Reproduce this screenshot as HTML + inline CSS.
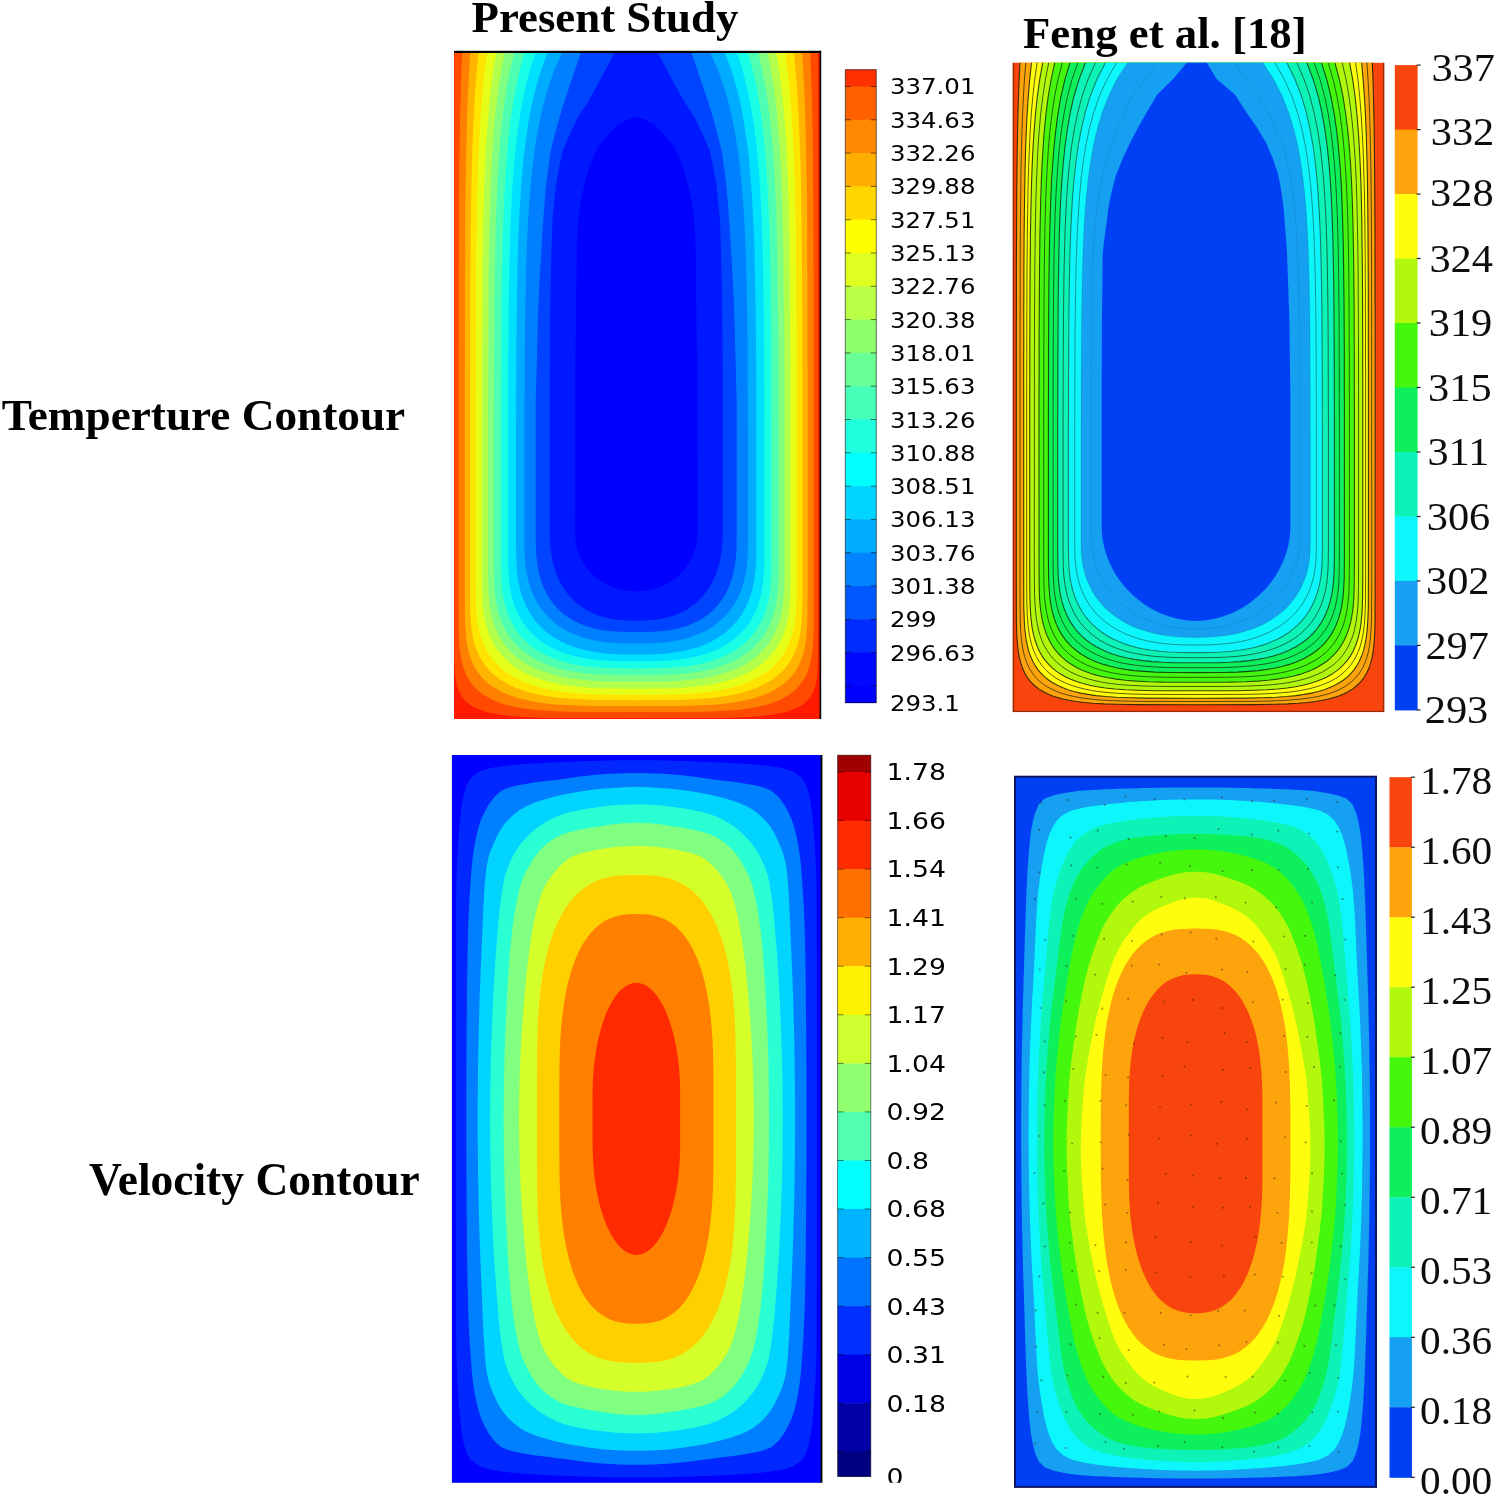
<!DOCTYPE html>
<html lang="en">
<head>
<meta charset="utf-8">
<title>Contour comparison</title>
<style>
html,body{margin:0;padding:0;background:#fff;}
body{width:1499px;height:1510px;overflow:hidden;font-family:"Liberation Serif","DejaVu Serif",serif;}
svg{display:block;}
</style>
</head>
<body>
<svg width="1499" height="1510" viewBox="0 0 1499 1510">
<defs><filter id="soft" x="-2%" y="-2%" width="104%" height="104%"><feGaussianBlur stdDeviation="0.65"/></filter></defs>
<g>
<rect x="454" y="52" width="366.5" height="667" fill="#ff1a00"/>
<path d="M454.4,52 454.4,71.7 454.4,91.4 454.4,111.2 454.4,130.9 454.4,150.6 454.4,170.3 454.4,190.1 454.4,209.8 454.4,229.5 454.4,249.2 454.4,269 454.4,288.7 454.4,308.4 454.4,328.1 454.4,347.9 454.4,367.6 454.4,387.3 454.4,407 454.4,426.8 454.4,446.5 454.4,466.2 454.4,485.9 454.4,505.7 454.4,525.4 454.4,545.1 454.4,564.8 454.4,584.6 454.4,604.3 454.4,624 454.5,660.2 454.9,669.8 455.4,676.5 456.2,681.8 457.2,686.2 458.5,690 460,693.4 461.8,696.4 463.8,699.1 466,701.5 468.6,703.7 471.4,705.7 474.6,707.5 478.1,709.1 481.9,710.6 486.2,711.9 490.9,713.1 496.1,714.1 501.8,715 508.4,715.8 515.8,716.4 524.3,717 534.6,717.4 547.6,717.7 566.1,717.8 636.2,717.9 706.3,717.8 724.8,717.7 737.8,717.4 748.1,717 756.6,716.4 764,715.8 770.6,715 776.3,714.1 781.5,713.1 786.2,711.9 790.5,710.6 794.3,709.1 797.8,707.5 801,705.7 803.8,703.7 806.4,701.5 808.6,699.1 810.6,696.4 812.4,693.4 813.9,690 815.2,686.2 816.2,681.8 817,676.5 817.5,669.8 817.9,660.2 818,624 818,604.3 818,584.6 818,564.8 818,545.1 818,525.4 818,505.7 818,485.9 818,466.2 818,446.5 818,426.8 818,407 818,387.3 818,367.6 818,347.9 818,328.1 818,308.4 818,288.7 818,269 818,249.2 818,229.5 818,209.8 818,190.1 818,170.3 818,150.6 818,130.9 818,111.2 818,91.4 818,71.7 818,52Z" fill="#ff4a00"/>
<path d="M462.1,52 461.4,70.9 460.8,89.7 460.3,108.6 459.9,127.4 459.7,146.3 459.4,165.2 459.3,184 459.1,202.9 459,221.8 458.9,240.6 458.9,259.5 458.8,278.3 458.8,297.2 458.8,316.1 458.8,334.9 458.7,353.8 458.7,372.7 458.7,391.5 458.7,410.4 458.7,429.2 458.7,448.1 458.7,467 458.7,485.8 458.7,504.7 458.7,523.6 458.7,542.4 458.7,561.3 458.7,580.1 458.7,599 458.8,630.5 459.3,642.1 460,650.8 461.1,657.9 462.4,664.1 464.1,669.5 466,674.4 468.3,678.8 470.9,682.8 473.8,686.4 477,689.7 480.6,692.8 484.6,695.6 489,698.1 493.8,700.4 499,702.5 504.7,704.4 511,706 517.9,707.4 525.5,708.7 534,709.7 543.7,710.6 554.9,711.3 568.5,711.7 586.8,712 636.2,712.1 685.6,712 703.9,711.7 717.5,711.3 728.7,710.6 738.4,709.7 746.9,708.7 754.5,707.4 761.4,706 767.7,704.4 773.4,702.5 778.6,700.4 783.4,698.1 787.8,695.6 791.8,692.8 795.4,689.7 798.6,686.4 801.5,682.8 804.1,678.8 806.4,674.4 808.3,669.5 810,664.1 811.3,657.9 812.4,650.8 813.1,642.1 813.6,630.5 813.7,599 813.7,580.1 813.7,561.3 813.7,542.4 813.7,523.6 813.7,504.7 813.7,485.8 813.7,467 813.7,448.1 813.7,429.2 813.7,410.4 813.7,391.5 813.7,372.7 813.7,353.8 813.6,334.9 813.6,316.1 813.6,297.2 813.6,278.3 813.5,259.5 813.5,240.6 813.4,221.8 813.3,202.9 813.1,184 813,165.2 812.7,146.3 812.5,127.4 812.1,108.6 811.6,89.7 811,70.9 810.3,52Z" fill="#ff8000"/>
<path d="M470.3,52 469.1,70.7 468.2,89.4 467.4,108.1 466.8,126.8 466.4,145.4 466,164.1 465.7,182.8 465.5,201.5 465.3,220.2 465.2,238.9 465.1,257.6 465,276.3 465,295 464.9,313.7 464.9,332.3 464.9,351 464.8,369.7 464.8,388.4 464.8,407.1 464.8,425.8 464.8,444.5 464.8,463.2 464.8,481.9 464.8,500.6 464.8,519.2 464.8,537.9 464.8,556.6 464.8,575.3 464.8,594 465,619.3 465.5,630.5 466.3,639.2 467.5,646.5 469,652.9 470.8,658.7 473,663.9 475.5,668.7 478.4,673 481.6,677.1 485.2,680.8 489.2,684.2 493.6,687.3 498.3,690.1 503.5,692.7 509.2,695.1 515.3,697.2 522,699.1 529.3,700.8 537.3,702.2 546.1,703.4 555.9,704.4 567.1,705.1 580.4,705.7 597.5,706 636.2,706.1 674.9,706 692,705.7 705.3,705.1 716.5,704.4 726.3,703.4 735.1,702.2 743.1,700.8 750.4,699.1 757.1,697.2 763.2,695.1 768.9,692.7 774.1,690.1 778.8,687.3 783.2,684.2 787.2,680.8 790.8,677.1 794,673 796.9,668.7 799.4,663.9 801.6,658.7 803.4,652.9 804.9,646.5 806.1,639.2 806.9,630.5 807.4,619.3 807.6,594 807.6,575.3 807.6,556.6 807.6,537.9 807.6,519.2 807.6,500.6 807.6,481.9 807.6,463.2 807.6,444.5 807.6,425.8 807.6,407.1 807.6,388.4 807.6,369.7 807.5,351 807.5,332.3 807.5,313.7 807.4,295 807.4,276.3 807.3,257.6 807.2,238.9 807.1,220.2 806.9,201.5 806.7,182.8 806.4,164.1 806,145.4 805.6,126.8 805,108.1 804.2,89.4 803.3,70.7 802.1,52Z" fill="#ffb400"/>
<path d="M478.6,52 476.8,70.5 475.3,89 474.1,107.4 473.2,125.9 472.5,144.4 471.9,162.9 471.5,181.4 471.1,199.9 470.9,218.3 470.7,236.8 470.5,255.3 470.4,273.8 470.3,292.3 470.2,310.8 470.1,329.2 470.1,347.7 470.1,366.2 470,384.7 470,403.2 470,421.7 470,440.1 470,458.6 470,477.1 470,495.6 470,514.1 470,532.6 470,551 470,569.5 470,588 470.2,609.9 470.7,620.7 471.6,629.3 472.8,636.8 474.4,643.4 476.4,649.3 478.7,654.8 481.4,659.8 484.4,664.4 487.8,668.7 491.6,672.7 495.8,676.3 500.4,679.7 505.4,682.8 510.8,685.6 516.7,688.2 523,690.5 529.9,692.5 537.3,694.3 545.4,695.9 554.2,697.2 564,698.3 575,699.1 587.8,699.7 603.8,700.1 636.2,700.2 668.6,700.1 684.6,699.7 697.4,699.1 708.4,698.3 718.2,697.2 727,695.9 735.1,694.3 742.5,692.5 749.4,690.5 755.7,688.2 761.6,685.6 767,682.8 772,679.7 776.6,676.3 780.8,672.7 784.6,668.7 788,664.4 791,659.8 793.7,654.8 796,649.3 798,643.4 799.6,636.8 800.8,629.3 801.7,620.7 802.2,609.9 802.4,588 802.4,569.5 802.4,551 802.4,532.6 802.4,514.1 802.4,495.6 802.4,477.1 802.4,458.6 802.4,440.1 802.4,421.7 802.4,403.2 802.4,384.7 802.3,366.2 802.3,347.7 802.3,329.2 802.2,310.8 802.1,292.3 802,273.8 801.9,255.3 801.7,236.8 801.5,218.3 801.3,199.9 800.9,181.4 800.5,162.9 799.9,144.4 799.2,125.9 798.3,107.4 797.1,89 795.6,70.5 793.8,52Z" fill="#ffe400"/>
<path d="M487.4,52 484.9,70.3 482.9,88.6 481.4,106.8 480.1,125.1 479.1,143.4 478.4,161.7 477.8,179.9 477.3,198.2 476.9,216.5 476.6,234.8 476.4,253 476.2,271.3 476.1,289.6 476,307.9 475.9,326.1 475.8,344.4 475.8,362.7 475.8,381 475.7,399.2 475.7,417.5 475.7,435.8 475.7,454.1 475.7,472.3 475.7,490.6 475.7,508.9 475.7,527.2 475.7,545.4 475.7,563.7 475.7,582 475.9,601.5 476.4,612.1 477.3,620.7 478.6,628.2 480.3,634.9 482.3,641 484.7,646.6 487.4,651.8 490.6,656.7 494.1,661.2 498,665.3 502.3,669.2 506.9,672.8 512,676.1 517.5,679.1 523.4,681.8 529.8,684.3 536.7,686.5 544.2,688.4 552.2,690.1 560.9,691.5 570.5,692.6 581.1,693.5 593.4,694.2 608.4,694.6 636.2,694.7 664,694.6 679,694.2 691.3,693.5 701.9,692.6 711.5,691.5 720.2,690.1 728.2,688.4 735.7,686.5 742.6,684.3 749,681.8 754.9,679.1 760.4,676.1 765.5,672.8 770.1,669.2 774.4,665.3 778.3,661.2 781.8,656.7 785,651.8 787.7,646.6 790.1,641 792.1,634.9 793.8,628.2 795.1,620.7 796,612.1 796.5,601.5 796.7,582 796.7,563.7 796.7,545.4 796.7,527.2 796.7,508.9 796.7,490.6 796.7,472.3 796.7,454.1 796.7,435.8 796.7,417.5 796.7,399.2 796.6,381 796.6,362.7 796.6,344.4 796.5,326.1 796.4,307.9 796.3,289.6 796.2,271.3 796,253 795.8,234.8 795.5,216.5 795.1,198.2 794.6,179.9 794,161.7 793.3,143.4 792.3,125.1 791,106.8 789.5,88.6 787.5,70.3 785,52Z" fill="#e6ff18"/>
<path d="M496.4,52 493.3,70.1 490.9,88.1 489,106.2 487.5,124.3 486.2,142.3 485.3,160.4 484.5,178.5 483.9,196.6 483.5,214.6 483.1,232.7 482.8,250.8 482.6,268.8 482.4,286.9 482.3,305 482.2,323 482.1,341.1 482,359.2 482,377.2 482,395.3 481.9,413.4 481.9,431.4 481.9,449.5 481.9,467.6 481.9,485.7 481.9,503.7 481.9,521.8 481.9,539.9 481.9,557.9 481.9,576 482.1,594 482.6,604.2 483.6,612.7 484.8,620.2 486.5,627 488.5,633.2 490.9,638.9 493.7,644.3 496.8,649.2 500.4,653.8 504.3,658.1 508.5,662.1 513.2,665.8 518.3,669.2 523.7,672.4 529.6,675.2 535.9,677.8 542.7,680.1 550,682.1 557.9,683.9 566.4,685.3 575.7,686.5 585.9,687.5 597.5,688.2 611.6,688.6 636.2,688.7 660.8,688.6 674.9,688.2 686.5,687.5 696.7,686.5 706,685.3 714.5,683.9 722.4,682.1 729.7,680.1 736.5,677.8 742.8,675.2 748.7,672.4 754.1,669.2 759.2,665.8 763.9,662.1 768.1,658.1 772,653.8 775.6,649.2 778.7,644.3 781.5,638.9 783.9,633.2 785.9,627 787.6,620.2 788.8,612.7 789.8,604.2 790.3,594 790.5,576 790.5,557.9 790.5,539.9 790.5,521.8 790.5,503.7 790.5,485.7 790.5,467.6 790.5,449.5 790.5,431.4 790.5,413.4 790.4,395.3 790.4,377.2 790.4,359.2 790.3,341.1 790.2,323 790.1,305 790,286.9 789.8,268.8 789.6,250.8 789.3,232.7 788.9,214.6 788.5,196.6 787.9,178.5 787.1,160.4 786.2,142.3 784.9,124.3 783.4,106.2 781.5,88.1 779.1,70.1 776,52Z" fill="#b2ff4c"/>
<path d="M505,52 501.5,69.9 498.6,87.7 496.4,105.6 494.6,123.4 493.2,141.3 492,159.2 491.1,177 490.4,194.9 489.9,212.8 489.4,230.6 489.1,248.5 488.8,266.3 488.6,284.2 488.5,302.1 488.3,319.9 488.2,337.8 488.2,355.7 488.1,373.5 488.1,391.4 488,409.2 488,427.1 488,445 488,462.8 488,480.7 488,498.6 488,516.4 488,534.3 488,552.1 488,570 488.2,587.2 488.7,597.2 489.6,605.6 490.9,613 492.5,619.8 494.5,625.9 496.9,631.7 499.6,637 502.6,642 506.1,646.6 509.9,651 514.1,655 518.6,658.7 523.6,662.1 528.9,665.3 534.6,668.2 540.8,670.8 547.4,673.1 554.4,675.1 562,676.9 570.2,678.4 579.2,679.6 589,680.6 600.1,681.3 613.5,681.7 636.2,681.8 658.9,681.7 672.3,681.3 683.4,680.6 693.2,679.6 702.2,678.4 710.4,676.9 718,675.1 725,673.1 731.6,670.8 737.8,668.2 743.5,665.3 748.8,662.1 753.8,658.7 758.3,655 762.5,651 766.3,646.6 769.8,642 772.8,637 775.5,631.7 777.9,625.9 779.9,619.8 781.5,613 782.8,605.6 783.7,597.2 784.2,587.2 784.4,570 784.4,552.1 784.4,534.3 784.4,516.4 784.4,498.6 784.4,480.7 784.4,462.8 784.4,445 784.4,427.1 784.4,409.2 784.3,391.4 784.3,373.5 784.2,355.7 784.2,337.8 784.1,319.9 783.9,302.1 783.8,284.2 783.6,266.3 783.3,248.5 783,230.6 782.5,212.8 782,194.9 781.3,177 780.4,159.2 779.2,141.3 777.8,123.4 776,105.6 773.8,87.7 770.9,69.9 767.4,52Z" fill="#80ff80"/>
<path d="M514.4,52 510.2,69.7 506.8,87.3 504.1,105 502,122.6 500.3,140.3 498.9,157.9 497.8,175.6 497,193.2 496.3,210.9 495.8,228.6 495.4,246.2 495,263.9 494.8,281.5 494.6,299.2 494.4,316.8 494.3,334.5 494.2,352.1 494.1,369.8 494.1,387.4 494.1,405.1 494,422.8 494,440.4 494,458.1 494,475.7 494,493.4 494,511 494,528.7 494,546.3 494,564 494.2,580.4 494.7,590.3 495.6,598.6 496.8,605.9 498.4,612.7 500.4,618.8 502.7,624.6 505.3,630 508.3,635 511.7,639.7 515.4,644 519.5,648.1 524,651.9 528.8,655.3 534,658.5 539.5,661.4 545.5,664.1 551.9,666.4 558.8,668.5 566.1,670.3 574,671.8 582.6,673.1 592,674.1 602.7,674.7 615.3,675.2 636.2,675.3 657.1,675.2 669.7,674.7 680.4,674.1 689.8,673.1 698.4,671.8 706.3,670.3 713.6,668.5 720.5,666.4 726.9,664.1 732.9,661.4 738.4,658.5 743.6,655.3 748.4,651.9 752.9,648.1 757,644 760.7,639.7 764.1,635 767.1,630 769.7,624.6 772,618.8 774,612.7 775.6,605.9 776.8,598.6 777.7,590.3 778.2,580.4 778.4,564 778.4,546.3 778.4,528.7 778.4,511 778.4,493.4 778.4,475.7 778.4,458.1 778.4,440.4 778.4,422.8 778.3,405.1 778.3,387.4 778.3,369.8 778.2,352.1 778.1,334.5 778,316.8 777.8,299.2 777.6,281.5 777.4,263.9 777,246.2 776.6,228.6 776.1,210.9 775.4,193.2 774.6,175.6 773.5,157.9 772.1,140.3 770.4,122.6 768.3,105 765.6,87.3 762.2,69.7 758,52Z" fill="#4effb2"/>
<path d="M524.8,52 519.9,69.4 516,86.9 512.9,104.3 510.4,121.8 508.4,139.2 506.8,156.7 505.6,174.1 504.6,191.6 503.8,209 503.1,226.5 502.6,243.9 502.3,261.4 501.9,278.8 501.7,296.3 501.5,313.7 501.4,331.2 501.3,348.6 501.2,366.1 501.1,383.5 501.1,401 501,418.4 501,435.9 501,453.3 501,470.8 501,488.2 501,505.7 501,523.1 501,540.6 501,558 501.2,573.9 501.7,583.6 502.5,591.8 503.7,599.1 505.3,605.8 507.1,612 509.3,617.7 511.9,623 514.8,628 518,632.7 521.6,637.1 525.5,641.1 529.8,644.9 534.4,648.4 539.4,651.6 544.7,654.5 550.4,657.1 556.5,659.5 563.1,661.6 570.1,663.4 577.6,664.9 585.8,666.2 594.8,667.1 604.8,667.8 616.7,668.3 636.2,668.4 655.7,668.3 667.6,667.8 677.6,667.1 686.6,666.2 694.8,664.9 702.3,663.4 709.3,661.6 715.9,659.5 722,657.1 727.7,654.5 733,651.6 738,648.4 742.6,644.9 746.9,641.1 750.8,637.1 754.4,632.7 757.6,628 760.5,623 763.1,617.7 765.3,612 767.1,605.8 768.7,599.1 769.9,591.8 770.7,583.6 771.2,573.9 771.4,558 771.4,540.6 771.4,523.1 771.4,505.7 771.4,488.2 771.4,470.8 771.4,453.3 771.4,435.9 771.4,418.4 771.3,401 771.3,383.5 771.2,366.1 771.1,348.6 771,331.2 770.9,313.7 770.7,296.3 770.5,278.8 770.1,261.4 769.8,243.9 769.3,226.5 768.6,209 767.8,191.6 766.8,174.1 765.6,156.7 764,139.2 762,121.8 759.5,104.3 756.4,86.9 752.5,69.4 747.6,52Z" fill="#18ffe6"/>
<path d="M535.7,52 530.1,69.2 525.6,86.5 522,103.7 519.1,121 516.8,138.2 514.9,155.4 513.4,172.7 512.2,189.9 511.3,207.2 510.6,224.4 510,241.7 509.5,258.9 509.2,276.1 508.9,293.4 508.6,310.6 508.5,327.9 508.3,345.1 508.2,362.3 508.2,379.6 508.1,396.8 508.1,414.1 508,431.3 508,448.6 508,465.8 508,483 508,500.3 508,517.5 508,534.8 508,552 508.2,566.8 508.7,576.2 509.5,584.2 510.7,591.4 512.2,598.1 514,604.2 516.2,610 518.7,615.3 521.5,620.4 524.6,625.1 528.1,629.5 531.9,633.6 536.1,637.4 540.6,641 545.4,644.2 550.6,647.2 556.1,649.9 562,652.3 568.3,654.4 575,656.3 582.2,657.8 590,659.1 598.4,660.1 607.9,660.8 618.9,661.3 636.2,661.4 653.5,661.3 664.5,660.8 674,660.1 682.4,659.1 690.2,657.8 697.4,656.3 704.1,654.4 710.4,652.3 716.3,649.9 721.8,647.2 727,644.2 731.8,641 736.3,637.4 740.5,633.6 744.3,629.5 747.8,625.1 750.9,620.4 753.7,615.3 756.2,610 758.4,604.2 760.2,598.1 761.7,591.4 762.9,584.2 763.7,576.2 764.2,566.8 764.4,552 764.4,534.8 764.4,517.5 764.4,500.3 764.4,483 764.4,465.8 764.4,448.6 764.4,431.3 764.3,414.1 764.3,396.8 764.2,379.6 764.2,362.3 764.1,345.1 763.9,327.9 763.8,310.6 763.5,293.4 763.2,276.1 762.9,258.9 762.4,241.7 761.8,224.4 761.1,207.2 760.2,189.9 759,172.7 757.5,155.4 755.6,138.2 753.3,121 750.4,103.7 746.8,86.5 742.3,69.2 736.7,52Z" fill="#00e0ff"/>
<path d="M547.7,52 541.4,69 536.3,86.1 532.1,103.1 528.8,120.1 526.2,137.2 524,154.2 522.3,171.2 521,188.3 519.9,205.3 519,222.3 518.3,239.4 517.8,256.4 517.4,273.4 517,290.5 516.8,307.5 516.6,324.6 516.4,341.6 516.3,358.6 516.2,375.7 516.1,392.7 516.1,409.7 516,426.8 516,443.8 516,460.8 516,477.9 516,494.9 516,511.9 516,529 516,546 516.2,559.1 516.7,568.1 517.5,575.9 518.6,583 520.1,589.6 521.9,595.7 524.1,601.5 526.5,606.9 529.3,612.1 532.4,616.9 535.8,621.4 539.5,625.6 543.6,629.6 548,633.2 552.7,636.6 557.7,639.7 563,642.5 568.7,645 574.7,647.2 581.1,649.1 587.9,650.8 595.2,652.1 603.1,653.2 611.7,653.9 621.7,654.4 636.2,654.5 650.7,654.4 660.7,653.9 669.3,653.2 677.2,652.1 684.5,650.8 691.3,649.1 697.7,647.2 703.7,645 709.4,642.5 714.7,639.7 719.7,636.6 724.4,633.2 728.8,629.6 732.9,625.6 736.6,621.4 740,616.9 743.1,612.1 745.9,606.9 748.3,601.5 750.5,595.7 752.3,589.6 753.8,583 754.9,575.9 755.7,568.1 756.2,559.1 756.4,546 756.4,529 756.4,511.9 756.4,494.9 756.4,477.9 756.4,460.8 756.4,443.8 756.4,426.8 756.3,409.7 756.3,392.7 756.2,375.7 756.1,358.6 756,341.6 755.8,324.6 755.6,307.5 755.4,290.5 755,273.4 754.6,256.4 754.1,239.4 753.4,222.3 752.5,205.3 751.4,188.3 750.1,171.2 748.4,154.2 746.2,137.2 743.6,120.1 740.3,103.1 736.1,86.1 731,69 724.7,52Z" fill="#00acff"/>
<path d="M562.4,52 554.9,68.8 548.8,85.7 543.9,102.5 540,119.3 536.8,136.1 534.2,153 532.2,169.8 530.5,186.6 529.2,203.4 528.1,220.3 527.3,237.1 526.6,253.9 526.1,270.8 525.7,287.6 525.4,304.4 525.1,321.2 524.9,338.1 524.8,354.9 524.7,371.7 524.6,388.6 524.5,405.4 524.5,422.2 524.4,439 524.4,455.9 524.4,472.7 524.4,489.5 524.4,506.3 524.4,523.2 524.4,540 524.6,551.9 525,560.3 525.8,567.7 526.9,574.5 528.3,580.7 530,586.6 532.1,592.2 534.4,597.4 537,602.4 540,607 543.2,611.4 546.7,615.5 550.6,619.3 554.7,622.9 559.1,626.2 563.9,629.2 568.9,631.9 574.2,634.3 579.9,636.5 585.9,638.4 592.2,640 599,641.3 606.3,642.3 614.3,643 623.3,643.5 636.2,643.6 649.1,643.5 658.1,643 666.1,642.3 673.4,641.3 680.2,640 686.5,638.4 692.5,636.5 698.2,634.3 703.5,631.9 708.5,629.2 713.3,626.2 717.7,622.9 721.8,619.3 725.7,615.5 729.2,611.4 732.4,607 735.4,602.4 738,597.4 740.3,592.2 742.4,586.6 744.1,580.7 745.5,574.5 746.6,567.7 747.4,560.3 747.8,551.9 748,540 748,523.2 748,506.3 748,489.5 748,472.7 748,455.9 748,439 747.9,422.2 747.9,405.4 747.8,388.6 747.7,371.7 747.6,354.9 747.5,338.1 747.3,321.2 747,304.4 746.7,287.6 746.3,270.8 745.8,253.9 745.1,237.1 744.3,220.3 743.2,203.4 741.9,186.6 740.2,169.8 738.2,153 735.6,136.1 732.4,119.3 728.5,102.5 723.6,85.7 717.5,68.8 710,52Z" fill="#0080ff"/>
<path d="M581.1,52 575.5,68.6 569.8,85.2 564.2,101.9 559.1,118.5 554.7,135.1 550.5,151.7 548.3,168.3 546.1,185 544.6,201.6 543.4,218.2 542.2,234.8 541.3,251.4 540.3,268.1 539.4,284.7 538.5,301.3 538,317.9 537.5,334.6 537.1,351.2 536.6,367.8 536.2,384.4 535.7,401 535.7,417.7 535.7,434.3 535.7,450.9 535.7,467.5 535.7,484.1 535.7,500.8 535.7,517.4 535.7,534 535.8,546 536.2,554.1 536.9,561.2 537.9,567.6 539.1,573.5 540.6,579.1 542.4,584.3 544.5,589.2 546.8,593.9 549.4,598.2 552.2,602.3 555.3,606.1 558.7,609.7 562.3,613 566.2,616 570.4,618.8 574.9,621.3 579.6,623.6 584.6,625.5 590,627.3 595.7,628.8 601.8,630 608.4,630.9 615.6,631.6 623.9,632 636.2,632.1 648.5,632 656.8,631.6 664,630.9 670.6,630 676.7,628.8 682.4,627.3 687.8,625.5 692.8,623.6 697.5,621.3 702,618.8 706.2,616 710.1,613 713.7,609.7 717.1,606.1 720.2,602.3 723,598.2 725.6,593.9 727.9,589.2 730,584.3 731.8,579.1 733.3,573.5 734.5,567.6 735.5,561.2 736.2,554.1 736.6,546 736.7,534 736.7,517.4 736.7,500.8 736.7,484.1 736.7,467.5 736.7,450.9 736.7,434.3 736.7,417.7 736.7,401 736.2,384.4 735.8,367.8 735.3,351.2 734.9,334.6 734.4,317.9 733.9,301.3 733,284.7 732.1,268.1 731.1,251.4 730.2,234.8 729,218.2 727.8,201.6 726.3,185 724.1,168.3 721.9,151.7 717.7,135.1 713.3,118.5 708.2,101.9 702.6,85.2 696.9,68.6 691.3,52Z" fill="#0044ff"/>
<path d="M615.1,52 606.2,68.4 597.4,84.9 588.4,101.3 577.6,117.8 569.8,134.2 562.6,150.7 559.2,167.1 556.2,183.6 554.4,200 552.7,216.5 552,232.9 551.5,249.4 551.1,265.8 550.7,282.3 550.3,298.7 550.1,315.2 550,331.6 549.9,348.1 549.8,364.5 549.7,381 549.7,397.4 549.7,413.9 549.7,430.3 549.7,446.8 549.7,463.2 549.7,479.7 549.7,496.1 549.7,512.6 549.7,529 549.8,538.1 550.2,545.1 550.9,551.4 551.8,557.3 552.9,562.8 554.4,568.1 556,573.1 557.9,577.8 560.1,582.3 562.5,586.6 565.2,590.6 568.1,594.4 571.2,597.9 574.5,601.2 578.1,604.3 581.9,607.1 585.9,609.7 590.2,612 594.6,614 599.4,615.8 604.3,617.3 609.5,618.5 615.1,619.5 621,620.1 627.6,620.6 636.2,620.7 644.8,620.6 651.4,620.1 657.3,619.5 662.9,618.5 668.1,617.3 673,615.8 677.8,614 682.2,612 686.5,609.7 690.5,607.1 694.3,604.3 697.9,601.2 701.2,597.9 704.3,594.4 707.2,590.6 709.9,586.6 712.3,582.3 714.5,577.8 716.4,573.1 718,568.1 719.5,562.8 720.6,557.3 721.5,551.4 722.2,545.1 722.6,538.1 722.7,529 722.7,512.6 722.7,496.1 722.7,479.7 722.7,463.2 722.7,446.8 722.7,430.3 722.7,413.9 722.7,397.4 722.7,381 722.6,364.5 722.5,348.1 722.4,331.6 722.3,315.2 722.1,298.7 721.7,282.3 721.3,265.8 720.9,249.4 720.4,232.9 719.7,216.5 718,200 716.2,183.6 713.2,167.1 709.8,150.7 702.6,134.2 694.8,117.8 684,101.3 675,84.9 666.2,68.4 657.3,52Z" fill="#0018ff"/>
<path d="M636.2,117.1 629,119 618.2,124 608,135 598.8,146 594.5,154.5 588.5,170 584.2,185.4 581,200 578.7,216 577.2,235 576.7,253 576.2,300 575.3,360 575.1,534 575.1,534 575.2,537.5 575.5,541 576.1,544.4 576.9,547.8 577.9,551.2 579.1,554.5 580.5,557.7 582.1,560.8 583.9,563.8 585.9,566.7 588,569.5 590.4,572.1 592.9,574.7 595.6,577 598.4,579.2 601.4,581.3 604.5,583.2 607.7,584.9 611,586.4 614.4,587.7 617.9,588.8 621.5,589.7 625.1,590.5 628.8,591 632.5,591.3 636.2,591.4 639.9,591.3 643.6,591 647.3,590.5 650.9,589.7 654.5,588.8 658,587.7 661.4,586.4 664.7,584.9 667.9,583.2 671,581.3 674,579.2 676.8,577 679.5,574.7 682,572.1 684.4,569.5 686.5,566.7 688.5,563.8 690.3,560.8 691.9,557.7 693.3,554.5 694.5,551.2 695.5,547.8 696.3,544.4 696.9,541 697.2,537.5 697.3,534 697.3,534 697.1,360 696.2,300 695.7,253 695.2,235 693.7,216 691.4,200 688.2,185.4 683.9,170 677.9,154.5 673.6,146 664.4,135 654.2,124 643.4,119Z" fill="#0000ff"/>
<rect x="454" y="50.8" width="367.1" height="2.2" fill="#000"/>
<rect x="819.6" y="50.8" width="1.6" height="668.2" fill="#000"/>
</g>
<g>
<rect x="845.3" y="69.6" width="31" height="17.4" fill="#ff3000"/>
<rect x="845.3" y="86.5" width="31" height="33.8" fill="#ff6000"/>
<rect x="845.3" y="119.8" width="31" height="33.8" fill="#ff8800"/>
<rect x="845.3" y="153.1" width="31" height="33.8" fill="#ffae00"/>
<rect x="845.3" y="186.4" width="31" height="33.8" fill="#ffd600"/>
<rect x="845.3" y="219.7" width="31" height="33.8" fill="#ffff00"/>
<rect x="845.3" y="253" width="31" height="33.8" fill="#deff20"/>
<rect x="845.3" y="286.3" width="31" height="33.8" fill="#b8ff46"/>
<rect x="845.3" y="319.6" width="31" height="33.8" fill="#90ff6e"/>
<rect x="845.3" y="352.9" width="31" height="33.8" fill="#68ff96"/>
<rect x="845.3" y="386.2" width="31" height="33.8" fill="#46ffb8"/>
<rect x="845.3" y="419.5" width="31" height="33.8" fill="#20ffde"/>
<rect x="845.3" y="452.8" width="31" height="33.8" fill="#00ffff"/>
<rect x="845.3" y="486.1" width="31" height="33.8" fill="#00d4ff"/>
<rect x="845.3" y="519.4" width="31" height="33.8" fill="#00acff"/>
<rect x="845.3" y="552.7" width="31" height="33.8" fill="#0084ff"/>
<rect x="845.3" y="586" width="31" height="33.8" fill="#0058ff"/>
<rect x="845.3" y="619.3" width="31" height="33.8" fill="#002cff"/>
<rect x="845.3" y="652.6" width="31" height="33.8" fill="#0008ff"/>
<rect x="845.3" y="685.9" width="31" height="17.2" fill="#0000ff"/>
<path d="M845.3,86.5 h5.5 M876.3,86.5 h-5.5" stroke="#000" stroke-opacity="0.55" stroke-width="1"/>
<path d="M845.3,119.8 h5.5 M876.3,119.8 h-5.5" stroke="#000" stroke-opacity="0.55" stroke-width="1"/>
<path d="M845.3,153.1 h5.5 M876.3,153.1 h-5.5" stroke="#000" stroke-opacity="0.55" stroke-width="1"/>
<path d="M845.3,186.4 h5.5 M876.3,186.4 h-5.5" stroke="#000" stroke-opacity="0.55" stroke-width="1"/>
<path d="M845.3,219.7 h5.5 M876.3,219.7 h-5.5" stroke="#000" stroke-opacity="0.55" stroke-width="1"/>
<path d="M845.3,253 h5.5 M876.3,253 h-5.5" stroke="#000" stroke-opacity="0.55" stroke-width="1"/>
<path d="M845.3,286.3 h5.5 M876.3,286.3 h-5.5" stroke="#000" stroke-opacity="0.55" stroke-width="1"/>
<path d="M845.3,319.6 h5.5 M876.3,319.6 h-5.5" stroke="#000" stroke-opacity="0.55" stroke-width="1"/>
<path d="M845.3,352.9 h5.5 M876.3,352.9 h-5.5" stroke="#000" stroke-opacity="0.55" stroke-width="1"/>
<path d="M845.3,386.2 h5.5 M876.3,386.2 h-5.5" stroke="#000" stroke-opacity="0.55" stroke-width="1"/>
<path d="M845.3,419.5 h5.5 M876.3,419.5 h-5.5" stroke="#000" stroke-opacity="0.55" stroke-width="1"/>
<path d="M845.3,452.8 h5.5 M876.3,452.8 h-5.5" stroke="#000" stroke-opacity="0.55" stroke-width="1"/>
<path d="M845.3,486.1 h5.5 M876.3,486.1 h-5.5" stroke="#000" stroke-opacity="0.55" stroke-width="1"/>
<path d="M845.3,519.4 h5.5 M876.3,519.4 h-5.5" stroke="#000" stroke-opacity="0.55" stroke-width="1"/>
<path d="M845.3,552.7 h5.5 M876.3,552.7 h-5.5" stroke="#000" stroke-opacity="0.55" stroke-width="1"/>
<path d="M845.3,586 h5.5 M876.3,586 h-5.5" stroke="#000" stroke-opacity="0.55" stroke-width="1"/>
<path d="M845.3,619.3 h5.5 M876.3,619.3 h-5.5" stroke="#000" stroke-opacity="0.55" stroke-width="1"/>
<path d="M845.3,652.6 h5.5 M876.3,652.6 h-5.5" stroke="#000" stroke-opacity="0.55" stroke-width="1"/>
<path d="M845.3,685.9 h5.5 M876.3,685.9 h-5.5" stroke="#000" stroke-opacity="0.55" stroke-width="1"/>
<rect x="845.3" y="69.6" width="31" height="633" fill="none" stroke="#000" stroke-opacity="0.55" stroke-width="1"/>
<g font-family="'DejaVu Sans', 'Liberation Sans', sans-serif" font-size="22" fill="#000">
<text x="890" y="94.5" transform="translate(890 0) scale(1.11 1) translate(-890 0)">337.01</text>
<text x="890" y="127.8" transform="translate(890 0) scale(1.11 1) translate(-890 0)">334.63</text>
<text x="890" y="161.1" transform="translate(890 0) scale(1.11 1) translate(-890 0)">332.26</text>
<text x="890" y="194.4" transform="translate(890 0) scale(1.11 1) translate(-890 0)">329.88</text>
<text x="890" y="227.7" transform="translate(890 0) scale(1.11 1) translate(-890 0)">327.51</text>
<text x="890" y="261" transform="translate(890 0) scale(1.11 1) translate(-890 0)">325.13</text>
<text x="890" y="294.3" transform="translate(890 0) scale(1.11 1) translate(-890 0)">322.76</text>
<text x="890" y="327.6" transform="translate(890 0) scale(1.11 1) translate(-890 0)">320.38</text>
<text x="890" y="360.9" transform="translate(890 0) scale(1.11 1) translate(-890 0)">318.01</text>
<text x="890" y="394.2" transform="translate(890 0) scale(1.11 1) translate(-890 0)">315.63</text>
<text x="890" y="427.5" transform="translate(890 0) scale(1.11 1) translate(-890 0)">313.26</text>
<text x="890" y="460.8" transform="translate(890 0) scale(1.11 1) translate(-890 0)">310.88</text>
<text x="890" y="494.1" transform="translate(890 0) scale(1.11 1) translate(-890 0)">308.51</text>
<text x="890" y="527.4" transform="translate(890 0) scale(1.11 1) translate(-890 0)">306.13</text>
<text x="890" y="560.7" transform="translate(890 0) scale(1.11 1) translate(-890 0)">303.76</text>
<text x="890" y="594" transform="translate(890 0) scale(1.11 1) translate(-890 0)">301.38</text>
<text x="890" y="627.3" transform="translate(890 0) scale(1.11 1) translate(-890 0)">299</text>
<text x="890" y="660.6" transform="translate(890 0) scale(1.11 1) translate(-890 0)">296.63</text>
<text x="890" y="710.6" transform="translate(890 0) scale(1.11 1) translate(-890 0)">293.1</text>
</g></g>
<g filter="url(#soft)">
<rect x="1012.7" y="62.8" width="371.6" height="649.3" fill="#f84408"/>
<path d="M1020,62.8 1019.1,80.7 1018.4,98.6 1017.9,116.5 1017.5,134.4 1017.2,152.3 1017,170.2 1016.8,188.1 1016.7,206.1 1016.6,224 1016.5,241.9 1016.4,259.8 1016.4,277.7 1016.4,295.6 1016.4,313.5 1016.3,331.4 1016.3,349.3 1016.3,367.2 1016.3,385.1 1016.3,403 1016.3,420.9 1016.3,438.8 1016.3,456.8 1016.3,474.7 1016.3,492.6 1016.3,510.5 1016.3,528.4 1016.3,546.3 1016.3,564.2 1016.3,582.1 1016.4,622.9 1016.8,635.6 1017.5,644.7 1018.4,652.1 1019.5,658.3 1021,663.7 1022.7,668.6 1024.7,672.9 1026.9,676.8 1029.5,680.3 1032.4,683.5 1035.6,686.5 1039.1,689.1 1043,691.5 1047.3,693.7 1052,695.7 1057.2,697.4 1062.9,699 1069.2,700.3 1076.2,701.5 1084.2,702.5 1093.3,703.3 1104.1,703.9 1117.5,704.3 1136,704.6 1195.7,704.7 1255.4,704.6 1273.9,704.3 1287.3,703.9 1298.1,703.3 1307.2,702.5 1315.2,701.5 1322.2,700.3 1328.5,699 1334.2,697.4 1339.4,695.7 1344.1,693.7 1348.4,691.5 1352.3,689.1 1355.8,686.5 1359,683.5 1361.9,680.3 1364.5,676.8 1366.7,672.9 1368.7,668.6 1370.4,663.7 1371.9,658.3 1373,652.1 1373.9,644.7 1374.6,635.6 1375,622.9 1375.1,582.1 1375.1,564.2 1375.1,546.3 1375.1,528.4 1375.1,510.5 1375.1,492.6 1375.1,474.7 1375.1,456.8 1375.1,438.8 1375.1,420.9 1375.1,403 1375.1,385.1 1375.1,367.2 1375.1,349.3 1375.1,331.4 1375.1,313.5 1375,295.6 1375,277.7 1375,259.8 1375,241.9 1374.9,224 1374.8,206.1 1374.7,188.1 1374.6,170.2 1374.4,152.3 1374.2,134.4 1373.9,116.5 1373.5,98.6 1373,80.7 1372.3,62.8Z" fill="#fda40e"/>
<path d="M1031.5,62.8 1029.6,80.4 1028.2,97.9 1027.1,115.5 1026.2,133 1025.6,150.6 1025.1,168.2 1024.8,185.7 1024.5,203.3 1024.3,220.9 1024.1,238.4 1024,256 1023.9,273.5 1023.9,291.1 1023.8,308.7 1023.8,326.2 1023.8,343.8 1023.7,361.4 1023.7,378.9 1023.7,396.5 1023.7,414 1023.7,431.6 1023.7,449.2 1023.7,466.7 1023.7,484.3 1023.7,501.9 1023.7,519.4 1023.7,537 1023.7,554.5 1023.7,572.1 1023.8,607.8 1024.3,620.8 1025,630.5 1026,638.4 1027.3,645.2 1028.8,651.2 1030.7,656.6 1032.9,661.5 1035.4,665.9 1038.1,669.9 1041.3,673.6 1044.7,676.9 1048.6,680 1052.8,682.8 1057.4,685.3 1062.4,687.6 1067.9,689.7 1073.9,691.5 1080.6,693.1 1087.9,694.4 1096.1,695.6 1105.4,696.5 1116.3,697.3 1129.5,697.8 1147.2,698.1 1196.1,698.2 1244.9,698.1 1262.6,697.8 1275.8,697.3 1286.7,696.5 1296,695.6 1304.2,694.4 1311.5,693.1 1318.2,691.5 1324.2,689.7 1329.7,687.6 1334.7,685.3 1339.3,682.8 1343.5,680 1347.4,676.9 1350.8,673.6 1354,669.9 1356.7,665.9 1359.2,661.5 1361.4,656.6 1363.3,651.2 1364.8,645.2 1366.1,638.4 1367.1,630.5 1367.8,620.8 1368.3,607.8 1368.4,572.1 1368.4,554.5 1368.4,537 1368.4,519.4 1368.4,501.9 1368.4,484.3 1368.4,466.7 1368.4,449.2 1368.4,431.6 1368.4,414 1368.4,396.5 1368.4,378.9 1368.4,361.4 1368.3,343.8 1368.3,326.2 1368.3,308.7 1368.3,291.1 1368.2,273.5 1368.1,256 1368,238.4 1367.9,220.9 1367.7,203.3 1367.5,185.7 1367.2,168.2 1366.7,150.6 1366.2,133 1365.5,115.5 1364.5,97.9 1363.2,80.4 1361.6,62.8Z" fill="#fffc10"/>
<path d="M1042.7,62.8 1039.6,80.2 1037.2,97.6 1035.4,115 1034,132.4 1032.9,149.7 1032.1,167.1 1031.5,184.5 1031.1,201.9 1030.7,219.3 1030.4,236.7 1030.3,254.1 1030.1,271.5 1030,288.9 1029.9,306.3 1029.9,323.6 1029.8,341 1029.8,358.4 1029.8,375.8 1029.7,393.2 1029.7,410.6 1029.7,428 1029.7,445.4 1029.7,462.8 1029.7,480.2 1029.7,497.5 1029.7,514.9 1029.7,532.3 1029.7,549.7 1029.7,567.1 1029.9,597.5 1030.3,610 1031.1,619.6 1032.1,627.6 1033.5,634.6 1035.2,640.8 1037.2,646.3 1039.5,651.4 1042.2,656.1 1045.2,660.3 1048.5,664.2 1052.2,667.8 1056.2,671.1 1060.6,674.1 1065.5,676.9 1070.7,679.3 1076.5,681.5 1082.7,683.5 1089.6,685.2 1097.1,686.7 1105.4,688 1114.8,689 1125.5,689.8 1138.4,690.3 1155.3,690.7 1196.2,690.8 1237.2,690.7 1254.1,690.3 1267,689.8 1277.7,689 1287.1,688 1295.4,686.7 1302.9,685.2 1309.8,683.5 1316,681.5 1321.8,679.3 1327,676.9 1331.9,674.1 1336.3,671.1 1340.3,667.8 1344,664.2 1347.3,660.3 1350.3,656.1 1353,651.4 1355.3,646.3 1357.3,640.8 1359,634.6 1360.4,627.6 1361.4,619.6 1362.2,610 1362.6,597.5 1362.8,567.1 1362.8,549.7 1362.8,532.3 1362.8,514.9 1362.8,497.5 1362.8,480.2 1362.8,462.8 1362.8,445.4 1362.8,428 1362.8,410.6 1362.8,393.2 1362.7,375.8 1362.7,358.4 1362.7,341 1362.6,323.6 1362.6,306.3 1362.5,288.9 1362.4,271.5 1362.2,254.1 1362,236.7 1361.8,219.3 1361.4,201.9 1361,184.5 1360.3,167.1 1359.5,149.7 1358.4,132.4 1357,115 1355.2,97.6 1352.8,80.2 1349.6,62.8Z" fill="#b2f80e"/>
<path d="M1054.7,62.8 1051,80 1048.1,97.2 1045.9,114.5 1044.2,131.7 1043,148.9 1042,166.1 1041.2,183.3 1040.7,200.5 1040.3,217.8 1039.9,235 1039.7,252.2 1039.5,269.4 1039.4,286.6 1039.3,303.8 1039.2,321.1 1039.1,338.3 1039.1,355.5 1039.1,372.7 1039,389.9 1039,407.1 1039,424.4 1039,441.6 1039,458.8 1039,476 1039,493.2 1039,510.4 1039,527.7 1039,544.9 1039,562.1 1039.2,587.3 1039.6,599.2 1040.4,608.5 1041.6,616.4 1043,623.3 1044.8,629.6 1046.9,635.3 1049.3,640.6 1052.1,645.4 1055.2,649.8 1058.6,653.9 1062.4,657.7 1066.6,661.2 1071.2,664.3 1076.1,667.2 1081.5,669.9 1087.4,672.2 1093.7,674.4 1100.5,676.2 1108,677.8 1116.3,679.1 1125.4,680.2 1135.8,681.1 1148,681.7 1163.5,682.1 1196.7,682.2 1229.9,682.1 1245.4,681.7 1257.6,681.1 1268,680.2 1277.1,679.1 1285.4,677.8 1292.9,676.2 1299.7,674.4 1306,672.2 1311.9,669.9 1317.3,667.2 1322.2,664.3 1326.8,661.2 1331,657.7 1334.8,653.9 1338.2,649.8 1341.3,645.4 1344.1,640.6 1346.5,635.3 1348.6,629.6 1350.4,623.3 1351.8,616.4 1353,608.5 1353.8,599.2 1354.2,587.3 1354.4,562.1 1354.4,544.9 1354.4,527.7 1354.4,510.4 1354.4,493.2 1354.4,476 1354.4,458.8 1354.4,441.6 1354.4,424.4 1354.4,407.1 1354.3,389.9 1354.3,372.7 1354.3,355.5 1354.2,338.3 1354.2,321.1 1354.1,303.8 1353.9,286.6 1353.8,269.4 1353.5,252.2 1353.2,235 1352.8,217.8 1352.3,200.5 1351.6,183.3 1350.7,166.1 1349.5,148.9 1347.9,131.7 1345.8,114.5 1343.1,97.2 1339.5,80 1334.9,62.8Z" fill="#44f60e"/>
<path d="M1069.9,62.8 1064.8,79.8 1060.9,96.9 1057.9,113.9 1055.7,131 1053.9,148 1052.6,165.1 1051.5,182.1 1050.8,199.2 1050.2,216.2 1049.7,233.2 1049.4,250.3 1049.1,267.3 1048.9,284.4 1048.8,301.4 1048.7,318.5 1048.6,335.5 1048.5,352.6 1048.5,369.6 1048.5,386.7 1048.4,403.7 1048.4,420.7 1048.4,437.8 1048.4,454.8 1048.4,471.9 1048.4,488.9 1048.4,506 1048.4,523 1048.4,540.1 1048.4,557.1 1048.6,578.2 1049.1,589.1 1049.9,598 1051,605.7 1052.5,612.5 1054.3,618.7 1056.4,624.4 1058.9,629.7 1061.7,634.6 1064.9,639.1 1068.4,643.3 1072.2,647.1 1076.4,650.7 1081,654 1086,657 1091.3,659.7 1097.1,662.2 1103.4,664.4 1110.1,666.3 1117.4,668 1125.4,669.4 1134.2,670.6 1144,671.4 1155.3,672.1 1169.4,672.5 1196.4,672.6 1223.4,672.5 1237.5,672.1 1248.8,671.4 1258.6,670.6 1267.4,669.4 1275.4,668 1282.7,666.3 1289.4,664.4 1295.7,662.2 1301.5,659.7 1306.8,657 1311.8,654 1316.4,650.7 1320.6,647.1 1324.4,643.3 1327.9,639.1 1331.1,634.6 1333.9,629.7 1336.4,624.4 1338.5,618.7 1340.3,612.5 1341.8,605.7 1342.9,598 1343.7,589.1 1344.2,578.2 1344.4,557.1 1344.4,540.1 1344.4,523 1344.4,506 1344.4,488.9 1344.4,471.9 1344.4,454.8 1344.4,437.8 1344.4,420.7 1344.4,403.7 1344.3,386.7 1344.3,369.6 1344.3,352.6 1344.2,335.5 1344.1,318.5 1344,301.4 1343.8,284.4 1343.6,267.3 1343.4,250.3 1343,233.2 1342.5,216.2 1341.9,199.2 1341.1,182.1 1340,165.1 1338.5,148 1336.7,131 1334.2,113.9 1331,96.9 1326.9,79.8 1321.5,62.8Z" fill="#0cf05c"/>
<path d="M1085.4,62.8 1078.9,79.7 1073.9,96.5 1070.1,113.4 1067.2,130.3 1064.9,147.2 1063.2,164 1061.8,180.9 1060.8,197.8 1060,214.7 1059.4,231.5 1059,248.4 1058.7,265.3 1058.4,282.1 1058.2,299 1058.1,315.9 1058,332.8 1057.9,349.6 1057.8,366.5 1057.8,383.4 1057.8,400.2 1057.7,417.1 1057.7,434 1057.7,450.9 1057.7,467.7 1057.7,484.6 1057.7,501.5 1057.7,518.4 1057.7,535.2 1057.7,552.1 1057.9,569.1 1058.4,579.1 1059.2,587.4 1060.4,594.8 1061.9,601.4 1063.8,607.6 1066,613.2 1068.5,618.5 1071.3,623.4 1074.6,628 1078.1,632.3 1082,636.3 1086.2,640 1090.8,643.4 1095.8,646.5 1101.2,649.3 1106.9,651.9 1113,654.2 1119.6,656.2 1126.7,658 1134.4,659.4 1142.7,660.6 1151.9,661.6 1162.3,662.3 1174.8,662.7 1196.1,662.8 1217.3,662.7 1229.8,662.3 1240.2,661.6 1249.4,660.6 1257.7,659.4 1265.4,658 1272.5,656.2 1279.1,654.2 1285.2,651.9 1290.9,649.3 1296.3,646.5 1301.3,643.4 1305.9,640 1310.1,636.3 1314,632.3 1317.5,628 1320.8,623.4 1323.6,618.5 1326.1,613.2 1328.3,607.6 1330.2,601.4 1331.7,594.8 1332.9,587.4 1333.7,579.1 1334.2,569.1 1334.4,552.1 1334.4,535.2 1334.4,518.4 1334.4,501.5 1334.4,484.6 1334.4,467.7 1334.4,450.9 1334.4,434 1334.4,417.1 1334.3,400.2 1334.3,383.4 1334.3,366.5 1334.2,349.6 1334.1,332.8 1334,315.9 1333.9,299 1333.7,282.1 1333.4,265.3 1333.1,248.4 1332.7,231.5 1332.1,214.7 1331.3,197.8 1330.3,180.9 1329,164 1327.3,147.2 1325,130.3 1322.1,113.4 1318.3,96.5 1313.3,79.7 1306.9,62.8Z" fill="#0cf2b6"/>
<path d="M1105.4,62.8 1096.8,79.5 1090.2,96.2 1085.1,112.9 1081.2,129.6 1078.1,146.3 1075.8,163 1074,179.7 1072.6,196.4 1071.6,213.1 1070.8,229.8 1070.2,246.5 1069.7,263.2 1069.4,279.9 1069.1,296.6 1068.9,313.3 1068.8,330 1068.7,346.7 1068.6,363.4 1068.5,380.1 1068.5,396.8 1068.5,413.5 1068.4,430.2 1068.4,446.9 1068.4,463.6 1068.4,480.3 1068.4,497 1068.4,513.7 1068.4,530.4 1068.4,547.1 1068.6,560.3 1069.1,569.1 1069.9,576.8 1071.1,583.7 1072.7,590.1 1074.6,596 1076.8,601.6 1079.3,606.9 1082.2,611.8 1085.5,616.5 1089,620.8 1092.9,624.9 1097.2,628.7 1101.7,632.2 1106.6,635.5 1111.9,638.4 1117.5,641.1 1123.4,643.5 1129.7,645.6 1136.5,647.5 1143.7,649 1151.4,650.3 1159.7,651.3 1168.9,652 1179.5,652.5 1195.4,652.6 1211.3,652.5 1221.9,652 1231.1,651.3 1239.4,650.3 1247.1,649 1254.3,647.5 1261.1,645.6 1267.4,643.5 1273.3,641.1 1278.9,638.4 1284.2,635.5 1289.1,632.2 1293.6,628.7 1297.9,624.9 1301.8,620.8 1305.3,616.5 1308.6,611.8 1311.5,606.9 1314,601.6 1316.2,596 1318.1,590.1 1319.7,583.7 1320.9,576.8 1321.7,569.1 1322.2,560.3 1322.4,547.1 1322.4,530.4 1322.4,513.7 1322.4,497 1322.4,480.3 1322.4,463.6 1322.4,446.9 1322.4,430.2 1322.3,413.5 1322.3,396.8 1322.3,380.1 1322.2,363.4 1322.1,346.7 1322,330 1321.9,313.3 1321.7,296.6 1321.5,279.9 1321.1,263.2 1320.7,246.5 1320.1,229.8 1319.3,213.1 1318.3,196.4 1317,179.7 1315.3,163 1313.1,146.3 1310.1,129.6 1306.4,112.9 1301.5,96.2 1295.1,79.5 1286.9,62.8Z" fill="#0cf6fc"/>
<path d="M1127.6,62.8 1116.9,79.3 1108.6,95.9 1102.2,112.4 1097.3,128.9 1093.4,145.4 1090.5,162 1088.2,178.5 1086.5,195 1085.1,211.5 1084.1,228.1 1083.3,244.6 1082.7,261.1 1082.3,277.7 1082,294.2 1081.7,310.7 1081.5,327.2 1081.4,343.8 1081.3,360.3 1081.2,376.8 1081.1,393.4 1081.1,409.9 1081,426.4 1081,442.9 1081,459.5 1081,476 1081,492.5 1081,509 1081,525.6 1081,542.1 1081.2,550.6 1081.7,557.5 1082.6,563.9 1083.9,569.9 1085.5,575.6 1087.5,581.1 1089.8,586.3 1092.4,591.3 1095.4,596.1 1098.7,600.6 1102.4,604.9 1106.3,609 1110.6,612.8 1115.2,616.3 1120.1,619.6 1125.3,622.7 1130.7,625.4 1136.5,627.9 1142.5,630.1 1148.8,632 1155.4,633.7 1162.3,635 1169.5,636.1 1177.2,636.8 1185.5,637.3 1195.7,637.4 1205.9,637.3 1214.2,636.8 1221.9,636.1 1229.1,635 1236,633.7 1242.6,632 1248.9,630.1 1254.9,627.9 1260.7,625.4 1266.1,622.7 1271.3,619.6 1276.2,616.3 1280.8,612.8 1285.1,609 1289,604.9 1292.7,600.6 1296,596.1 1299,591.3 1301.6,586.3 1303.9,581.1 1305.9,575.6 1307.5,569.9 1308.8,563.9 1309.7,557.5 1310.2,550.6 1310.4,542.1 1310.4,525.6 1310.4,509 1310.4,492.5 1310.4,476 1310.4,459.5 1310.4,442.9 1310.3,426.4 1310.3,409.9 1310.3,393.4 1310.2,376.8 1310.1,360.3 1310,343.8 1309.9,327.2 1309.7,310.7 1309.4,294.2 1309.1,277.7 1308.6,261.1 1308,244.6 1307.2,228.1 1306.2,211.5 1304.8,195 1303,178.5 1300.7,162 1297.7,145.4 1293.8,128.9 1288.7,112.4 1282.2,95.9 1273.7,79.3 1262.8,62.8Z" fill="#14a0f2"/>
<path d="M1186.8,62.8 1173.3,78.8 1157.1,94.8 1147.6,110.8 1138.5,126.8 1129.9,142.9 1122.5,158.9 1116,174.9 1111.8,190.9 1108.5,206.9 1106.5,222.9 1104.3,238.9 1102.6,254.9 1102.5,270.9 1102.3,286.9 1102.1,303 1101.9,319 1101.9,335 1101.8,351 1101.8,367 1101.7,383 1101.7,399 1101.7,415 1101.7,431 1101.7,447 1101.7,463.1 1101.7,479.1 1101.7,495.1 1101.7,511.1 1101.7,527.1 1101.9,532.2 1102.4,537.6 1103.3,543 1104.5,548.4 1106.1,553.8 1108,559.1 1110.3,564.4 1112.9,569.5 1115.8,574.5 1118.9,579.3 1122.4,583.9 1126.2,588.4 1130.2,592.6 1134.4,596.6 1138.9,600.3 1143.5,603.8 1148.4,606.9 1153.4,609.8 1158.6,612.4 1163.8,614.6 1169.2,616.5 1174.6,618.1 1180.1,619.3 1185.5,620.2 1190.9,620.7 1196.1,620.9 1201.2,620.7 1206.6,620.2 1212,619.3 1217.5,618.1 1222.9,616.5 1228.3,614.6 1233.5,612.4 1238.7,609.8 1243.7,606.9 1248.6,603.8 1253.2,600.3 1257.7,596.6 1261.9,592.6 1265.9,588.4 1269.7,583.9 1273.2,579.3 1276.3,574.5 1279.2,569.5 1281.8,564.4 1284.1,559.1 1286,553.8 1287.6,548.4 1288.8,543 1289.7,537.6 1290.2,532.2 1290.4,527.1 1290.4,511.1 1290.4,495.1 1290.4,479.1 1290.4,463.1 1290.4,447 1290.4,431 1290.4,415 1290.4,399 1290.2,383 1290,367 1289.8,351 1289.6,335 1289.4,319 1288.8,303 1288.2,286.9 1287.7,270.9 1287.1,254.9 1286.1,238.9 1284.8,222.9 1283.5,206.9 1281.3,190.9 1278.4,174.9 1273,158.9 1266.2,142.9 1256.5,126.8 1245.4,110.8 1235.1,94.8 1216.4,78.8 1206.8,62.8Z" fill="#0640f4"/>
<path d="M1020,62.8 1019.1,80.7 1018.4,98.6 1017.9,116.5 1017.5,134.4 1017.2,152.3 1017,170.2 1016.8,188.1 1016.7,206.1 1016.6,224 1016.5,241.9 1016.4,259.8 1016.4,277.7 1016.4,295.6 1016.4,313.5 1016.3,331.4 1016.3,349.3 1016.3,367.2 1016.3,385.1 1016.3,403 1016.3,420.9 1016.3,438.8 1016.3,456.8 1016.3,474.7 1016.3,492.6 1016.3,510.5 1016.3,528.4 1016.3,546.3 1016.3,564.2 1016.3,582.1 1016.4,622.9 1016.8,635.6 1017.5,644.7 1018.4,652.1 1019.5,658.3 1021,663.7 1022.7,668.6 1024.7,672.9 1026.9,676.8 1029.5,680.3 1032.4,683.5 1035.6,686.5 1039.1,689.1 1043,691.5 1047.3,693.7 1052,695.7 1057.2,697.4 1062.9,699 1069.2,700.3 1076.2,701.5 1084.2,702.5 1093.3,703.3 1104.1,703.9 1117.5,704.3 1136,704.6 1195.7,704.7 1255.4,704.6 1273.9,704.3 1287.3,703.9 1298.1,703.3 1307.2,702.5 1315.2,701.5 1322.2,700.3 1328.5,699 1334.2,697.4 1339.4,695.7 1344.1,693.7 1348.4,691.5 1352.3,689.1 1355.8,686.5 1359,683.5 1361.9,680.3 1364.5,676.8 1366.7,672.9 1368.7,668.6 1370.4,663.7 1371.9,658.3 1373,652.1 1373.9,644.7 1374.6,635.6 1375,622.9 1375.1,582.1 1375.1,564.2 1375.1,546.3 1375.1,528.4 1375.1,510.5 1375.1,492.6 1375.1,474.7 1375.1,456.8 1375.1,438.8 1375.1,420.9 1375.1,403 1375.1,385.1 1375.1,367.2 1375.1,349.3 1375.1,331.4 1375.1,313.5 1375,295.6 1375,277.7 1375,259.8 1375,241.9 1374.9,224 1374.8,206.1 1374.7,188.1 1374.6,170.2 1374.4,152.3 1374.2,134.4 1373.9,116.5 1373.5,98.6 1373,80.7 1372.3,62.8" fill="none" stroke="#0c1800" stroke-opacity="0.8" stroke-width="1.1"/>
<path d="M1025.8,62.8 1024.4,80.5 1023.3,98.3 1022.5,116 1021.9,133.7 1021.4,151.5 1021,169.2 1020.8,186.9 1020.6,204.7 1020.4,222.4 1020.3,240.1 1020.2,257.9 1020.2,275.6 1020.1,293.3 1020.1,311.1 1020.1,328.8 1020,346.6 1020,364.3 1020,382 1020,399.8 1020,417.5 1020,435.2 1020,453 1020,470.7 1020,488.4 1020,506.2 1020,523.9 1020,541.6 1020,559.4 1020,577.1 1020.1,615.3 1020.5,628.2 1021.2,637.6 1022.2,645.2 1023.4,651.8 1024.9,657.5 1026.7,662.6 1028.8,667.2 1031.1,671.3 1033.8,675.1 1036.8,678.6 1040.2,681.7 1043.8,684.6 1047.9,687.2 1052.3,689.5 1057.2,691.7 1062.5,693.6 1068.4,695.2 1074.9,696.7 1082.1,698 1090.1,699 1099.4,699.9 1110.2,700.6 1123.5,701.1 1141.6,701.4 1195.9,701.5 1250.1,701.4 1268.3,701.1 1281.6,700.6 1292.4,699.9 1301.6,699 1309.7,698 1316.9,696.7 1323.4,695.2 1329.2,693.6 1334.6,691.7 1339.4,689.5 1343.9,687.2 1347.9,684.6 1351.6,681.7 1354.9,678.6 1357.9,675.1 1360.6,671.3 1363,667.2 1365.1,662.6 1366.9,657.5 1368.4,651.8 1369.6,645.2 1370.5,637.6 1371.2,628.2 1371.6,615.3 1371.8,577.1 1371.8,559.4 1371.8,541.6 1371.8,523.9 1371.8,506.2 1371.8,488.4 1371.7,470.7 1371.7,453 1371.7,435.2 1371.7,417.5 1371.7,399.8 1371.7,382 1371.7,364.3 1371.7,346.6 1371.7,328.8 1371.7,311.1 1371.6,293.3 1371.6,275.6 1371.6,257.9 1371.5,240.1 1371.4,222.4 1371.3,204.7 1371.1,186.9 1370.9,169.2 1370.6,151.5 1370.2,133.7 1369.7,116 1369,98.3 1368.1,80.5 1366.9,62.8" fill="none" stroke="#0c1800" stroke-opacity="0.68" stroke-width="1"/>
<path d="M1031.5,62.8 1029.6,80.4 1028.2,97.9 1027.1,115.5 1026.2,133 1025.6,150.6 1025.1,168.2 1024.8,185.7 1024.5,203.3 1024.3,220.9 1024.1,238.4 1024,256 1023.9,273.5 1023.9,291.1 1023.8,308.7 1023.8,326.2 1023.8,343.8 1023.7,361.4 1023.7,378.9 1023.7,396.5 1023.7,414 1023.7,431.6 1023.7,449.2 1023.7,466.7 1023.7,484.3 1023.7,501.9 1023.7,519.4 1023.7,537 1023.7,554.5 1023.7,572.1 1023.8,607.8 1024.3,620.8 1025,630.5 1026,638.4 1027.3,645.2 1028.8,651.2 1030.7,656.6 1032.9,661.5 1035.4,665.9 1038.1,669.9 1041.3,673.6 1044.7,676.9 1048.6,680 1052.8,682.8 1057.4,685.3 1062.4,687.6 1067.9,689.7 1073.9,691.5 1080.6,693.1 1087.9,694.4 1096.1,695.6 1105.4,696.5 1116.3,697.3 1129.5,697.8 1147.2,698.1 1196.1,698.2 1244.9,698.1 1262.6,697.8 1275.8,697.3 1286.7,696.5 1296,695.6 1304.2,694.4 1311.5,693.1 1318.2,691.5 1324.2,689.7 1329.7,687.6 1334.7,685.3 1339.3,682.8 1343.5,680 1347.4,676.9 1350.8,673.6 1354,669.9 1356.7,665.9 1359.2,661.5 1361.4,656.6 1363.3,651.2 1364.8,645.2 1366.1,638.4 1367.1,630.5 1367.8,620.8 1368.3,607.8 1368.4,572.1 1368.4,554.5 1368.4,537 1368.4,519.4 1368.4,501.9 1368.4,484.3 1368.4,466.7 1368.4,449.2 1368.4,431.6 1368.4,414 1368.4,396.5 1368.4,378.9 1368.4,361.4 1368.3,343.8 1368.3,326.2 1368.3,308.7 1368.3,291.1 1368.2,273.5 1368.1,256 1368,238.4 1367.9,220.9 1367.7,203.3 1367.5,185.7 1367.2,168.2 1366.7,150.6 1366.2,133 1365.5,115.5 1364.5,97.9 1363.2,80.4 1361.6,62.8" fill="none" stroke="#0c1800" stroke-opacity="0.8" stroke-width="1.1"/>
<path d="M1037.1,62.8 1034.6,80.3 1032.7,97.8 1031.2,115.2 1030.1,132.7 1029.3,150.2 1028.6,167.7 1028.1,185.1 1027.8,202.6 1027.5,220.1 1027.3,237.6 1027.1,255 1027,272.5 1026.9,290 1026.9,307.5 1026.8,324.9 1026.8,342.4 1026.8,359.9 1026.7,377.4 1026.7,394.8 1026.7,412.3 1026.7,429.8 1026.7,447.3 1026.7,464.7 1026.7,482.2 1026.7,499.7 1026.7,517.2 1026.7,534.6 1026.7,552.1 1026.7,569.6 1026.8,602.7 1027.3,615.4 1028,625.1 1029.1,633 1030.4,639.9 1032,646 1034,651.5 1036.2,656.4 1038.8,661 1041.7,665.1 1044.9,668.9 1048.4,672.4 1052.4,675.6 1056.7,678.5 1061.4,681.1 1066.6,683.5 1072.2,685.6 1078.3,687.5 1085.1,689.2 1092.5,690.6 1100.8,691.8 1110.1,692.8 1120.9,693.5 1133.9,694.1 1151.3,694.4 1196.2,694.5 1241,694.4 1258.4,694.1 1271.4,693.5 1282.2,692.8 1291.5,691.8 1299.8,690.6 1307.2,689.2 1314,687.5 1320.1,685.6 1325.7,683.5 1330.9,681.1 1335.6,678.5 1339.9,675.6 1343.9,672.4 1347.4,668.9 1350.6,665.1 1353.5,661 1356.1,656.4 1358.3,651.5 1360.3,646 1361.9,639.9 1363.2,633 1364.3,625.1 1365,615.4 1365.5,602.7 1365.6,569.6 1365.6,552.1 1365.6,534.6 1365.6,517.2 1365.6,499.7 1365.6,482.2 1365.6,464.7 1365.6,447.3 1365.6,429.8 1365.6,412.3 1365.6,394.8 1365.6,377.4 1365.5,359.9 1365.5,342.4 1365.5,324.9 1365.4,307.5 1365.4,290 1365.3,272.5 1365.2,255 1365,237.6 1364.8,220.1 1364.6,202.6 1364.2,185.1 1363.7,167.7 1363.1,150.2 1362.3,132.7 1361.2,115.2 1359.8,97.8 1358,80.3 1355.6,62.8" fill="none" stroke="#0c1800" stroke-opacity="0.68" stroke-width="1"/>
<path d="M1042.7,62.8 1039.6,80.2 1037.2,97.6 1035.4,115 1034,132.4 1032.9,149.7 1032.1,167.1 1031.5,184.5 1031.1,201.9 1030.7,219.3 1030.4,236.7 1030.3,254.1 1030.1,271.5 1030,288.9 1029.9,306.3 1029.9,323.6 1029.8,341 1029.8,358.4 1029.8,375.8 1029.7,393.2 1029.7,410.6 1029.7,428 1029.7,445.4 1029.7,462.8 1029.7,480.2 1029.7,497.5 1029.7,514.9 1029.7,532.3 1029.7,549.7 1029.7,567.1 1029.9,597.5 1030.3,610 1031.1,619.6 1032.1,627.6 1033.5,634.6 1035.2,640.8 1037.2,646.3 1039.5,651.4 1042.2,656.1 1045.2,660.3 1048.5,664.2 1052.2,667.8 1056.2,671.1 1060.6,674.1 1065.5,676.9 1070.7,679.3 1076.5,681.5 1082.7,683.5 1089.6,685.2 1097.1,686.7 1105.4,688 1114.8,689 1125.5,689.8 1138.4,690.3 1155.3,690.7 1196.2,690.8 1237.2,690.7 1254.1,690.3 1267,689.8 1277.7,689 1287.1,688 1295.4,686.7 1302.9,685.2 1309.8,683.5 1316,681.5 1321.8,679.3 1327,676.9 1331.9,674.1 1336.3,671.1 1340.3,667.8 1344,664.2 1347.3,660.3 1350.3,656.1 1353,651.4 1355.3,646.3 1357.3,640.8 1359,634.6 1360.4,627.6 1361.4,619.6 1362.2,610 1362.6,597.5 1362.8,567.1 1362.8,549.7 1362.8,532.3 1362.8,514.9 1362.8,497.5 1362.8,480.2 1362.8,462.8 1362.8,445.4 1362.8,428 1362.8,410.6 1362.8,393.2 1362.7,375.8 1362.7,358.4 1362.7,341 1362.6,323.6 1362.6,306.3 1362.5,288.9 1362.4,271.5 1362.2,254.1 1362,236.7 1361.8,219.3 1361.4,201.9 1361,184.5 1360.3,167.1 1359.5,149.7 1358.4,132.4 1357,115 1355.2,97.6 1352.8,80.2 1349.6,62.8" fill="none" stroke="#0c1800" stroke-opacity="0.8" stroke-width="1.1"/>
<path d="M1048.7,62.8 1045.3,80.1 1042.7,97.4 1040.6,114.7 1039.1,132 1037.9,149.3 1037.1,166.6 1036.4,183.9 1035.9,201.2 1035.5,218.5 1035.2,235.8 1035,253.1 1034.8,270.4 1034.7,287.7 1034.6,305 1034.5,322.4 1034.5,339.7 1034.4,357 1034.4,374.3 1034.4,391.6 1034.4,408.9 1034.4,426.2 1034.4,443.5 1034.4,460.8 1034.4,478.1 1034.3,495.4 1034.3,512.7 1034.3,530 1034.3,547.3 1034.3,564.6 1034.5,592.4 1035,604.6 1035.8,614 1036.9,622 1038.3,629 1040,635.2 1042,640.8 1044.4,646 1047.1,650.7 1050.2,655.1 1053.6,659.1 1057.3,662.8 1061.4,666.1 1065.9,669.2 1070.8,672.1 1076.1,674.6 1081.9,676.9 1088.2,678.9 1095.1,680.7 1102.6,682.3 1110.8,683.6 1120.1,684.6 1130.7,685.4 1143.2,686 1159.4,686.4 1196.5,686.5 1233.5,686.4 1249.7,686 1262.3,685.4 1272.8,684.6 1282.1,683.6 1290.4,682.3 1297.9,680.7 1304.8,678.9 1311,676.9 1316.8,674.6 1322.2,672.1 1327,669.2 1331.5,666.1 1335.7,662.8 1339.4,659.1 1342.8,655.1 1345.8,650.7 1348.5,646 1350.9,640.8 1353,635.2 1354.7,629 1356.1,622 1357.2,614 1358,604.6 1358.4,592.4 1358.6,564.6 1358.6,547.3 1358.6,530 1358.6,512.7 1358.6,495.4 1358.6,478.1 1358.6,460.8 1358.6,443.5 1358.6,426.2 1358.6,408.9 1358.6,391.6 1358.5,374.3 1358.5,357 1358.5,339.7 1358.4,322.4 1358.3,305 1358.2,287.7 1358.1,270.4 1357.9,253.1 1357.6,235.8 1357.3,218.5 1356.9,201.2 1356.3,183.9 1355.5,166.6 1354.5,149.3 1353.2,132 1351.4,114.7 1349.1,97.4 1346.2,80.1 1342.2,62.8" fill="none" stroke="#0c1800" stroke-opacity="0.68" stroke-width="1"/>
<path d="M1054.7,62.8 1051,80 1048.1,97.2 1045.9,114.5 1044.2,131.7 1043,148.9 1042,166.1 1041.2,183.3 1040.7,200.5 1040.3,217.8 1039.9,235 1039.7,252.2 1039.5,269.4 1039.4,286.6 1039.3,303.8 1039.2,321.1 1039.1,338.3 1039.1,355.5 1039.1,372.7 1039,389.9 1039,407.1 1039,424.4 1039,441.6 1039,458.8 1039,476 1039,493.2 1039,510.4 1039,527.7 1039,544.9 1039,562.1 1039.2,587.3 1039.6,599.2 1040.4,608.5 1041.6,616.4 1043,623.3 1044.8,629.6 1046.9,635.3 1049.3,640.6 1052.1,645.4 1055.2,649.8 1058.6,653.9 1062.4,657.7 1066.6,661.2 1071.2,664.3 1076.1,667.2 1081.5,669.9 1087.4,672.2 1093.7,674.4 1100.5,676.2 1108,677.8 1116.3,679.1 1125.4,680.2 1135.8,681.1 1148,681.7 1163.5,682.1 1196.7,682.2 1229.9,682.1 1245.4,681.7 1257.6,681.1 1268,680.2 1277.1,679.1 1285.4,677.8 1292.9,676.2 1299.7,674.4 1306,672.2 1311.9,669.9 1317.3,667.2 1322.2,664.3 1326.8,661.2 1331,657.7 1334.8,653.9 1338.2,649.8 1341.3,645.4 1344.1,640.6 1346.5,635.3 1348.6,629.6 1350.4,623.3 1351.8,616.4 1353,608.5 1353.8,599.2 1354.2,587.3 1354.4,562.1 1354.4,544.9 1354.4,527.7 1354.4,510.4 1354.4,493.2 1354.4,476 1354.4,458.8 1354.4,441.6 1354.4,424.4 1354.4,407.1 1354.3,389.9 1354.3,372.7 1354.3,355.5 1354.2,338.3 1354.2,321.1 1354.1,303.8 1353.9,286.6 1353.8,269.4 1353.5,252.2 1353.2,235 1352.8,217.8 1352.3,200.5 1351.6,183.3 1350.7,166.1 1349.5,148.9 1347.9,131.7 1345.8,114.5 1343.1,97.2 1339.5,80 1334.9,62.8" fill="none" stroke="#0c1800" stroke-opacity="0.75" stroke-width="1.1"/>
<path d="M1062.3,62.8 1057.9,79.9 1054.5,97.1 1051.9,114.2 1049.9,131.3 1048.4,148.5 1047.3,165.6 1046.4,182.7 1045.7,199.8 1045.2,217 1044.8,234.1 1044.5,251.2 1044.3,268.4 1044.2,285.5 1044,302.6 1043.9,319.8 1043.9,336.9 1043.8,354 1043.8,371.2 1043.8,388.3 1043.7,405.4 1043.7,422.6 1043.7,439.7 1043.7,456.8 1043.7,473.9 1043.7,491.1 1043.7,508.2 1043.7,525.3 1043.7,542.5 1043.7,559.6 1043.9,582.8 1044.3,594.2 1045.2,603.2 1046.3,611 1047.8,617.9 1049.5,624.2 1051.7,629.9 1054.1,635.1 1056.9,640 1060,644.5 1063.5,648.6 1067.3,652.4 1071.5,655.9 1076.1,659.2 1081.1,662.1 1086.4,664.8 1092.2,667.2 1098.5,669.4 1105.3,671.3 1112.7,672.9 1120.9,674.3 1129.8,675.4 1139.9,676.3 1151.7,676.9 1166.5,677.3 1196.6,677.4 1226.6,677.3 1241.4,676.9 1253.2,676.3 1263.3,675.4 1272.2,674.3 1280.4,672.9 1287.8,671.3 1294.6,669.4 1300.9,667.2 1306.7,664.8 1312,662.1 1317,659.2 1321.6,655.9 1325.8,652.4 1329.6,648.6 1333.1,644.5 1336.2,640 1339,635.1 1341.4,629.9 1343.6,624.2 1345.3,617.9 1346.8,611 1347.9,603.2 1348.8,594.2 1349.2,582.8 1349.4,559.6 1349.4,542.5 1349.4,525.3 1349.4,508.2 1349.4,491.1 1349.4,473.9 1349.4,456.8 1349.4,439.7 1349.4,422.6 1349.4,405.4 1349.3,388.3 1349.3,371.2 1349.3,354 1349.2,336.9 1349.1,319.8 1349,302.6 1348.9,285.5 1348.7,268.4 1348.5,251.2 1348.1,234.1 1347.7,217 1347.1,199.8 1346.3,182.7 1345.3,165.6 1344,148.5 1342.3,131.3 1340,114.2 1337.1,97.1 1333.2,79.9 1328.2,62.8" fill="none" stroke="#0c1800" stroke-opacity="0.6375" stroke-width="1"/>
<path d="M1069.9,62.8 1064.8,79.8 1060.9,96.9 1057.9,113.9 1055.7,131 1053.9,148 1052.6,165.1 1051.5,182.1 1050.8,199.2 1050.2,216.2 1049.7,233.2 1049.4,250.3 1049.1,267.3 1048.9,284.4 1048.8,301.4 1048.7,318.5 1048.6,335.5 1048.5,352.6 1048.5,369.6 1048.5,386.7 1048.4,403.7 1048.4,420.7 1048.4,437.8 1048.4,454.8 1048.4,471.9 1048.4,488.9 1048.4,506 1048.4,523 1048.4,540.1 1048.4,557.1 1048.6,578.2 1049.1,589.1 1049.9,598 1051,605.7 1052.5,612.5 1054.3,618.7 1056.4,624.4 1058.9,629.7 1061.7,634.6 1064.9,639.1 1068.4,643.3 1072.2,647.1 1076.4,650.7 1081,654 1086,657 1091.3,659.7 1097.1,662.2 1103.4,664.4 1110.1,666.3 1117.4,668 1125.4,669.4 1134.2,670.6 1144,671.4 1155.3,672.1 1169.4,672.5 1196.4,672.6 1223.4,672.5 1237.5,672.1 1248.8,671.4 1258.6,670.6 1267.4,669.4 1275.4,668 1282.7,666.3 1289.4,664.4 1295.7,662.2 1301.5,659.7 1306.8,657 1311.8,654 1316.4,650.7 1320.6,647.1 1324.4,643.3 1327.9,639.1 1331.1,634.6 1333.9,629.7 1336.4,624.4 1338.5,618.7 1340.3,612.5 1341.8,605.7 1342.9,598 1343.7,589.1 1344.2,578.2 1344.4,557.1 1344.4,540.1 1344.4,523 1344.4,506 1344.4,488.9 1344.4,471.9 1344.4,454.8 1344.4,437.8 1344.4,420.7 1344.4,403.7 1344.3,386.7 1344.3,369.6 1344.3,352.6 1344.2,335.5 1344.1,318.5 1344,301.4 1343.8,284.4 1343.6,267.3 1343.4,250.3 1343,233.2 1342.5,216.2 1341.9,199.2 1341.1,182.1 1340,165.1 1338.5,148 1336.7,131 1334.2,113.9 1331,96.9 1326.9,79.8 1321.5,62.8" fill="none" stroke="#0c1800" stroke-opacity="0.75" stroke-width="1.1"/>
<path d="M1077.7,62.8 1071.9,79.8 1067.4,96.7 1064,113.7 1061.4,130.6 1059.4,147.6 1057.9,164.6 1056.7,181.5 1055.8,198.5 1055.1,215.4 1054.6,232.4 1054.2,249.3 1053.9,266.3 1053.7,283.3 1053.5,300.2 1053.4,317.2 1053.3,334.1 1053.2,351.1 1053.2,368.1 1053.1,385 1053.1,402 1053.1,418.9 1053.1,435.9 1053.1,452.8 1053.1,469.8 1053.1,486.8 1053.1,503.7 1053.1,520.7 1053.1,537.6 1053.1,554.6 1053.2,573.7 1053.7,584.1 1054.5,592.7 1055.7,600.2 1057.2,607 1059,613.1 1061.2,618.8 1063.7,624.1 1066.5,629 1069.7,633.6 1073.2,637.8 1077.1,641.7 1081.3,645.3 1085.9,648.7 1090.9,651.7 1096.3,654.5 1102,657 1108.2,659.3 1114.9,661.3 1122.1,663 1129.9,664.4 1138.5,665.6 1148,666.5 1158.8,667.2 1172.1,667.6 1196.2,667.7 1220.4,667.6 1233.6,667.2 1244.5,666.5 1254,665.6 1262.5,664.4 1270.4,663 1277.6,661.3 1284.2,659.3 1290.4,657 1296.2,654.5 1301.6,651.7 1306.5,648.7 1311.1,645.3 1315.3,641.7 1319.2,637.8 1322.7,633.6 1325.9,629 1328.8,624.1 1331.3,618.8 1333.4,613.1 1335.2,607 1336.7,600.2 1337.9,592.7 1338.7,584.1 1339.2,573.7 1339.4,554.6 1339.4,537.6 1339.4,520.7 1339.4,503.7 1339.4,486.8 1339.4,469.8 1339.4,452.8 1339.4,435.9 1339.4,418.9 1339.3,402 1339.3,385 1339.3,368.1 1339.2,351.1 1339.2,334.1 1339.1,317.2 1338.9,300.2 1338.8,283.3 1338.5,266.3 1338.2,249.3 1337.8,232.4 1337.3,215.4 1336.6,198.5 1335.7,181.5 1334.5,164.6 1332.9,147.6 1330.8,130.6 1328.2,113.7 1324.7,96.7 1320.1,79.8 1314.2,62.8" fill="none" stroke="#0c1800" stroke-opacity="0.6375" stroke-width="1"/>
<path d="M1085.4,62.8 1078.9,79.7 1073.9,96.5 1070.1,113.4 1067.2,130.3 1064.9,147.2 1063.2,164 1061.8,180.9 1060.8,197.8 1060,214.7 1059.4,231.5 1059,248.4 1058.7,265.3 1058.4,282.1 1058.2,299 1058.1,315.9 1058,332.8 1057.9,349.6 1057.8,366.5 1057.8,383.4 1057.8,400.2 1057.7,417.1 1057.7,434 1057.7,450.9 1057.7,467.7 1057.7,484.6 1057.7,501.5 1057.7,518.4 1057.7,535.2 1057.7,552.1 1057.9,569.1 1058.4,579.1 1059.2,587.4 1060.4,594.8 1061.9,601.4 1063.8,607.6 1066,613.2 1068.5,618.5 1071.3,623.4 1074.6,628 1078.1,632.3 1082,636.3 1086.2,640 1090.8,643.4 1095.8,646.5 1101.2,649.3 1106.9,651.9 1113,654.2 1119.6,656.2 1126.7,658 1134.4,659.4 1142.7,660.6 1151.9,661.6 1162.3,662.3 1174.8,662.7 1196.1,662.8 1217.3,662.7 1229.8,662.3 1240.2,661.6 1249.4,660.6 1257.7,659.4 1265.4,658 1272.5,656.2 1279.1,654.2 1285.2,651.9 1290.9,649.3 1296.3,646.5 1301.3,643.4 1305.9,640 1310.1,636.3 1314,632.3 1317.5,628 1320.8,623.4 1323.6,618.5 1326.1,613.2 1328.3,607.6 1330.2,601.4 1331.7,594.8 1332.9,587.4 1333.7,579.1 1334.2,569.1 1334.4,552.1 1334.4,535.2 1334.4,518.4 1334.4,501.5 1334.4,484.6 1334.4,467.7 1334.4,450.9 1334.4,434 1334.4,417.1 1334.3,400.2 1334.3,383.4 1334.3,366.5 1334.2,349.6 1334.1,332.8 1334,315.9 1333.9,299 1333.7,282.1 1333.4,265.3 1333.1,248.4 1332.7,231.5 1332.1,214.7 1331.3,197.8 1330.3,180.9 1329,164 1327.3,147.2 1325,130.3 1322.1,113.4 1318.3,96.5 1313.3,79.7 1306.9,62.8" fill="none" stroke="#0c1800" stroke-opacity="0.7" stroke-width="1.1"/>
<path d="M1095.4,62.8 1087.9,79.6 1082.1,96.4 1077.6,113.2 1074.2,129.9 1071.5,146.7 1069.5,163.5 1067.9,180.3 1066.7,197.1 1065.8,213.9 1065.1,230.7 1064.6,247.4 1064.2,264.2 1063.9,281 1063.7,297.8 1063.5,314.6 1063.4,331.4 1063.3,348.2 1063.2,365 1063.2,381.7 1063.1,398.5 1063.1,415.3 1063.1,432.1 1063.1,448.9 1063.1,465.7 1063.1,482.5 1063.1,499.2 1063.1,516 1063.1,532.8 1063.1,549.6 1063.2,564.7 1063.7,574.1 1064.6,582.1 1065.8,589.2 1067.3,595.8 1069.2,601.8 1071.4,607.4 1073.9,612.7 1076.8,617.6 1080,622.3 1083.6,626.6 1087.5,630.6 1091.7,634.3 1096.3,637.8 1101.2,641 1106.5,643.9 1112.2,646.5 1118.2,648.8 1124.7,650.9 1131.6,652.7 1139,654.2 1147,655.5 1155.8,656.5 1165.6,657.1 1177.1,657.6 1195.7,657.7 1214.3,657.6 1225.9,657.1 1235.6,656.5 1244.4,655.5 1252.4,654.2 1259.8,652.7 1266.8,650.9 1273.2,648.8 1279.3,646.5 1284.9,643.9 1290.2,641 1295.2,637.8 1299.8,634.3 1304,630.6 1307.9,626.6 1311.4,622.3 1314.7,617.6 1317.5,612.7 1320.1,607.4 1322.3,601.8 1324.2,595.8 1325.7,589.2 1326.9,582.1 1327.7,574.1 1328.2,564.7 1328.4,549.6 1328.4,532.8 1328.4,516 1328.4,499.2 1328.4,482.5 1328.4,465.7 1328.4,448.9 1328.4,432.1 1328.4,415.3 1328.3,398.5 1328.3,381.7 1328.2,365 1328.2,348.2 1328.1,331.4 1328,314.6 1327.8,297.8 1327.6,281 1327.3,264.2 1326.9,247.4 1326.4,230.7 1325.7,213.9 1324.8,197.1 1323.7,180.3 1322.1,163.5 1320.2,146.7 1317.6,129.9 1314.2,113.2 1309.9,96.4 1304.2,79.6 1296.9,62.8" fill="none" stroke="#0c1800" stroke-opacity="0.595" stroke-width="1"/>
<path d="M1105.4,62.8 1096.8,79.5 1090.2,96.2 1085.1,112.9 1081.2,129.6 1078.1,146.3 1075.8,163 1074,179.7 1072.6,196.4 1071.6,213.1 1070.8,229.8 1070.2,246.5 1069.7,263.2 1069.4,279.9 1069.1,296.6 1068.9,313.3 1068.8,330 1068.7,346.7 1068.6,363.4 1068.5,380.1 1068.5,396.8 1068.5,413.5 1068.4,430.2 1068.4,446.9 1068.4,463.6 1068.4,480.3 1068.4,497 1068.4,513.7 1068.4,530.4 1068.4,547.1 1068.6,560.3 1069.1,569.1 1069.9,576.8 1071.1,583.7 1072.7,590.1 1074.6,596 1076.8,601.6 1079.3,606.9 1082.2,611.8 1085.5,616.5 1089,620.8 1092.9,624.9 1097.2,628.7 1101.7,632.2 1106.6,635.5 1111.9,638.4 1117.5,641.1 1123.4,643.5 1129.7,645.6 1136.5,647.5 1143.7,649 1151.4,650.3 1159.7,651.3 1168.9,652 1179.5,652.5 1195.4,652.6 1211.3,652.5 1221.9,652 1231.1,651.3 1239.4,650.3 1247.1,649 1254.3,647.5 1261.1,645.6 1267.4,643.5 1273.3,641.1 1278.9,638.4 1284.2,635.5 1289.1,632.2 1293.6,628.7 1297.9,624.9 1301.8,620.8 1305.3,616.5 1308.6,611.8 1311.5,606.9 1314,601.6 1316.2,596 1318.1,590.1 1319.7,583.7 1320.9,576.8 1321.7,569.1 1322.2,560.3 1322.4,547.1 1322.4,530.4 1322.4,513.7 1322.4,497 1322.4,480.3 1322.4,463.6 1322.4,446.9 1322.4,430.2 1322.3,413.5 1322.3,396.8 1322.3,380.1 1322.2,363.4 1322.1,346.7 1322,330 1321.9,313.3 1321.7,296.6 1321.5,279.9 1321.1,263.2 1320.7,246.5 1320.1,229.8 1319.3,213.1 1318.3,196.4 1317,179.7 1315.3,163 1313.1,146.3 1310.1,129.6 1306.4,112.9 1301.5,96.2 1295.1,79.5 1286.9,62.8" fill="none" stroke="#0c1800" stroke-opacity="0.5" stroke-width="1.1"/>
<path d="M1116.5,62.8 1106.9,79.4 1099.4,96 1093.7,112.6 1089.2,129.3 1085.8,145.9 1083.1,162.5 1081.1,179.1 1079.6,195.7 1078.4,212.3 1077.5,228.9 1076.8,245.6 1076.2,262.2 1075.8,278.8 1075.5,295.4 1075.3,312 1075.1,328.6 1075,345.2 1074.9,361.8 1074.9,378.5 1074.8,395.1 1074.8,411.7 1074.7,428.3 1074.7,444.9 1074.7,461.5 1074.7,478.1 1074.7,494.8 1074.7,511.4 1074.7,528 1074.7,544.6 1074.9,555.4 1075.4,563.3 1076.3,570.3 1077.5,576.8 1079.1,582.8 1081,588.6 1083.3,594 1085.9,599.1 1088.8,604 1092.1,608.6 1095.7,612.9 1099.6,617 1103.9,620.7 1108.5,624.3 1113.4,627.5 1118.6,630.5 1124.1,633.3 1129.9,635.7 1136.1,637.9 1142.6,639.8 1149.5,641.4 1156.8,642.7 1164.6,643.7 1173,644.4 1182.5,644.9 1195.6,645 1208.6,644.9 1218.1,644.4 1226.5,643.7 1234.3,642.7 1241.6,641.4 1248.5,639.8 1255,637.9 1261.2,635.7 1267,633.3 1272.5,630.5 1277.7,627.5 1282.6,624.3 1287.2,620.7 1291.5,617 1295.4,612.9 1299,608.6 1302.3,604 1305.2,599.1 1307.8,594 1310.1,588.6 1312,582.8 1313.6,576.8 1314.8,570.3 1315.7,563.3 1316.2,555.4 1316.4,544.6 1316.4,528 1316.4,511.4 1316.4,494.8 1316.4,478.1 1316.4,461.5 1316.4,444.9 1316.4,428.3 1316.3,411.7 1316.3,395.1 1316.2,378.5 1316.2,361.8 1316.1,345.2 1316,328.6 1315.8,312 1315.6,295.4 1315.3,278.8 1314.9,262.2 1314.3,245.6 1313.7,228.9 1312.7,212.3 1311.6,195.7 1310,179.1 1308,162.5 1305.4,145.9 1302,129.3 1297.5,112.6 1291.8,96 1284.4,79.4 1274.8,62.8" fill="none" stroke="#0c1800" stroke-opacity="0.425" stroke-width="1"/>
<path d="M1127.6,62.8 1116.9,79.3 1108.6,95.9 1102.2,112.4 1097.3,128.9 1093.4,145.4 1090.5,162 1088.2,178.5 1086.5,195 1085.1,211.5 1084.1,228.1 1083.3,244.6 1082.7,261.1 1082.3,277.7 1082,294.2 1081.7,310.7 1081.5,327.2 1081.4,343.8 1081.3,360.3 1081.2,376.8 1081.1,393.4 1081.1,409.9 1081,426.4 1081,442.9 1081,459.5 1081,476 1081,492.5 1081,509 1081,525.6 1081,542.1 1081.2,550.6 1081.7,557.5 1082.6,563.9 1083.9,569.9 1085.5,575.6 1087.5,581.1 1089.8,586.3 1092.4,591.3 1095.4,596.1 1098.7,600.6 1102.4,604.9 1106.3,609 1110.6,612.8 1115.2,616.3 1120.1,619.6 1125.3,622.7 1130.7,625.4 1136.5,627.9 1142.5,630.1 1148.8,632 1155.4,633.7 1162.3,635 1169.5,636.1 1177.2,636.8 1185.5,637.3 1195.7,637.4 1205.9,637.3 1214.2,636.8 1221.9,636.1 1229.1,635 1236,633.7 1242.6,632 1248.9,630.1 1254.9,627.9 1260.7,625.4 1266.1,622.7 1271.3,619.6 1276.2,616.3 1280.8,612.8 1285.1,609 1289,604.9 1292.7,600.6 1296,596.1 1299,591.3 1301.6,586.3 1303.9,581.1 1305.9,575.6 1307.5,569.9 1308.8,563.9 1309.7,557.5 1310.2,550.6 1310.4,542.1 1310.4,525.6 1310.4,509 1310.4,492.5 1310.4,476 1310.4,459.5 1310.4,442.9 1310.3,426.4 1310.3,409.9 1310.3,393.4 1310.2,376.8 1310.1,360.3 1310,343.8 1309.9,327.2 1309.7,310.7 1309.4,294.2 1309.1,277.7 1308.6,261.1 1308,244.6 1307.2,228.1 1306.2,211.5 1304.8,195 1303,178.5 1300.7,162 1297.7,145.4 1293.8,128.9 1288.7,112.4 1282.2,95.9 1273.7,79.3 1262.8,62.8" fill="none" stroke="#0c1800" stroke-opacity="0.12" stroke-width="1.1"/>
<path d="M1157.2,62.8 1145.1,79.1 1132.9,95.3 1124.9,111.6 1117.9,127.9 1111.6,144.1 1106.5,160.4 1102.1,176.7 1099.1,193 1096.8,209.2 1095.3,225.5 1093.8,241.8 1092.7,258 1092.4,274.3 1092.1,290.6 1091.9,306.8 1091.7,323.1 1091.6,339.4 1091.5,355.6 1091.5,371.9 1091.4,388.2 1091.4,404.4 1091.4,420.7 1091.4,437 1091.4,453.3 1091.4,469.5 1091.3,485.8 1091.3,502.1 1091.3,518.3 1091.3,534.6 1091.5,541.4 1092.1,547.5 1093,553.4 1094.2,559.1 1095.8,564.7 1097.8,570.1 1100,575.3 1102.6,580.4 1105.6,585.3 1108.8,590 1112.4,594.4 1116.3,598.7 1120.4,602.7 1124.8,606.5 1129.5,610 1134.4,613.2 1139.6,616.2 1144.9,618.9 1150.5,621.2 1156.3,623.3 1162.3,625.1 1168.4,626.5 1174.8,627.7 1181.4,628.5 1188.2,629 1195.9,629.1 1203.5,629 1210.4,628.5 1217,627.7 1223.3,626.5 1229.5,625.1 1235.4,623.3 1241.2,621.2 1246.8,618.9 1252.2,616.2 1257.4,613.2 1262.3,610 1266.9,606.5 1271.4,602.7 1275.5,598.7 1279.3,594.4 1282.9,590 1286.2,585.3 1289.1,580.4 1291.7,575.3 1294,570.1 1295.9,564.7 1297.5,559.1 1298.8,553.4 1299.7,547.5 1300.2,541.4 1300.4,534.6 1300.4,518.3 1300.4,502.1 1300.4,485.8 1300.4,469.5 1300.4,453.3 1300.4,437 1300.4,420.7 1300.3,404.4 1300.2,388.2 1300.1,371.9 1300,355.6 1299.8,339.4 1299.6,323.1 1299.2,306.8 1298.8,290.6 1298.4,274.3 1297.8,258 1297,241.8 1296,225.5 1294.8,209.2 1293.1,193 1290.7,176.7 1286.9,160.4 1282,144.1 1275.2,127.9 1267.1,111.6 1258.6,95.3 1245.1,79.1 1234.8,62.8" fill="none" stroke="#0c1800" stroke-opacity="0.102" stroke-width="1"/>
<path d="M1013.4,62.8 V711.4 H1383.6 V62.8" fill="none" stroke="#401000" stroke-opacity="0.5" stroke-width="1.4"/>
</g>
<g filter="url(#soft)">
<rect x="1394.8" y="65.1" width="22.8" height="65" fill="#f84408"/>
<rect x="1394.8" y="129.6" width="22.8" height="65" fill="#fda40e"/>
<rect x="1394.8" y="194.1" width="22.8" height="65" fill="#fffc10"/>
<rect x="1394.8" y="258.5" width="22.8" height="65" fill="#b2f80e"/>
<rect x="1394.8" y="323" width="22.8" height="65" fill="#44f60e"/>
<rect x="1394.8" y="387.5" width="22.8" height="65" fill="#0cf05c"/>
<rect x="1394.8" y="452" width="22.8" height="65" fill="#0cf2b6"/>
<rect x="1394.8" y="516.5" width="22.8" height="65" fill="#0cf6fc"/>
<rect x="1394.8" y="580.9" width="22.8" height="65" fill="#14a0f2"/>
<rect x="1394.8" y="645.4" width="22.8" height="65" fill="#0640f4"/>
<path d="M1416.6,65.1 h4" stroke="#222" stroke-width="1.2"/>
<path d="M1416.6,129.6 h4" stroke="#222" stroke-width="1.2"/>
<path d="M1416.6,194.1 h4" stroke="#222" stroke-width="1.2"/>
<path d="M1416.6,258.5 h4" stroke="#222" stroke-width="1.2"/>
<path d="M1416.6,323 h4" stroke="#222" stroke-width="1.2"/>
<path d="M1416.6,387.5 h4" stroke="#222" stroke-width="1.2"/>
<path d="M1416.6,452 h4" stroke="#222" stroke-width="1.2"/>
<path d="M1416.6,516.5 h4" stroke="#222" stroke-width="1.2"/>
<path d="M1416.6,580.9 h4" stroke="#222" stroke-width="1.2"/>
<path d="M1416.6,645.4 h4" stroke="#222" stroke-width="1.2"/>
<path d="M1416.6,709.9 h4" stroke="#222" stroke-width="1.2"/>
<g font-family="'Liberation Serif', 'DejaVu Serif', serif" font-size="40" fill="#111">
<text x="1431.4" y="81.4" transform="translate(1431.4 0) scale(1.06 1) translate(-1431.4 0)">337</text>
<text x="1430.7" y="144.9" transform="translate(1430.7 0) scale(1.06 1) translate(-1430.7 0)">332</text>
<text x="1430.1" y="206.4" transform="translate(1430.1 0) scale(1.06 1) translate(-1430.1 0)">328</text>
<text x="1429.4" y="271.8" transform="translate(1429.4 0) scale(1.06 1) translate(-1429.4 0)">324</text>
<text x="1428.7" y="336.3" transform="translate(1428.7 0) scale(1.06 1) translate(-1428.7 0)">319</text>
<text x="1428.1" y="400.8" transform="translate(1428.1 0) scale(1.06 1) translate(-1428.1 0)">315</text>
<text x="1427.4" y="465.3" transform="translate(1427.4 0) scale(1.06 1) translate(-1427.4 0)">311</text>
<text x="1426.7" y="529.8" transform="translate(1426.7 0) scale(1.06 1) translate(-1426.7 0)">306</text>
<text x="1426" y="594.2" transform="translate(1426 0) scale(1.06 1) translate(-1426 0)">302</text>
<text x="1425.4" y="658.7" transform="translate(1425.4 0) scale(1.06 1) translate(-1425.4 0)">297</text>
<text x="1424.7" y="723.2" transform="translate(1424.7 0) scale(1.06 1) translate(-1424.7 0)">293</text>
</g></g>
<g>
<rect x="451.9" y="755" width="369.3" height="727.8" fill="#0000ff"/>
<path d="M636.5,760.2 627.3,760.2 618,760.3 608.7,760.5 599.4,760.7 590.1,761 580.8,761.3 571.5,761.7 562.2,762 552.9,762.4 543.6,762.9 534.3,763.4 525.1,764.1 515.7,764.8 506.2,765.8 496.8,767 487.9,768.7 479.3,771.7 471.2,777.4 466.8,784.4 463.9,793.6 462.1,803 460.8,812.2 459.8,821.4 459,830.7 458.4,840 457.8,849.3 457.3,858.6 456.9,867.9 456.5,877.2 456.3,886.5 456.2,895.8 456.1,905.1 456.1,914.4 456.1,923.7 456.1,933 456.1,942.3 456,951.6 456,960.9 456,970.2 456,979.4 456,988.7 456,998 456,1007.3 456,1016.6 455.9,1025.9 455.9,1035.2 455.9,1044.5 455.9,1053.8 455.9,1063.1 455.9,1072.4 455.9,1081.7 455.9,1091 455.9,1100.3 455.9,1109.6 455.9,1118.9 455.9,1128.2 455.9,1137.5 455.9,1146.8 455.9,1156.1 455.9,1165.4 455.9,1174.7 455.9,1184 455.9,1193.3 455.9,1202.6 455.9,1211.9 456,1221.2 456,1230.5 456,1239.8 456,1249.1 456,1258.4 456,1267.6 456,1276.9 456,1286.2 456.1,1295.5 456.1,1304.8 456.1,1314.1 456.1,1323.4 456.1,1332.7 456.2,1342 456.3,1351.3 456.5,1360.6 456.9,1369.9 457.3,1379.2 457.8,1388.5 458.4,1397.8 459,1407.1 459.8,1416.4 460.8,1425.6 462.1,1434.8 463.9,1444.2 466.8,1453.4 471.2,1460.4 479.3,1466.1 487.9,1469.1 496.8,1470.8 506.2,1472 515.7,1473 525.1,1473.7 534.3,1474.4 543.6,1474.9 552.9,1475.4 562.2,1475.8 571.5,1476.1 580.8,1476.5 590.1,1476.8 599.4,1477.1 608.7,1477.3 618,1477.5 627.3,1477.6 636.5,1477.6 645.5,1477.6 654.8,1477.5 664.1,1477.3 673.4,1477.1 682.7,1476.8 692,1476.5 701.3,1476.1 710.6,1475.8 719.9,1475.4 729.2,1474.9 738.5,1474.4 747.7,1473.7 757.1,1473 766.6,1472 776,1470.8 784.9,1469.1 793.5,1466.1 801.6,1460.4 806,1453.4 808.9,1444.2 810.7,1434.8 812,1425.6 813,1416.4 813.8,1407.1 814.4,1397.8 815,1388.5 815.5,1379.2 815.9,1369.9 816.3,1360.6 816.5,1351.3 816.6,1342 816.7,1332.7 816.7,1323.4 816.7,1314.1 816.7,1304.8 816.7,1295.5 816.8,1286.2 816.8,1276.9 816.8,1267.6 816.8,1258.4 816.8,1249.1 816.8,1239.8 816.8,1230.5 816.8,1221.2 816.9,1211.9 816.9,1202.6 816.9,1193.3 816.9,1184 816.9,1174.7 816.9,1165.4 816.9,1156.1 816.9,1146.8 816.9,1137.5 816.9,1128.2 816.9,1118.9 816.9,1109.6 816.9,1100.3 816.9,1091 816.9,1081.7 816.9,1072.4 816.9,1063.1 816.9,1053.8 816.9,1044.5 816.9,1035.2 816.9,1025.9 816.8,1016.6 816.8,1007.3 816.8,998 816.8,988.7 816.8,979.4 816.8,970.2 816.8,960.9 816.8,951.6 816.7,942.3 816.7,933 816.7,923.7 816.7,914.4 816.7,905.1 816.6,895.8 816.5,886.5 816.3,877.2 815.9,867.9 815.5,858.6 815,849.3 814.4,840 813.8,830.7 813,821.4 812,812.2 810.7,803 808.9,793.6 806,784.4 801.6,777.4 793.5,771.7 784.9,768.7 776,767 766.6,765.8 757.1,764.8 747.7,764.1 738.5,763.4 729.2,762.9 719.9,762.4 710.6,762 701.3,761.7 692,761.3 682.7,761 673.4,760.7 664.1,760.5 654.8,760.3 645.5,760.2Z" fill="#0028ff"/>
<path d="M636.5,773 628,773.1 619.4,773.4 610.8,773.7 602.2,774.3 593.6,775.1 585.1,776 576.6,777.1 568.1,778.3 559.5,779.4 551,780.5 542.4,781.5 533.9,782.6 525.5,784 516.8,785.6 508.3,787.7 501,790.9 494.5,796.8 489.1,803.9 484.9,811.2 481.2,819.2 478.5,827.4 476.5,835.6 474.8,844.1 473.4,852.6 472.3,861.2 471.5,869.8 470.9,878.3 470.3,886.9 469.7,895.4 469.2,904 468.8,912.6 468.4,921.2 468.1,929.8 467.9,938.4 467.7,947 467.5,955.6 467.4,964.2 467.2,972.8 467.1,981.4 467,990 467,998.6 466.9,1007.2 466.8,1015.8 466.7,1024.4 466.6,1033 466.6,1041.6 466.5,1050.1 466.5,1058.7 466.4,1067.3 466.4,1075.9 466.4,1084.5 466.3,1093.1 466.3,1101.7 466.3,1110.3 466.3,1118.9 466.3,1127.5 466.3,1136.1 466.3,1144.7 466.4,1153.3 466.4,1161.9 466.4,1170.5 466.5,1179.1 466.5,1187.7 466.6,1196.2 466.6,1204.8 466.7,1213.4 466.8,1222 466.9,1230.6 467,1239.2 467,1247.8 467.1,1256.4 467.2,1265 467.4,1273.6 467.5,1282.2 467.7,1290.8 467.9,1299.4 468.1,1308 468.4,1316.6 468.8,1325.2 469.2,1333.8 469.7,1342.4 470.3,1350.9 470.9,1359.5 471.5,1368 472.3,1376.6 473.4,1385.2 474.8,1393.7 476.5,1402.2 478.5,1410.4 481.2,1418.6 484.9,1426.6 489.1,1433.9 494.5,1441 501,1446.9 508.3,1450.1 516.8,1452.2 525.5,1453.8 533.9,1455.2 542.4,1456.3 551,1457.3 559.5,1458.4 568.1,1459.5 576.6,1460.7 585.1,1461.8 593.6,1462.7 602.2,1463.5 610.8,1464.1 619.4,1464.4 628,1464.7 636.5,1464.8 644.8,1464.7 653.4,1464.4 662,1464.1 670.6,1463.5 679.2,1462.7 687.7,1461.8 696.2,1460.7 704.7,1459.5 713.3,1458.4 721.8,1457.3 730.4,1456.3 738.9,1455.2 747.3,1453.8 756,1452.2 764.5,1450.1 771.8,1446.9 778.3,1441 783.7,1433.9 787.9,1426.6 791.6,1418.6 794.3,1410.4 796.3,1402.2 798,1393.7 799.4,1385.2 800.5,1376.6 801.3,1368 801.9,1359.5 802.5,1350.9 803.1,1342.4 803.6,1333.8 804,1325.2 804.4,1316.6 804.7,1308 804.9,1299.4 805.1,1290.8 805.3,1282.2 805.4,1273.6 805.6,1265 805.7,1256.4 805.8,1247.8 805.8,1239.2 805.9,1230.6 806,1222 806.1,1213.4 806.2,1204.8 806.2,1196.2 806.3,1187.7 806.3,1179.1 806.4,1170.5 806.4,1161.9 806.4,1153.3 806.5,1144.7 806.5,1136.1 806.5,1127.5 806.5,1118.9 806.5,1110.3 806.5,1101.7 806.5,1093.1 806.4,1084.5 806.4,1075.9 806.4,1067.3 806.3,1058.7 806.3,1050.1 806.2,1041.6 806.2,1033 806.1,1024.4 806,1015.8 805.9,1007.2 805.8,998.6 805.8,990 805.7,981.4 805.6,972.8 805.4,964.2 805.3,955.6 805.1,947 804.9,938.4 804.7,929.8 804.4,921.2 804,912.6 803.6,904 803.1,895.4 802.5,886.9 801.9,878.3 801.3,869.8 800.5,861.2 799.4,852.6 798,844.1 796.3,835.6 794.3,827.4 791.6,819.2 787.9,811.2 783.7,803.9 778.3,796.8 771.8,790.9 764.5,787.7 756,785.6 747.3,784 738.9,782.6 730.4,781.5 721.8,780.5 713.3,779.4 704.7,778.3 696.2,777.1 687.7,776 679.2,775.1 670.6,774.3 662,773.7 653.4,773.4 644.8,773.1Z" fill="#0080ff"/>
<path d="M636.5,787 628.6,787.1 620.6,787.4 612.6,787.9 604.6,788.4 596.6,789.3 588.7,790.3 580.8,791.5 572.9,792.8 565,794.3 557.2,796.1 549.5,798 541.7,800.2 534.1,802.8 526.8,805.9 519.9,809.8 513.4,814.7 507.7,820.2 502.6,826.5 498.4,833.3 495,840.4 491.8,847.9 489,855.6 487.1,863.4 486,871.1 485.2,878.9 484.6,886.8 484.1,894.8 483.6,902.8 483.2,910.8 482.9,918.9 482.5,927 482.2,935 481.9,943 481.5,951 481.2,959 480.8,967 480.5,975 480.2,983 479.9,991 479.6,999 479.4,1007 479.2,1015 479,1023 478.7,1031 478.6,1038.9 478.4,1046.9 478.2,1054.9 478.1,1062.9 478,1070.9 477.9,1078.9 477.9,1086.9 477.8,1094.9 477.7,1102.9 477.7,1110.9 477.7,1118.9 477.7,1126.9 477.7,1134.9 477.8,1142.9 477.9,1150.9 477.9,1158.9 478,1166.9 478.1,1174.9 478.2,1182.9 478.4,1190.9 478.6,1198.9 478.7,1206.8 479,1214.8 479.2,1222.8 479.4,1230.8 479.6,1238.8 479.9,1246.8 480.2,1254.8 480.5,1262.8 480.8,1270.8 481.2,1278.8 481.5,1286.8 481.9,1294.8 482.2,1302.8 482.5,1310.8 482.9,1318.9 483.2,1327 483.6,1335 484.1,1343 484.6,1351 485.2,1358.9 486,1366.7 487.1,1374.4 489,1382.2 491.8,1389.9 495,1397.4 498.4,1404.5 502.6,1411.3 507.7,1417.6 513.4,1423.1 519.9,1428 526.8,1431.9 534.1,1435 541.7,1437.6 549.5,1439.8 557.2,1441.7 565,1443.5 572.9,1445 580.8,1446.3 588.7,1447.5 596.6,1448.5 604.6,1449.4 612.6,1449.9 620.6,1450.4 628.6,1450.7 636.5,1450.8 644.2,1450.7 652.2,1450.4 660.2,1449.9 668.2,1449.4 676.2,1448.5 684.1,1447.5 692,1446.3 699.9,1445 707.8,1443.5 715.6,1441.7 723.3,1439.8 731.1,1437.6 738.7,1435 746,1431.9 752.9,1428 759.4,1423.1 765.1,1417.6 770.2,1411.3 774.4,1404.5 777.8,1397.4 781,1389.9 783.8,1382.2 785.7,1374.4 786.8,1366.7 787.6,1358.9 788.2,1351 788.7,1343 789.2,1335 789.6,1327 789.9,1318.9 790.3,1310.8 790.6,1302.8 790.9,1294.8 791.3,1286.8 791.6,1278.8 792,1270.8 792.3,1262.8 792.6,1254.8 792.9,1246.8 793.2,1238.8 793.4,1230.8 793.6,1222.8 793.8,1214.8 794.1,1206.8 794.2,1198.9 794.4,1190.9 794.6,1182.9 794.7,1174.9 794.8,1166.9 794.9,1158.9 794.9,1150.9 795,1142.9 795.1,1134.9 795.1,1126.9 795.1,1118.9 795.1,1110.9 795.1,1102.9 795,1094.9 794.9,1086.9 794.9,1078.9 794.8,1070.9 794.7,1062.9 794.6,1054.9 794.4,1046.9 794.2,1038.9 794.1,1031 793.8,1023 793.6,1015 793.4,1007 793.2,999 792.9,991 792.6,983 792.3,975 792,967 791.6,959 791.3,951 790.9,943 790.6,935 790.3,927 789.9,918.9 789.6,910.8 789.2,902.8 788.7,894.8 788.2,886.8 787.6,878.9 786.8,871.1 785.7,863.4 783.8,855.6 781,847.9 777.8,840.4 774.4,833.3 770.2,826.5 765.1,820.2 759.4,814.7 752.9,809.8 746,805.9 738.7,802.8 731.1,800.2 723.3,798 715.6,796.1 707.8,794.3 699.9,792.8 692,791.5 684.1,790.3 676.2,789.3 668.2,788.4 660.2,787.9 652.2,787.4 644.2,787.1Z" fill="#00d4ff"/>
<path d="M636.5,804.5 629.2,804.6 621.8,804.9 614.4,805.3 607.1,806 599.7,806.9 592.4,807.9 585.1,809 577.8,810.4 570.5,812 563.5,813.9 556.7,816.5 549.9,819.8 543.4,823.5 537.3,827.5 531.6,832.2 526.4,837.5 521.5,843.1 517,849.1 513.4,855.3 510.1,862 507.3,868.9 504.9,876 503.4,883.1 502.2,890.3 501.1,897.5 500.2,904.8 499.4,912.2 498.6,919.6 498,927 497.4,934.5 496.8,941.9 496.2,949.2 495.7,956.6 495.2,964 494.7,971.3 494.2,978.7 493.8,986.1 493.4,993.4 493,1000.8 492.7,1008.2 492.4,1015.6 492.1,1022.9 491.8,1030.3 491.5,1037.7 491.2,1045.1 491,1052.5 490.8,1059.8 490.7,1067.2 490.5,1074.6 490.4,1082 490.3,1089.4 490.2,1096.8 490.2,1104.1 490.1,1111.5 490.1,1118.9 490.1,1126.3 490.2,1133.7 490.2,1141 490.3,1148.4 490.4,1155.8 490.5,1163.2 490.7,1170.6 490.8,1178 491,1185.3 491.2,1192.7 491.5,1200.1 491.8,1207.5 492.1,1214.9 492.4,1222.2 492.7,1229.6 493,1237 493.4,1244.4 493.8,1251.7 494.2,1259.1 494.7,1266.5 495.2,1273.8 495.7,1281.2 496.2,1288.6 496.8,1295.9 497.4,1303.3 498,1310.8 498.6,1318.2 499.4,1325.6 500.2,1333 501.1,1340.3 502.2,1347.5 503.4,1354.7 504.9,1361.8 507.3,1368.9 510.1,1375.8 513.4,1382.5 517,1388.7 521.5,1394.7 526.4,1400.3 531.6,1405.6 537.3,1410.3 543.4,1414.3 549.9,1418 556.7,1421.3 563.5,1423.9 570.5,1425.8 577.8,1427.4 585.1,1428.8 592.4,1429.9 599.7,1430.9 607.1,1431.8 614.4,1432.5 621.8,1432.9 629.2,1433.2 636.5,1433.3 643.6,1433.2 651,1432.9 658.4,1432.5 665.7,1431.8 673.1,1430.9 680.4,1429.9 687.7,1428.8 695,1427.4 702.3,1425.8 709.3,1423.9 716.1,1421.3 722.9,1418 729.4,1414.3 735.5,1410.3 741.2,1405.6 746.4,1400.3 751.3,1394.7 755.8,1388.7 759.4,1382.5 762.7,1375.8 765.5,1368.9 767.9,1361.8 769.4,1354.7 770.6,1347.5 771.7,1340.3 772.6,1333 773.4,1325.6 774.2,1318.2 774.8,1310.8 775.4,1303.3 776,1295.9 776.6,1288.6 777.1,1281.2 777.6,1273.8 778.1,1266.5 778.6,1259.1 779,1251.7 779.4,1244.4 779.8,1237 780.1,1229.6 780.4,1222.2 780.7,1214.9 781,1207.5 781.3,1200.1 781.6,1192.7 781.8,1185.3 782,1178 782.1,1170.6 782.3,1163.2 782.4,1155.8 782.5,1148.4 782.6,1141 782.6,1133.7 782.7,1126.3 782.7,1118.9 782.7,1111.5 782.6,1104.1 782.6,1096.8 782.5,1089.4 782.4,1082 782.3,1074.6 782.1,1067.2 782,1059.8 781.8,1052.5 781.6,1045.1 781.3,1037.7 781,1030.3 780.7,1022.9 780.4,1015.6 780.1,1008.2 779.8,1000.8 779.4,993.4 779,986.1 778.6,978.7 778.1,971.3 777.6,964 777.1,956.6 776.6,949.2 776,941.9 775.4,934.5 774.8,927 774.2,919.6 773.4,912.2 772.6,904.8 771.7,897.5 770.6,890.3 769.4,883.1 767.9,876 765.5,868.9 762.7,862 759.4,855.3 755.8,849.1 751.3,843.1 746.4,837.5 741.2,832.2 735.5,827.5 729.4,823.5 722.9,819.8 716.1,816.5 709.3,813.9 702.3,812 695,810.4 687.7,809 680.4,807.9 673.1,806.9 665.7,806 658.4,805.3 651,804.9 643.6,804.6Z" fill="#2affd4"/>
<path d="M636.5,822.8 629.7,822.9 622.8,823.3 616,823.9 609.2,824.8 602.4,825.9 595.5,826.9 588.7,828 581.8,829.3 575.1,830.7 568.6,832.4 562.2,834.5 556,837.5 550.1,841.3 544.8,845.5 539.9,850.3 535.5,855.8 531.7,861.5 528.3,867.4 525.1,873.6 522.3,880 520.1,886.5 518.5,893 517.1,899.6 515.8,906.3 514.6,913.1 513.6,920 512.6,926.8 511.8,933.7 511.1,940.6 510.4,947.4 509.8,954.3 509.3,961.1 508.8,967.9 508.3,974.8 507.9,981.7 507.5,988.5 507.1,995.4 506.8,1002.2 506.4,1009.1 506.1,1016 505.8,1022.8 505.5,1029.7 505.2,1036.5 505,1043.4 504.7,1050.3 504.5,1057.1 504.4,1064 504.2,1070.8 504.1,1077.7 504,1084.6 503.9,1091.4 503.8,1098.3 503.8,1105.2 503.7,1112 503.7,1118.9 503.7,1125.8 503.8,1132.6 503.8,1139.5 503.9,1146.4 504,1153.2 504.1,1160.1 504.2,1167 504.4,1173.8 504.5,1180.7 504.7,1187.5 505,1194.4 505.2,1201.3 505.5,1208.1 505.8,1215 506.1,1221.8 506.4,1228.7 506.8,1235.6 507.1,1242.4 507.5,1249.3 507.9,1256.1 508.3,1263 508.8,1269.9 509.3,1276.7 509.8,1283.5 510.4,1290.4 511.1,1297.2 511.8,1304.1 512.6,1311 513.6,1317.8 514.6,1324.7 515.8,1331.5 517.1,1338.2 518.5,1344.8 520.1,1351.3 522.3,1357.8 525.1,1364.2 528.3,1370.4 531.7,1376.3 535.5,1382 539.9,1387.5 544.8,1392.3 550.1,1396.5 556,1400.3 562.2,1403.3 568.6,1405.4 575.1,1407.1 581.8,1408.5 588.7,1409.8 595.5,1410.9 602.4,1411.9 609.2,1413 616,1413.9 622.8,1414.5 629.7,1414.9 636.5,1415 643.1,1414.9 650,1414.5 656.8,1413.9 663.6,1413 670.4,1411.9 677.3,1410.9 684.1,1409.8 691,1408.5 697.7,1407.1 704.2,1405.4 710.6,1403.3 716.8,1400.3 722.7,1396.5 728,1392.3 732.9,1387.5 737.3,1382 741.1,1376.3 744.5,1370.4 747.7,1364.2 750.5,1357.8 752.7,1351.3 754.3,1344.8 755.7,1338.2 757,1331.5 758.2,1324.7 759.2,1317.8 760.2,1311 761,1304.1 761.7,1297.2 762.4,1290.4 763,1283.5 763.5,1276.7 764,1269.9 764.5,1263 764.9,1256.1 765.3,1249.3 765.7,1242.4 766,1235.6 766.4,1228.7 766.7,1221.8 767,1215 767.3,1208.1 767.6,1201.3 767.8,1194.4 768.1,1187.5 768.3,1180.7 768.4,1173.8 768.6,1167 768.7,1160.1 768.8,1153.2 768.9,1146.4 769,1139.5 769,1132.6 769.1,1125.8 769.1,1118.9 769.1,1112 769,1105.2 769,1098.3 768.9,1091.4 768.8,1084.6 768.7,1077.7 768.6,1070.8 768.4,1064 768.3,1057.1 768.1,1050.3 767.8,1043.4 767.6,1036.5 767.3,1029.7 767,1022.8 766.7,1016 766.4,1009.1 766,1002.2 765.7,995.4 765.3,988.5 764.9,981.7 764.5,974.8 764,967.9 763.5,961.1 763,954.3 762.4,947.4 761.7,940.6 761,933.7 760.2,926.8 759.2,920 758.2,913.1 757,906.3 755.7,899.6 754.3,893 752.7,886.5 750.5,880 747.7,873.6 744.5,867.4 741.1,861.5 737.3,855.8 732.9,850.3 728,845.5 722.7,841.3 716.8,837.5 710.6,834.5 704.2,832.4 697.7,830.7 691,829.3 684.1,828 677.3,826.9 670.4,825.9 663.6,824.8 656.8,823.9 650,823.3 643.1,822.9Z" fill="#80ff80"/>
<path d="M636.5,846 630.3,846.1 624.1,846.4 618,846.8 611.8,847.5 605.6,848.3 599.5,849.3 593.4,850.4 587.3,851.8 581.1,853.3 575.3,855.2 570,857.8 564.9,861.4 560.1,865.7 555.8,870.4 552,875.1 548.4,880.2 545.1,885.7 542.4,891.3 540.3,897 538.5,902.8 536.9,908.7 535.5,914.8 534.2,920.9 533,927.1 531.9,933.3 530.9,939.5 530,945.7 529.2,951.8 528.4,957.9 527.6,964.1 526.9,970.2 526.3,976.4 525.7,982.6 525.1,988.8 524.5,995 524,1001.2 523.5,1007.4 523.1,1013.5 522.6,1019.7 522.2,1025.9 521.8,1032.1 521.4,1038.3 521,1044.5 520.6,1050.7 520.4,1056.9 520.1,1063.1 519.9,1069.3 519.7,1075.5 519.6,1081.7 519.4,1087.9 519.3,1094.1 519.2,1100.3 519.1,1106.5 519,1112.7 519,1118.9 519,1125.1 519.1,1131.3 519.2,1137.5 519.3,1143.7 519.4,1149.9 519.6,1156.1 519.7,1162.3 519.9,1168.5 520.1,1174.7 520.4,1180.9 520.6,1187.1 521,1193.3 521.4,1199.5 521.8,1205.7 522.2,1211.9 522.6,1218.1 523.1,1224.3 523.5,1230.4 524,1236.6 524.5,1242.8 525.1,1249 525.7,1255.2 526.3,1261.4 526.9,1267.6 527.6,1273.7 528.4,1279.9 529.2,1286 530,1292.1 530.9,1298.3 531.9,1304.5 533,1310.7 534.2,1316.9 535.5,1323 536.9,1329.1 538.5,1335 540.3,1340.8 542.4,1346.5 545.1,1352.1 548.4,1357.6 552,1362.7 555.8,1367.4 560.1,1372.1 564.9,1376.4 570,1380 575.3,1382.6 581.1,1384.5 587.3,1386 593.4,1387.4 599.5,1388.5 605.6,1389.5 611.8,1390.3 618,1391 624.1,1391.4 630.3,1391.7 636.5,1391.8 642.5,1391.7 648.7,1391.4 654.8,1391 661,1390.3 667.2,1389.5 673.3,1388.5 679.4,1387.4 685.5,1386 691.7,1384.5 697.5,1382.6 702.8,1380 707.9,1376.4 712.7,1372.1 717,1367.4 720.8,1362.7 724.4,1357.6 727.7,1352.1 730.4,1346.5 732.5,1340.8 734.3,1335 735.9,1329.1 737.3,1323 738.6,1316.9 739.8,1310.7 740.9,1304.5 741.9,1298.3 742.8,1292.1 743.6,1286 744.4,1279.9 745.2,1273.7 745.9,1267.6 746.5,1261.4 747.1,1255.2 747.7,1249 748.3,1242.8 748.8,1236.6 749.3,1230.4 749.7,1224.3 750.2,1218.1 750.6,1211.9 751,1205.7 751.4,1199.5 751.8,1193.3 752.2,1187.1 752.4,1180.9 752.7,1174.7 752.9,1168.5 753.1,1162.3 753.2,1156.1 753.4,1149.9 753.5,1143.7 753.6,1137.5 753.7,1131.3 753.8,1125.1 753.8,1118.9 753.8,1112.7 753.7,1106.5 753.6,1100.3 753.5,1094.1 753.4,1087.9 753.2,1081.7 753.1,1075.5 752.9,1069.3 752.7,1063.1 752.4,1056.9 752.2,1050.7 751.8,1044.5 751.4,1038.3 751,1032.1 750.6,1025.9 750.2,1019.7 749.7,1013.5 749.3,1007.4 748.8,1001.2 748.3,995 747.7,988.8 747.1,982.6 746.5,976.4 745.9,970.2 745.2,964.1 744.4,957.9 743.6,951.8 742.8,945.7 741.9,939.5 740.9,933.3 739.8,927.1 738.6,920.9 737.3,914.8 735.9,908.7 734.3,902.8 732.5,897 730.4,891.3 727.7,885.7 724.4,880.2 720.8,875.1 717,870.4 712.7,865.7 707.9,861.4 702.8,857.8 697.5,855.2 691.7,853.3 685.5,851.8 679.4,850.4 673.3,849.3 667.2,848.3 661,847.5 654.8,846.8 648.7,846.4 642.5,846.1Z" fill="#d4ff2a"/>
<path d="M536.9,1074.9 537.1,1048.9 537.5,1032 538.1,1017.4 539.1,1004.2 540.2,992.1 541.7,980.8 543.4,970.3 545.4,960.4 547.6,951.1 550.1,942.3 552.8,934.2 555.8,926.6 559.1,919.5 562.6,912.9 566.4,906.8 570.5,901.3 574.8,896.3 579.4,891.8 584.4,887.9 589.6,884.4 595.2,881.5 601.2,879.1 607.8,877.3 615.1,876 623.5,875.2 636.4,874.9 649.3,875.2 657.7,876 665,877.3 671.6,879.1 677.6,881.5 683.2,884.4 688.4,887.9 693.4,891.8 698,896.3 702.3,901.3 706.4,906.8 710.2,912.9 713.7,919.5 717,926.6 720,934.2 722.7,942.3 725.2,951.1 727.4,960.4 729.4,970.3 731.1,980.8 732.6,992.1 733.7,1004.2 734.7,1017.4 735.3,1032 735.7,1048.9 735.9,1074.9 735.9,1162.9 735.7,1188.9 735.3,1205.8 734.7,1220.4 733.7,1233.6 732.6,1245.7 731.1,1257 729.4,1267.5 727.4,1277.4 725.2,1286.7 722.7,1295.5 720,1303.6 717,1311.2 713.7,1318.3 710.2,1324.9 706.4,1331 702.3,1336.5 698,1341.5 693.4,1346 688.4,1349.9 683.2,1353.4 677.6,1356.3 671.6,1358.7 665,1360.5 657.7,1361.8 649.3,1362.6 636.4,1362.9 623.5,1362.6 615.1,1361.8 607.8,1360.5 601.2,1358.7 595.2,1356.3 589.6,1353.4 584.4,1349.9 579.4,1346 574.8,1341.5 570.5,1336.5 566.4,1331 562.6,1324.9 559.1,1318.3 555.8,1311.2 552.8,1303.6 550.1,1295.5 547.6,1286.7 545.4,1277.4 543.4,1267.5 541.7,1257 540.2,1245.7 539.1,1233.6 538.1,1220.4 537.5,1205.8 537.1,1188.9 536.9,1162.9Z" fill="#ffd000"/>
<path d="M559.3,1084 559.5,1064.9 559.8,1051.2 560.3,1039.2 561.1,1028.1 562.1,1017.8 563.3,1008.1 564.7,999 566.3,990.4 568.1,982.2 570.2,974.5 572.4,967.3 574.9,960.5 577.6,954.2 580.4,948.3 583.5,942.9 586.8,937.9 590.3,933.4 594,929.4 597.9,925.8 602,922.7 606.4,920 611.1,917.9 616.1,916.2 621.6,915 627.7,914.2 636.4,914 645.1,914.2 651.2,915 656.7,916.2 661.7,917.9 666.4,920 670.8,922.7 674.9,925.8 678.8,929.4 682.5,933.4 686,937.9 689.3,942.9 692.4,948.3 695.2,954.2 697.9,960.5 700.4,967.3 702.6,974.5 704.7,982.2 706.5,990.4 708.1,999 709.5,1008.1 710.7,1017.8 711.7,1028.1 712.5,1039.2 713,1051.2 713.3,1064.9 713.5,1084 713.5,1153.8 713.3,1172.9 713,1186.6 712.5,1198.6 711.7,1209.7 710.7,1220 709.5,1229.7 708.1,1238.8 706.5,1247.4 704.7,1255.6 702.6,1263.3 700.4,1270.5 697.9,1277.3 695.2,1283.6 692.4,1289.5 689.3,1294.9 686,1299.9 682.5,1304.4 678.8,1308.4 674.9,1312 670.8,1315.1 666.4,1317.8 661.7,1319.9 656.7,1321.6 651.2,1322.8 645.1,1323.6 636.4,1323.8 627.7,1323.6 621.6,1322.8 616.1,1321.6 611.1,1319.9 606.4,1317.8 602,1315.1 597.9,1312 594,1308.4 590.3,1304.4 586.8,1299.9 583.5,1294.9 580.4,1289.5 577.6,1283.6 574.9,1277.3 572.4,1270.5 570.2,1263.3 568.1,1255.6 566.3,1247.4 564.7,1238.8 563.3,1229.7 562.1,1220 561.1,1209.7 560.3,1198.6 559.8,1186.6 559.5,1172.9 559.3,1153.8Z" fill="#ff8000"/>
<path d="M592.6,1092.9 592.7,1086.3 593,1079.6 593.4,1073.1 593.9,1066.6 594.6,1060.2 595.5,1053.9 596.5,1047.8 597.7,1041.8 599,1036 600.4,1030.4 602,1025.1 603.7,1020 605.5,1015.1 607.4,1010.6 609.4,1006.3 611.5,1002.4 613.8,998.8 616.1,995.5 618.4,992.6 620.9,990 623.4,987.9 625.9,986.1 628.5,984.7 631.1,983.7 633.8,983.1 636.4,982.9 639,983.1 641.7,983.7 644.3,984.7 646.9,986.1 649.4,987.9 651.9,990 654.4,992.6 656.7,995.5 659,998.8 661.3,1002.4 663.4,1006.3 665.4,1010.6 667.3,1015.1 669.1,1020 670.8,1025.1 672.4,1030.4 673.8,1036 675.1,1041.8 676.3,1047.8 677.3,1053.9 678.2,1060.2 678.9,1066.6 679.4,1073.1 679.8,1079.6 680.1,1086.3 680.1,1092.9 680.1,1144.9 680.1,1151.5 679.8,1158.2 679.4,1164.7 678.9,1171.2 678.2,1177.6 677.3,1183.9 676.3,1190 675.1,1196 673.8,1201.8 672.4,1207.4 670.8,1212.7 669.1,1217.8 667.3,1222.7 665.4,1227.2 663.4,1231.5 661.3,1235.4 659,1239 656.7,1242.3 654.4,1245.2 651.9,1247.8 649.4,1249.9 646.9,1251.7 644.3,1253.1 641.7,1254.1 639,1254.7 636.4,1254.9 633.8,1254.7 631.1,1254.1 628.5,1253.1 625.9,1251.7 623.4,1249.9 620.9,1247.8 618.4,1245.2 616.1,1242.3 613.8,1239 611.5,1235.4 609.4,1231.5 607.4,1227.2 605.5,1222.7 603.7,1217.8 602,1212.7 600.4,1207.4 599,1201.8 597.7,1196 596.5,1190 595.5,1183.9 594.6,1177.6 593.9,1171.2 593.4,1164.7 593,1158.2 592.7,1151.5 592.6,1144.9Z" fill="#ff2a00"/>
<rect x="820.6" y="755" width="1.8" height="727.8" fill="#000"/>
</g>
<g>
<rect x="837.6" y="755.2" width="33.2" height="17.3" fill="#a00000"/>
<rect x="837.6" y="772" width="33.2" height="49.1" fill="#e60000"/>
<rect x="837.6" y="820.6" width="33.2" height="49.1" fill="#ff2c00"/>
<rect x="837.6" y="869.1" width="33.2" height="49.1" fill="#ff7000"/>
<rect x="837.6" y="917.7" width="33.2" height="49.1" fill="#ffb000"/>
<rect x="837.6" y="966.2" width="33.2" height="49.1" fill="#fff200"/>
<rect x="837.6" y="1014.8" width="33.2" height="49.1" fill="#d0ff30"/>
<rect x="837.6" y="1063.4" width="33.2" height="49.1" fill="#90ff70"/>
<rect x="837.6" y="1111.9" width="33.2" height="49.1" fill="#50ffb0"/>
<rect x="837.6" y="1160.5" width="33.2" height="49.1" fill="#00ffff"/>
<rect x="837.6" y="1209" width="33.2" height="49.1" fill="#00b4ff"/>
<rect x="837.6" y="1257.6" width="33.2" height="49.1" fill="#0074ff"/>
<rect x="837.6" y="1306.2" width="33.2" height="49.1" fill="#0030ff"/>
<rect x="837.6" y="1354.7" width="33.2" height="49.1" fill="#0000e6"/>
<rect x="837.6" y="1403.3" width="33.2" height="49.1" fill="#0000a4"/>
<rect x="837.6" y="1451.8" width="33.2" height="25" fill="#000080"/>
<path d="M837.6,772 h6 M870.8,772 h-6" stroke="#000" stroke-opacity="0.5" stroke-width="1"/>
<path d="M837.6,820.6 h6 M870.8,820.6 h-6" stroke="#000" stroke-opacity="0.5" stroke-width="1"/>
<path d="M837.6,869.1 h6 M870.8,869.1 h-6" stroke="#000" stroke-opacity="0.5" stroke-width="1"/>
<path d="M837.6,917.7 h6 M870.8,917.7 h-6" stroke="#000" stroke-opacity="0.5" stroke-width="1"/>
<path d="M837.6,966.2 h6 M870.8,966.2 h-6" stroke="#000" stroke-opacity="0.5" stroke-width="1"/>
<path d="M837.6,1014.8 h6 M870.8,1014.8 h-6" stroke="#000" stroke-opacity="0.5" stroke-width="1"/>
<path d="M837.6,1063.4 h6 M870.8,1063.4 h-6" stroke="#000" stroke-opacity="0.5" stroke-width="1"/>
<path d="M837.6,1111.9 h6 M870.8,1111.9 h-6" stroke="#000" stroke-opacity="0.5" stroke-width="1"/>
<path d="M837.6,1160.5 h6 M870.8,1160.5 h-6" stroke="#000" stroke-opacity="0.5" stroke-width="1"/>
<path d="M837.6,1209 h6 M870.8,1209 h-6" stroke="#000" stroke-opacity="0.5" stroke-width="1"/>
<path d="M837.6,1257.6 h6 M870.8,1257.6 h-6" stroke="#000" stroke-opacity="0.5" stroke-width="1"/>
<path d="M837.6,1306.2 h6 M870.8,1306.2 h-6" stroke="#000" stroke-opacity="0.5" stroke-width="1"/>
<path d="M837.6,1354.7 h6 M870.8,1354.7 h-6" stroke="#000" stroke-opacity="0.5" stroke-width="1"/>
<path d="M837.6,1403.3 h6 M870.8,1403.3 h-6" stroke="#000" stroke-opacity="0.5" stroke-width="1"/>
<path d="M837.6,1451.8 h6 M870.8,1451.8 h-6" stroke="#000" stroke-opacity="0.5" stroke-width="1"/>
<rect x="837.6" y="755.2" width="33.2" height="721.1" fill="none" stroke="#000" stroke-opacity="0.5" stroke-width="1"/>
<g font-family="'DejaVu Sans', 'Liberation Sans', sans-serif" font-size="23" fill="#000">
<text x="886.6" y="780.4" transform="translate(886.6 0) scale(1.16 1) translate(-886.6 0)">1.78</text>
<text x="886.6" y="829" transform="translate(886.6 0) scale(1.16 1) translate(-886.6 0)">1.66</text>
<text x="886.6" y="877.5" transform="translate(886.6 0) scale(1.16 1) translate(-886.6 0)">1.54</text>
<text x="886.6" y="926.1" transform="translate(886.6 0) scale(1.16 1) translate(-886.6 0)">1.41</text>
<text x="886.6" y="974.6" transform="translate(886.6 0) scale(1.16 1) translate(-886.6 0)">1.29</text>
<text x="886.6" y="1023.2" transform="translate(886.6 0) scale(1.16 1) translate(-886.6 0)">1.17</text>
<text x="886.6" y="1071.8" transform="translate(886.6 0) scale(1.16 1) translate(-886.6 0)">1.04</text>
<text x="886.6" y="1120.3" transform="translate(886.6 0) scale(1.16 1) translate(-886.6 0)">0.92</text>
<text x="886.6" y="1168.9" transform="translate(886.6 0) scale(1.16 1) translate(-886.6 0)">0.8</text>
<text x="886.6" y="1217.4" transform="translate(886.6 0) scale(1.16 1) translate(-886.6 0)">0.68</text>
<text x="886.6" y="1266" transform="translate(886.6 0) scale(1.16 1) translate(-886.6 0)">0.55</text>
<text x="886.6" y="1314.6" transform="translate(886.6 0) scale(1.16 1) translate(-886.6 0)">0.43</text>
<text x="886.6" y="1363.1" transform="translate(886.6 0) scale(1.16 1) translate(-886.6 0)">0.31</text>
<text x="886.6" y="1411.7" transform="translate(886.6 0) scale(1.16 1) translate(-886.6 0)">0.18</text>
<clipPath id="cz"><rect x="870" y="1440" width="80" height="42.7"/></clipPath>
<g clip-path="url(#cz)"><text x="886.6" y="1484.7" transform="translate(886.6 0) scale(1.16 1) translate(-886.6 0)">0</text></g>
</g></g>
<g filter="url(#soft)">
<rect x="1015" y="776.7" width="361" height="710.2" fill="#0640f4" stroke="#0a1464" stroke-width="2"/>
<path d="M1195.5,787.4 1186.6,787.4 1177.7,787.5 1168.8,787.6 1159.9,787.7 1151,787.9 1142.1,788.1 1133.1,788.4 1124.2,788.6 1115.3,788.9 1106.4,789.3 1097.5,789.7 1088.6,790.2 1079.7,790.8 1070.8,791.9 1061.9,793.4 1053.3,795.4 1044.8,798.6 1038.8,804.3 1035.1,812.9 1032.9,821.5 1031.2,830.3 1030.1,839.1 1029.2,848 1028.5,856.9 1027.8,865.8 1027.3,874.7 1026.9,883.6 1026.5,892.5 1026.1,901.4 1025.8,910.3 1025.5,919.2 1025.2,928.1 1024.9,937 1024.7,945.9 1024.4,954.8 1024.1,963.7 1023.9,972.6 1023.6,981.5 1023.3,990.4 1023,999.3 1022.8,1008.2 1022.6,1017.1 1022.4,1026.1 1022.2,1035 1022,1043.9 1021.9,1052.8 1021.7,1061.7 1021.6,1070.6 1021.5,1079.5 1021.4,1088.4 1021.3,1097.3 1021.3,1106.2 1021.2,1115.1 1021.2,1124 1021.2,1133 1021.2,1141.9 1021.2,1150.8 1021.3,1159.7 1021.3,1168.6 1021.4,1177.5 1021.5,1186.4 1021.6,1195.3 1021.7,1204.2 1021.9,1213.1 1022,1222 1022.2,1230.9 1022.4,1239.8 1022.6,1248.8 1022.8,1257.7 1023,1266.6 1023.3,1275.5 1023.6,1284.4 1023.9,1293.3 1024.1,1302.2 1024.4,1311.1 1024.7,1320 1024.9,1328.9 1025.2,1337.8 1025.5,1346.7 1025.8,1355.6 1026.1,1364.5 1026.5,1373.4 1026.9,1382.3 1027.3,1391.2 1027.8,1400.1 1028.5,1409 1029.2,1417.9 1030.1,1426.8 1031.2,1435.6 1032.9,1444.4 1035.1,1453 1038.8,1461.6 1044.8,1467.3 1053.3,1470.5 1061.9,1472.5 1070.8,1474 1079.7,1475.1 1088.6,1475.7 1097.5,1476.2 1106.4,1476.6 1115.3,1477 1124.2,1477.3 1133.1,1477.5 1142.1,1477.8 1151,1478 1159.9,1478.2 1168.8,1478.3 1177.7,1478.4 1186.6,1478.5 1195.5,1478.5 1204.6,1478.5 1213.5,1478.4 1222.4,1478.3 1231.3,1478.2 1240.2,1478 1249.1,1477.8 1258.1,1477.5 1267,1477.3 1275.9,1477 1284.8,1476.6 1293.7,1476.2 1302.6,1475.7 1311.5,1475.1 1320.4,1474 1329.3,1472.5 1337.9,1470.5 1346.4,1467.3 1352.4,1461.6 1356.1,1453 1358.3,1444.4 1360,1435.6 1361.1,1426.8 1362,1417.9 1362.7,1409 1363.4,1400.1 1363.9,1391.2 1364.3,1382.3 1364.7,1373.4 1365.1,1364.5 1365.4,1355.6 1365.7,1346.7 1366,1337.8 1366.3,1328.9 1366.5,1320 1366.8,1311.1 1367.1,1302.2 1367.3,1293.3 1367.6,1284.4 1367.9,1275.5 1368.2,1266.6 1368.4,1257.7 1368.6,1248.8 1368.8,1239.8 1369,1230.9 1369.2,1222 1369.3,1213.1 1369.5,1204.2 1369.6,1195.3 1369.7,1186.4 1369.8,1177.5 1369.9,1168.6 1369.9,1159.7 1370,1150.8 1370,1141.9 1370,1133 1370,1124 1370,1115.1 1369.9,1106.2 1369.9,1097.3 1369.8,1088.4 1369.7,1079.5 1369.6,1070.6 1369.5,1061.7 1369.3,1052.8 1369.2,1043.9 1369,1035 1368.8,1026.1 1368.6,1017.1 1368.4,1008.2 1368.2,999.3 1367.9,990.4 1367.6,981.5 1367.3,972.6 1367.1,963.7 1366.8,954.8 1366.5,945.9 1366.3,937 1366,928.1 1365.7,919.2 1365.4,910.3 1365.1,901.4 1364.7,892.5 1364.3,883.6 1363.9,874.7 1363.4,865.8 1362.7,856.9 1362,848 1361.1,839.1 1360,830.3 1358.3,821.5 1356.1,812.9 1352.4,804.3 1346.4,798.6 1337.9,795.4 1329.3,793.4 1320.4,791.9 1311.5,790.8 1302.6,790.2 1293.7,789.7 1284.8,789.3 1275.9,788.9 1267,788.6 1258.1,788.4 1249.1,788.1 1240.2,787.9 1231.3,787.7 1222.4,787.6 1213.5,787.5 1204.6,787.4Z" fill="#14a0f2"/>
<path d="M1195.5,799.4 1187.1,799.5 1178.8,799.6 1170.4,799.8 1162,800.1 1153.7,800.5 1145.3,801 1137,801.5 1128.6,802.1 1120.3,802.9 1112,803.7 1103.6,804.7 1095.1,805.7 1086.7,807 1078.6,808.7 1070.8,810.8 1063.1,814.8 1057.1,820.2 1052.5,827.3 1049.1,835.1 1046.6,843 1044.6,851.2 1043,859.5 1041.5,867.7 1040.2,876 1039.1,884.3 1038.1,892.6 1037.4,900.9 1036.8,909.3 1036.3,917.6 1035.9,926 1035.5,934.3 1035.1,942.7 1034.8,951.1 1034.4,959.4 1034,967.8 1033.6,976.1 1033.1,984.5 1032.6,992.9 1032.1,1001.2 1031.7,1009.6 1031.3,1017.9 1030.9,1026.3 1030.6,1034.7 1030.2,1043 1029.9,1051.4 1029.7,1059.7 1029.4,1068.1 1029.2,1076.5 1029.1,1084.8 1029,1093.2 1028.9,1101.6 1028.8,1109.9 1028.7,1118.3 1028.6,1126.7 1028.6,1135.1 1028.6,1143.4 1028.7,1151.8 1028.8,1160.2 1028.9,1168.5 1029,1176.9 1029.1,1185.3 1029.2,1193.6 1029.4,1202 1029.7,1210.4 1029.9,1218.7 1030.2,1227.1 1030.6,1235.4 1030.9,1243.8 1031.3,1252.2 1031.7,1260.5 1032.1,1268.9 1032.6,1277.2 1033.1,1285.6 1033.6,1294 1034,1302.3 1034.4,1310.7 1034.8,1319 1035.1,1327.4 1035.5,1335.8 1035.9,1344.1 1036.3,1352.5 1036.8,1360.8 1037.4,1369.2 1038.1,1377.5 1039.1,1385.8 1040.2,1394.1 1041.5,1402.4 1043,1410.6 1044.6,1418.9 1046.6,1427.1 1049.1,1435 1052.5,1442.8 1057.1,1449.9 1063.1,1455.3 1070.8,1459.3 1078.6,1461.4 1086.7,1463.1 1095.1,1464.4 1103.6,1465.4 1112,1466.4 1120.3,1467.2 1128.6,1468 1137,1468.6 1145.3,1469.1 1153.7,1469.6 1162,1470 1170.4,1470.3 1178.8,1470.5 1187.1,1470.6 1195.5,1470.7 1204.1,1470.6 1212.4,1470.5 1220.8,1470.3 1229.2,1470 1237.5,1469.6 1245.9,1469.1 1254.2,1468.6 1262.6,1468 1270.9,1467.2 1279.2,1466.4 1287.6,1465.4 1296.1,1464.4 1304.5,1463.1 1312.6,1461.4 1320.4,1459.3 1328.1,1455.3 1334.1,1449.9 1338.7,1442.8 1342.1,1435 1344.6,1427.1 1346.6,1418.9 1348.2,1410.6 1349.7,1402.4 1351,1394.1 1352.1,1385.8 1353.1,1377.5 1353.8,1369.2 1354.4,1360.8 1354.9,1352.5 1355.3,1344.1 1355.7,1335.8 1356.1,1327.4 1356.4,1319 1356.8,1310.7 1357.2,1302.3 1357.6,1294 1358.1,1285.6 1358.6,1277.2 1359.1,1268.9 1359.5,1260.5 1359.9,1252.2 1360.3,1243.8 1360.6,1235.4 1361,1227.1 1361.3,1218.7 1361.5,1210.4 1361.8,1202 1362,1193.6 1362.1,1185.3 1362.2,1176.9 1362.3,1168.5 1362.4,1160.2 1362.5,1151.8 1362.6,1143.4 1362.6,1135.1 1362.6,1126.7 1362.5,1118.3 1362.4,1109.9 1362.3,1101.6 1362.2,1093.2 1362.1,1084.8 1362,1076.5 1361.8,1068.1 1361.5,1059.7 1361.3,1051.4 1361,1043 1360.6,1034.7 1360.3,1026.3 1359.9,1017.9 1359.5,1009.6 1359.1,1001.2 1358.6,992.9 1358.1,984.5 1357.6,976.1 1357.2,967.8 1356.8,959.4 1356.4,951.1 1356.1,942.7 1355.7,934.3 1355.3,926 1354.9,917.6 1354.4,909.3 1353.8,900.9 1353.1,892.6 1352.1,884.3 1351,876 1349.7,867.7 1348.2,859.5 1346.6,851.2 1344.6,843 1342.1,835.1 1338.7,827.3 1334.1,820.2 1328.1,814.8 1320.4,810.8 1312.6,808.7 1304.5,807 1296.1,805.7 1287.6,804.7 1279.2,803.7 1270.9,802.9 1262.6,802.1 1254.2,801.5 1245.9,801 1237.5,800.5 1229.2,800.1 1220.8,799.8 1212.4,799.6 1204.1,799.5Z" fill="#0cf6fc"/>
<path d="M1195.5,815.8 1187.7,815.9 1179.9,816.1 1172.2,816.3 1164.4,816.8 1156.6,817.3 1148.9,818 1141.1,818.8 1133.4,819.7 1125.5,820.8 1117.6,822 1109.9,823.5 1102.5,825.3 1095.4,827.6 1088.3,831.2 1081.6,835.9 1075.9,841.1 1071.4,846.8 1067.4,853.6 1064,861 1061.2,868.3 1058.6,875.6 1056.2,883.1 1054.1,890.7 1052.5,898.3 1051.3,905.9 1050.3,913.6 1049.4,921.3 1048.6,929.1 1047.9,936.8 1047.3,944.6 1046.6,952.4 1046,960.2 1045.3,968 1044.6,975.7 1044,983.5 1043.3,991.2 1042.6,999 1042,1006.7 1041.4,1014.5 1040.9,1022.3 1040.4,1030 1039.9,1037.8 1039.5,1045.6 1039.1,1053.4 1038.7,1061.1 1038.4,1068.9 1038.1,1076.7 1037.8,1084.5 1037.6,1092.2 1037.5,1100 1037.3,1107.8 1037.2,1115.6 1037.1,1123.4 1037,1131.2 1037,1139 1037,1146.7 1037.1,1154.5 1037.2,1162.3 1037.3,1170.1 1037.5,1177.9 1037.6,1185.7 1037.8,1193.4 1038.1,1201.2 1038.4,1209 1038.7,1216.8 1039.1,1224.5 1039.5,1232.3 1039.9,1240.1 1040.4,1247.9 1040.9,1255.6 1041.4,1263.4 1042,1271.2 1042.6,1278.9 1043.3,1286.7 1044,1294.4 1044.6,1302.2 1045.3,1309.9 1046,1317.7 1046.6,1325.5 1047.3,1333.3 1047.9,1341.1 1048.6,1348.8 1049.4,1356.6 1050.3,1364.3 1051.3,1372 1052.5,1379.6 1054.1,1387.2 1056.2,1394.8 1058.6,1402.3 1061.2,1409.6 1064,1416.9 1067.4,1424.3 1071.4,1431.1 1075.9,1436.8 1081.6,1442 1088.3,1446.7 1095.4,1450.3 1102.5,1452.6 1109.9,1454.4 1117.6,1455.9 1125.5,1457.1 1133.4,1458.2 1141.1,1459.1 1148.9,1459.9 1156.6,1460.6 1164.4,1461.1 1172.2,1461.6 1179.9,1461.8 1187.7,1462 1195.5,1462.1 1203.5,1462 1211.3,1461.8 1219,1461.6 1226.8,1461.1 1234.6,1460.6 1242.3,1459.9 1250.1,1459.1 1257.8,1458.2 1265.7,1457.1 1273.6,1455.9 1281.3,1454.4 1288.7,1452.6 1295.8,1450.3 1302.9,1446.7 1309.6,1442 1315.3,1436.8 1319.8,1431.1 1323.8,1424.3 1327.2,1416.9 1330,1409.6 1332.6,1402.3 1335,1394.8 1337.1,1387.2 1338.7,1379.6 1339.9,1372 1340.9,1364.3 1341.8,1356.6 1342.6,1348.8 1343.3,1341.1 1343.9,1333.3 1344.6,1325.5 1345.2,1317.7 1345.9,1309.9 1346.6,1302.2 1347.2,1294.4 1347.9,1286.7 1348.6,1278.9 1349.2,1271.2 1349.8,1263.4 1350.3,1255.6 1350.8,1247.9 1351.3,1240.1 1351.7,1232.3 1352.1,1224.5 1352.5,1216.8 1352.8,1209 1353.1,1201.2 1353.4,1193.4 1353.6,1185.7 1353.7,1177.9 1353.9,1170.1 1354,1162.3 1354.1,1154.5 1354.2,1146.7 1354.2,1139 1354.2,1131.2 1354.1,1123.4 1354,1115.6 1353.9,1107.8 1353.7,1100 1353.6,1092.2 1353.4,1084.5 1353.1,1076.7 1352.8,1068.9 1352.5,1061.1 1352.1,1053.4 1351.7,1045.6 1351.3,1037.8 1350.8,1030 1350.3,1022.3 1349.8,1014.5 1349.2,1006.7 1348.6,999 1347.9,991.2 1347.2,983.5 1346.6,975.7 1345.9,968 1345.2,960.2 1344.6,952.4 1343.9,944.6 1343.3,936.8 1342.6,929.1 1341.8,921.3 1340.9,913.6 1339.9,905.9 1338.7,898.3 1337.1,890.7 1335,883.1 1332.6,875.6 1330,868.3 1327.2,861 1323.8,853.6 1319.8,846.8 1315.3,841.1 1309.6,835.9 1302.9,831.2 1295.8,827.6 1288.7,825.3 1281.3,823.5 1273.6,822 1265.7,820.8 1257.8,819.7 1250.1,818.8 1242.3,818 1234.6,817.3 1226.8,816.8 1219,816.3 1211.3,816.1 1203.5,815.9Z" fill="#0cf2b6"/>
<path d="M1195.5,833.9 1188.2,834 1180.9,834.1 1173.6,834.4 1166.3,834.7 1159,835.2 1151.7,835.7 1144.4,836.4 1137.2,837.3 1130,838.6 1122.7,840.3 1115.7,842.4 1109.2,845 1102.8,848.6 1096.7,853.1 1091.2,857.9 1086.3,863.1 1081.8,869 1077.7,875.3 1074.4,881.7 1071.6,888.3 1069.1,895.3 1067,902.3 1065.1,909.5 1063.6,916.6 1062.4,923.7 1061.2,930.9 1060.3,938.2 1059.3,945.4 1058.5,952.7 1057.6,960 1056.7,967.3 1055.8,974.5 1054.9,981.8 1054,989 1053.1,996.3 1052.2,1003.5 1051.4,1010.8 1050.6,1018 1049.8,1025.3 1049.2,1032.6 1048.6,1039.8 1048,1047.1 1047.4,1054.4 1046.9,1061.7 1046.4,1069 1046,1076.3 1045.6,1083.6 1045.4,1090.8 1045.1,1098.1 1044.9,1105.4 1044.7,1112.7 1044.6,1120 1044.4,1127.3 1044.3,1134.6 1044.3,1142 1044.3,1149.3 1044.4,1156.6 1044.6,1163.9 1044.7,1171.2 1044.9,1178.5 1045.1,1185.8 1045.4,1193.1 1045.6,1200.3 1046,1207.6 1046.4,1214.9 1046.9,1222.2 1047.4,1229.5 1048,1236.8 1048.6,1244.1 1049.2,1251.3 1049.8,1258.6 1050.6,1265.9 1051.4,1273.1 1052.2,1280.4 1053.1,1287.6 1054,1294.9 1054.9,1302.1 1055.8,1309.4 1056.7,1316.6 1057.6,1323.9 1058.5,1331.2 1059.3,1338.5 1060.3,1345.7 1061.2,1353 1062.4,1360.2 1063.6,1367.3 1065.1,1374.4 1067,1381.6 1069.1,1388.6 1071.6,1395.6 1074.4,1402.2 1077.7,1408.6 1081.8,1414.9 1086.3,1420.8 1091.2,1426 1096.7,1430.8 1102.8,1435.3 1109.2,1438.9 1115.7,1441.5 1122.7,1443.6 1130,1445.3 1137.2,1446.6 1144.4,1447.5 1151.7,1448.2 1159,1448.7 1166.3,1449.2 1173.6,1449.5 1180.9,1449.8 1188.2,1449.9 1195.5,1450 1203,1449.9 1210.3,1449.8 1217.6,1449.5 1224.9,1449.2 1232.2,1448.7 1239.5,1448.2 1246.8,1447.5 1254,1446.6 1261.2,1445.3 1268.5,1443.6 1275.5,1441.5 1282,1438.9 1288.4,1435.3 1294.5,1430.8 1300,1426 1304.9,1420.8 1309.4,1414.9 1313.5,1408.6 1316.8,1402.2 1319.6,1395.6 1322.1,1388.6 1324.2,1381.6 1326.1,1374.4 1327.6,1367.3 1328.8,1360.2 1330,1353 1330.9,1345.7 1331.9,1338.5 1332.7,1331.2 1333.6,1323.9 1334.5,1316.6 1335.4,1309.4 1336.3,1302.1 1337.2,1294.9 1338.1,1287.6 1339,1280.4 1339.8,1273.1 1340.6,1265.9 1341.4,1258.6 1342,1251.3 1342.6,1244.1 1343.2,1236.8 1343.8,1229.5 1344.3,1222.2 1344.8,1214.9 1345.2,1207.6 1345.6,1200.3 1345.8,1193.1 1346.1,1185.8 1346.3,1178.5 1346.5,1171.2 1346.6,1163.9 1346.8,1156.6 1346.9,1149.3 1346.9,1142 1346.9,1134.6 1346.8,1127.3 1346.6,1120 1346.5,1112.7 1346.3,1105.4 1346.1,1098.1 1345.8,1090.8 1345.6,1083.6 1345.2,1076.3 1344.8,1069 1344.3,1061.7 1343.8,1054.4 1343.2,1047.1 1342.6,1039.8 1342,1032.6 1341.4,1025.3 1340.6,1018 1339.8,1010.8 1339,1003.5 1338.1,996.3 1337.2,989 1336.3,981.8 1335.4,974.5 1334.5,967.3 1333.6,960 1332.7,952.7 1331.9,945.4 1330.9,938.2 1330,930.9 1328.8,923.7 1327.6,916.6 1326.1,909.5 1324.2,902.3 1322.1,895.3 1319.6,888.3 1316.8,881.7 1313.5,875.3 1309.4,869 1304.9,863.1 1300,857.9 1294.5,853.1 1288.4,848.6 1282,845 1275.5,842.4 1268.5,840.3 1261.2,838.6 1254,837.3 1246.8,836.4 1239.5,835.7 1232.2,835.2 1224.9,834.7 1217.6,834.4 1210.3,834.1 1203,834Z" fill="#0cf05c"/>
<path d="M1195.5,849.4 1188.8,849.5 1182,849.9 1175.3,850.5 1168.7,851.3 1162,852.4 1155.4,853.7 1148.8,855.2 1142.2,857 1135.7,859.1 1129.2,861.5 1123.1,864.1 1117.5,867.2 1112.1,871 1107,875.7 1102.3,880.8 1098.1,886 1094.2,891.4 1090.6,897.2 1087.4,903.3 1084.7,909.4 1082.3,915.6 1080.1,922 1078.1,928.4 1076.3,935 1074.6,941.5 1073.1,948 1071.8,954.6 1070.5,961.3 1069.3,967.9 1068.2,974.5 1067,981.2 1065.9,987.8 1064.9,994.5 1063.8,1001.1 1062.8,1007.8 1061.9,1014.5 1061,1021.1 1060.2,1027.8 1059.4,1034.5 1058.7,1041.2 1058,1047.9 1057.3,1054.6 1056.7,1061.3 1056.1,1068 1055.6,1074.7 1055.2,1081.4 1054.8,1088.2 1054.5,1094.9 1054.3,1101.6 1054,1108.3 1053.8,1115.1 1053.6,1121.8 1053.4,1128.5 1053.3,1135.3 1053.3,1142 1053.3,1148.7 1053.4,1155.5 1053.6,1162.2 1053.8,1168.9 1054,1175.7 1054.3,1182.4 1054.5,1189.1 1054.8,1195.8 1055.2,1202.6 1055.6,1209.3 1056.1,1216 1056.7,1222.7 1057.3,1229.4 1058,1236.1 1058.7,1242.8 1059.4,1249.5 1060.2,1256.2 1061,1262.9 1061.9,1269.5 1062.8,1276.2 1063.8,1282.9 1064.9,1289.5 1065.9,1296.2 1067,1302.8 1068.2,1309.5 1069.3,1316.1 1070.5,1322.7 1071.8,1329.4 1073.1,1336 1074.6,1342.5 1076.3,1349 1078.1,1355.6 1080.1,1362 1082.3,1368.4 1084.7,1374.6 1087.4,1380.7 1090.6,1386.8 1094.2,1392.6 1098.1,1398 1102.3,1403.2 1107,1408.3 1112.1,1413 1117.5,1416.8 1123.1,1419.9 1129.2,1422.5 1135.7,1424.9 1142.2,1427 1148.8,1428.8 1155.4,1430.3 1162,1431.6 1168.7,1432.7 1175.3,1433.5 1182,1434.1 1188.8,1434.5 1195.5,1434.6 1202.4,1434.5 1209.2,1434.1 1215.9,1433.5 1222.5,1432.7 1229.2,1431.6 1235.8,1430.3 1242.4,1428.8 1249,1427 1255.5,1424.9 1262,1422.5 1268.1,1419.9 1273.7,1416.8 1279.1,1413 1284.2,1408.3 1288.9,1403.2 1293.1,1398 1297,1392.6 1300.6,1386.8 1303.8,1380.7 1306.5,1374.6 1308.9,1368.4 1311.1,1362 1313.1,1355.6 1314.9,1349 1316.6,1342.5 1318.1,1336 1319.4,1329.4 1320.7,1322.7 1321.9,1316.1 1323,1309.5 1324.2,1302.8 1325.3,1296.2 1326.3,1289.5 1327.4,1282.9 1328.4,1276.2 1329.3,1269.5 1330.2,1262.9 1331,1256.2 1331.8,1249.5 1332.5,1242.8 1333.2,1236.1 1333.9,1229.4 1334.5,1222.7 1335.1,1216 1335.6,1209.3 1336,1202.6 1336.4,1195.8 1336.7,1189.1 1336.9,1182.4 1337.2,1175.7 1337.4,1168.9 1337.6,1162.2 1337.8,1155.5 1337.9,1148.7 1337.9,1142 1337.9,1135.3 1337.8,1128.5 1337.6,1121.8 1337.4,1115.1 1337.2,1108.3 1336.9,1101.6 1336.7,1094.9 1336.4,1088.2 1336,1081.4 1335.6,1074.7 1335.1,1068 1334.5,1061.3 1333.9,1054.6 1333.2,1047.9 1332.5,1041.2 1331.8,1034.5 1331,1027.8 1330.2,1021.1 1329.3,1014.5 1328.4,1007.8 1327.4,1001.1 1326.3,994.5 1325.3,987.8 1324.2,981.2 1323,974.5 1321.9,967.9 1320.7,961.3 1319.4,954.6 1318.1,948 1316.6,941.5 1314.9,935 1313.1,928.4 1311.1,922 1308.9,915.6 1306.5,909.4 1303.8,903.3 1300.6,897.2 1297,891.4 1293.1,886 1288.9,880.8 1284.2,875.7 1279.1,871 1273.7,867.2 1268.1,864.1 1262,861.5 1255.5,859.1 1249,857 1242.4,855.2 1235.8,853.7 1229.2,852.4 1222.5,851.3 1215.9,850.5 1209.2,849.9 1202.4,849.5Z" fill="#44f60e"/>
<path d="M1195.5,871.7 1189.4,872 1183.3,872.6 1177.3,873.7 1171.4,875.2 1165.6,877.1 1159.8,879 1153.9,881.1 1148.2,883.3 1142.6,885.8 1137.4,888.6 1132.3,891.9 1127.3,895.7 1122.7,899.8 1118.5,904.1 1114.6,908.7 1110.9,913.7 1107.6,918.9 1104.5,924.2 1101.8,929.6 1099.4,935.2 1097.1,941 1095,946.7 1092.9,952.4 1090.9,958.2 1089.1,964 1087.5,969.9 1086,975.8 1084.6,981.7 1083.3,987.7 1082,993.7 1080.8,999.7 1079.7,1005.7 1078.6,1011.7 1077.5,1017.8 1076.5,1023.8 1075.6,1029.8 1074.8,1035.9 1073.9,1041.9 1073.1,1048 1072.3,1054 1071.5,1060.1 1070.8,1066.2 1070.1,1072.2 1069.5,1078.3 1069,1084.4 1068.6,1090.5 1068.3,1096.6 1068,1102.7 1067.7,1108.8 1067.4,1114.9 1067.1,1121 1066.9,1127.1 1066.7,1133.2 1066.6,1139.3 1066.6,1145.4 1066.6,1151.5 1066.7,1157.6 1066.9,1163.7 1067.1,1169.8 1067.4,1175.9 1067.7,1182 1068,1188.1 1068.3,1194.2 1068.6,1200.3 1069,1206.4 1069.5,1212.5 1070.1,1218.6 1070.8,1224.6 1071.5,1230.7 1072.3,1236.8 1073.1,1242.8 1073.9,1248.9 1074.8,1254.9 1075.6,1261 1076.5,1267 1077.5,1273 1078.6,1279.1 1079.7,1285.1 1080.8,1291.1 1082,1297.1 1083.3,1303.1 1084.6,1309.1 1086,1315 1087.5,1320.9 1089.1,1326.8 1090.9,1332.6 1092.9,1338.4 1095,1344.1 1097.1,1349.8 1099.4,1355.6 1101.8,1361.2 1104.5,1366.6 1107.6,1371.9 1110.9,1377.1 1114.6,1382.1 1118.5,1386.7 1122.7,1391 1127.3,1395.1 1132.3,1398.9 1137.4,1402.2 1142.6,1405 1148.2,1407.5 1153.9,1409.7 1159.8,1411.8 1165.6,1413.7 1171.4,1415.6 1177.3,1417.1 1183.3,1418.2 1189.4,1418.8 1195.5,1419.1 1201.8,1418.8 1207.9,1418.2 1213.9,1417.1 1219.8,1415.6 1225.6,1413.7 1231.4,1411.8 1237.3,1409.7 1243,1407.5 1248.6,1405 1253.8,1402.2 1258.9,1398.9 1263.9,1395.1 1268.5,1391 1272.7,1386.7 1276.6,1382.1 1280.3,1377.1 1283.6,1371.9 1286.7,1366.6 1289.4,1361.2 1291.8,1355.6 1294.1,1349.8 1296.2,1344.1 1298.3,1338.4 1300.3,1332.6 1302.1,1326.8 1303.7,1320.9 1305.2,1315 1306.6,1309.1 1307.9,1303.1 1309.2,1297.1 1310.4,1291.1 1311.5,1285.1 1312.6,1279.1 1313.7,1273 1314.7,1267 1315.6,1261 1316.4,1254.9 1317.3,1248.9 1318.1,1242.8 1318.9,1236.8 1319.7,1230.7 1320.4,1224.6 1321.1,1218.6 1321.7,1212.5 1322.2,1206.4 1322.6,1200.3 1322.9,1194.2 1323.2,1188.1 1323.5,1182 1323.8,1175.9 1324.1,1169.8 1324.3,1163.7 1324.5,1157.6 1324.6,1151.5 1324.6,1145.4 1324.6,1139.3 1324.5,1133.2 1324.3,1127.1 1324.1,1121 1323.8,1114.9 1323.5,1108.8 1323.2,1102.7 1322.9,1096.6 1322.6,1090.5 1322.2,1084.4 1321.7,1078.3 1321.1,1072.2 1320.4,1066.2 1319.7,1060.1 1318.9,1054 1318.1,1048 1317.3,1041.9 1316.4,1035.9 1315.6,1029.8 1314.7,1023.8 1313.7,1017.8 1312.6,1011.7 1311.5,1005.7 1310.4,999.7 1309.2,993.7 1307.9,987.7 1306.6,981.7 1305.2,975.8 1303.7,969.9 1302.1,964 1300.3,958.2 1298.3,952.4 1296.2,946.7 1294.1,941 1291.8,935.2 1289.4,929.6 1286.7,924.2 1283.6,918.9 1280.3,913.7 1276.6,908.7 1272.7,904.1 1268.5,899.8 1263.9,895.7 1258.9,891.9 1253.8,888.6 1248.6,885.8 1243,883.3 1237.3,881.1 1231.4,879 1225.6,877.1 1219.8,875.2 1213.9,873.7 1207.9,872.6 1201.8,872Z" fill="#b2f80e"/>
<path d="M1195.5,897.6 1190,897.9 1184.6,898.6 1179.3,899.9 1174.1,901.7 1169,903.7 1163.9,905.8 1158.8,908.1 1153.9,910.6 1149.2,913.3 1144.8,916.3 1140.7,919.7 1136.8,923.6 1133.2,927.9 1129.8,932.2 1126.5,936.6 1123.5,941.1 1120.6,945.8 1118,950.7 1115.6,955.6 1113.4,960.6 1111.4,965.7 1109.7,970.8 1108,976 1106.3,981.2 1104.7,986.5 1103.2,991.7 1101.7,997 1100.2,1002.3 1098.8,1007.6 1097.5,1012.9 1096.2,1018.2 1095,1023.6 1093.8,1028.9 1092.7,1034.3 1091.7,1039.6 1090.6,1045 1089.6,1050.4 1088.7,1055.7 1087.7,1061.1 1086.8,1066.6 1086,1072 1085.2,1077.4 1084.6,1082.8 1084,1088.3 1083.5,1093.7 1083.1,1099.1 1082.7,1104.6 1082.3,1110 1082,1115.5 1081.7,1121 1081.4,1126.4 1081.1,1131.9 1081,1137.4 1080.8,1142.8 1080.8,1148.3 1080.8,1153.8 1081,1159.2 1081.1,1164.7 1081.4,1170.2 1081.7,1175.6 1082,1181.1 1082.3,1186.6 1082.7,1192 1083.1,1197.5 1083.5,1202.9 1084,1208.3 1084.6,1213.8 1085.2,1219.2 1086,1224.6 1086.8,1230 1087.7,1235.5 1088.7,1240.9 1089.6,1246.2 1090.6,1251.6 1091.7,1257 1092.7,1262.3 1093.8,1267.7 1095,1273 1096.2,1278.4 1097.5,1283.7 1098.8,1289 1100.2,1294.3 1101.7,1299.6 1103.2,1304.9 1104.7,1310.1 1106.3,1315.4 1108,1320.6 1109.7,1325.8 1111.4,1330.9 1113.4,1336 1115.6,1341 1118,1345.9 1120.6,1350.8 1123.5,1355.5 1126.5,1360 1129.8,1364.4 1133.2,1368.7 1136.8,1373 1140.7,1376.9 1144.8,1380.3 1149.2,1383.3 1153.9,1386 1158.8,1388.5 1163.9,1390.8 1169,1392.9 1174.1,1394.9 1179.3,1396.7 1184.6,1398 1190,1398.7 1195.5,1399 1201.2,1398.7 1206.6,1398 1211.9,1396.7 1217.1,1394.9 1222.2,1392.9 1227.3,1390.8 1232.4,1388.5 1237.3,1386 1242,1383.3 1246.4,1380.3 1250.5,1376.9 1254.4,1373 1258,1368.7 1261.4,1364.4 1264.7,1360 1267.7,1355.5 1270.6,1350.8 1273.2,1345.9 1275.6,1341 1277.8,1336 1279.8,1330.9 1281.5,1325.8 1283.2,1320.6 1284.9,1315.4 1286.5,1310.1 1288,1304.9 1289.5,1299.6 1291,1294.3 1292.4,1289 1293.7,1283.7 1295,1278.4 1296.2,1273 1297.4,1267.7 1298.5,1262.3 1299.5,1257 1300.6,1251.6 1301.6,1246.2 1302.5,1240.9 1303.5,1235.5 1304.4,1230 1305.2,1224.6 1306,1219.2 1306.6,1213.8 1307.2,1208.3 1307.7,1202.9 1308.1,1197.5 1308.5,1192 1308.9,1186.6 1309.2,1181.1 1309.5,1175.6 1309.8,1170.2 1310.1,1164.7 1310.2,1159.2 1310.4,1153.8 1310.4,1148.3 1310.4,1142.8 1310.2,1137.4 1310.1,1131.9 1309.8,1126.4 1309.5,1121 1309.2,1115.5 1308.9,1110 1308.5,1104.6 1308.1,1099.1 1307.7,1093.7 1307.2,1088.3 1306.6,1082.8 1306,1077.4 1305.2,1072 1304.4,1066.6 1303.5,1061.1 1302.5,1055.7 1301.6,1050.4 1300.6,1045 1299.5,1039.6 1298.5,1034.3 1297.4,1028.9 1296.2,1023.6 1295,1018.2 1293.7,1012.9 1292.4,1007.6 1291,1002.3 1289.5,997 1288,991.7 1286.5,986.5 1284.9,981.2 1283.2,976 1281.5,970.8 1279.8,965.7 1277.8,960.6 1275.6,955.6 1273.2,950.7 1270.6,945.8 1267.7,941.1 1264.7,936.6 1261.4,932.2 1258,927.9 1254.4,923.6 1250.5,919.7 1246.4,916.3 1242,913.3 1237.3,910.6 1232.4,908.1 1227.3,905.8 1222.2,903.7 1217.1,901.7 1211.9,899.9 1206.6,898.6 1201.2,897.9Z" fill="#fffc10"/>
<path d="M1100.8,1128.6 1100.9,1101.7 1101.3,1084.5 1101.9,1069.8 1102.8,1056.6 1103.9,1044.5 1105.2,1033.2 1106.8,1022.7 1108.7,1012.9 1110.8,1003.7 1113.1,995.1 1115.7,987 1118.5,979.5 1121.6,972.5 1124.9,966 1128.5,960 1132.3,954.6 1136.4,949.7 1140.8,945.2 1145.4,941.4 1150.4,938 1155.7,935.1 1161.5,932.8 1167.7,930.9 1174.7,929.6 1182.8,928.9 1195.6,928.6 1208.4,928.9 1216.5,929.6 1223.5,930.9 1229.7,932.8 1235.5,935.1 1240.8,938 1245.8,941.4 1250.4,945.2 1254.8,949.7 1258.9,954.6 1262.7,960 1266.3,966 1269.6,972.5 1272.7,979.5 1275.5,987 1278.1,995.1 1280.4,1003.7 1282.5,1012.9 1284.4,1022.7 1286,1033.2 1287.3,1044.5 1288.4,1056.6 1289.3,1069.8 1289.9,1084.5 1290.3,1101.7 1290.4,1128.6 1290.4,1150.5 1290.3,1178.8 1289.9,1196.8 1289.3,1212.3 1288.4,1226.1 1287.3,1238.8 1286,1250.6 1284.4,1261.7 1282.5,1272 1280.4,1281.7 1278.1,1290.7 1275.5,1299.2 1272.7,1307.1 1269.6,1314.4 1266.3,1321.3 1262.7,1327.5 1258.9,1333.2 1254.8,1338.4 1250.4,1343 1245.8,1347.1 1240.8,1350.7 1235.5,1353.7 1229.7,1356.1 1223.5,1358 1216.5,1359.4 1208.4,1360.2 1195.6,1360.5 1182.8,1360.2 1174.7,1359.4 1167.7,1358 1161.5,1356.1 1155.7,1353.7 1150.4,1350.7 1145.4,1347.1 1140.8,1343 1136.4,1338.4 1132.3,1333.2 1128.5,1327.5 1124.9,1321.3 1121.6,1314.4 1118.5,1307.1 1115.7,1299.2 1113.1,1290.7 1110.8,1281.7 1108.7,1272 1106.8,1261.7 1105.2,1250.6 1103.9,1238.8 1102.8,1226.1 1101.9,1212.3 1101.3,1196.8 1100.9,1178.8 1100.8,1150.5Z" fill="#fda40e"/>
<path d="M1128.8,1104.2 1128.9,1091.7 1129.2,1081.9 1129.7,1073 1130.4,1064.7 1131.3,1056.9 1132.4,1049.4 1133.7,1042.3 1135.2,1035.6 1136.9,1029.1 1138.8,1023.1 1140.9,1017.3 1143.1,1011.9 1145.6,1006.8 1148.2,1002.1 1150.9,997.7 1153.9,993.7 1157,990 1160.3,986.7 1163.8,983.8 1167.4,981.3 1171.3,979.1 1175.3,977.4 1179.6,976 1184.1,975 1189.2,974.4 1195.6,974.2 1202,974.4 1207.1,975 1211.6,976 1215.9,977.4 1219.9,979.1 1223.8,981.3 1227.4,983.8 1230.9,986.7 1234.2,990 1237.3,993.7 1240.3,997.7 1243,1002.1 1245.6,1006.8 1248.1,1011.9 1250.3,1017.3 1252.4,1023.1 1254.3,1029.1 1256,1035.6 1257.5,1042.3 1258.8,1049.4 1259.9,1056.9 1260.8,1064.7 1261.5,1073 1262,1081.9 1262.3,1091.7 1262.4,1104.2 1262.4,1173.2 1262.3,1186.7 1262,1197.2 1261.5,1206.8 1260.8,1215.7 1259.9,1224.2 1258.8,1232.2 1257.5,1239.9 1256,1247.1 1254.3,1254 1252.4,1260.6 1250.3,1266.8 1248.1,1272.6 1245.6,1278.1 1243,1283.2 1240.3,1287.9 1237.3,1292.2 1234.2,1296.2 1230.9,1299.7 1227.4,1302.8 1223.8,1305.6 1219.9,1307.9 1215.9,1309.8 1211.6,1311.3 1207.1,1312.3 1202,1313 1195.6,1313.2 1189.2,1313 1184.1,1312.3 1179.6,1311.3 1175.3,1309.8 1171.3,1307.9 1167.4,1305.6 1163.8,1302.8 1160.3,1299.7 1157,1296.2 1153.9,1292.2 1150.9,1287.9 1148.2,1283.2 1145.6,1278.1 1143.1,1272.6 1140.9,1266.8 1138.8,1260.6 1136.9,1254 1135.2,1247.1 1133.7,1239.9 1132.4,1232.2 1131.3,1224.2 1130.4,1215.7 1129.7,1206.8 1129.2,1197.2 1128.9,1186.7 1128.8,1173.2Z" fill="#f84408"/>
<g fill="#3a2000" fill-opacity="0.42"><circle cx="1040.6" cy="802.5" r="1.1"/><circle cx="1067.5" cy="800.1" r="1.1"/><circle cx="1104.7" cy="804.8" r="1.1"/><circle cx="1125.5" cy="796.5" r="1.1"/><circle cx="1154.6" cy="799.3" r="1.1"/><circle cx="1184.4" cy="799.5" r="1.1"/><circle cx="1221.8" cy="797.3" r="1.1"/><circle cx="1252.1" cy="801.1" r="1.1"/><circle cx="1274.3" cy="800.7" r="1.1"/><circle cx="1307.1" cy="799" r="1.1"/><circle cx="1337.4" cy="802.3" r="1.1"/><circle cx="1039.3" cy="829.9" r="1.1"/><circle cx="1070.5" cy="837.4" r="1.1"/><circle cx="1097.7" cy="830.7" r="1.1"/><circle cx="1128.7" cy="839.2" r="1.1"/><circle cx="1165.7" cy="836.1" r="1.1"/><circle cx="1194.8" cy="838.1" r="1.1"/><circle cx="1218.5" cy="829.1" r="1.1"/><circle cx="1251.8" cy="834.7" r="1.1"/><circle cx="1278.3" cy="830.7" r="1.1"/><circle cx="1308.9" cy="833.6" r="1.1"/><circle cx="1337.2" cy="831.5" r="1.1"/><circle cx="1039.5" cy="872.3" r="1.1"/><circle cx="1071" cy="865.4" r="1.1"/><circle cx="1097.3" cy="867.5" r="1.1"/><circle cx="1126.5" cy="864.4" r="1.1"/><circle cx="1160.2" cy="863" r="1.1"/><circle cx="1189.8" cy="866.3" r="1.1"/><circle cx="1222.5" cy="871" r="1.1"/><circle cx="1252.3" cy="870.3" r="1.1"/><circle cx="1278.5" cy="870" r="1.1"/><circle cx="1308.1" cy="868.9" r="1.1"/><circle cx="1337.9" cy="867.3" r="1.1"/><circle cx="1034.7" cy="898.9" r="1.1"/><circle cx="1075.7" cy="898.8" r="1.1"/><circle cx="1102.3" cy="903.8" r="1.1"/><circle cx="1132.7" cy="901.7" r="1.1"/><circle cx="1161.2" cy="896.8" r="1.1"/><circle cx="1184.9" cy="898.4" r="1.1"/><circle cx="1215.8" cy="897.2" r="1.1"/><circle cx="1245.6" cy="902.6" r="1.1"/><circle cx="1276.3" cy="907.4" r="1.1"/><circle cx="1312.2" cy="902.5" r="1.1"/><circle cx="1342.5" cy="899.2" r="1.1"/><circle cx="1045.1" cy="940.1" r="1.1"/><circle cx="1072.7" cy="935.8" r="1.1"/><circle cx="1104.1" cy="938.9" r="1.1"/><circle cx="1131.9" cy="941" r="1.1"/><circle cx="1161.6" cy="934.4" r="1.1"/><circle cx="1190.6" cy="932.4" r="1.1"/><circle cx="1216.3" cy="938.7" r="1.1"/><circle cx="1253.4" cy="941.7" r="1.1"/><circle cx="1284.2" cy="936.5" r="1.1"/><circle cx="1305.1" cy="935.9" r="1.1"/><circle cx="1345.1" cy="939.5" r="1.1"/><circle cx="1039.8" cy="969.5" r="1.1"/><circle cx="1066.6" cy="966.1" r="1.1"/><circle cx="1094.9" cy="974.7" r="1.1"/><circle cx="1131.7" cy="965.7" r="1.1"/><circle cx="1159" cy="964.6" r="1.1"/><circle cx="1186.5" cy="972.8" r="1.1"/><circle cx="1221.8" cy="969.7" r="1.1"/><circle cx="1247.3" cy="971.8" r="1.1"/><circle cx="1285.5" cy="969.2" r="1.1"/><circle cx="1304.8" cy="964.7" r="1.1"/><circle cx="1335" cy="975.5" r="1.1"/><circle cx="1040.5" cy="1008" r="1.1"/><circle cx="1066" cy="1001.1" r="1.1"/><circle cx="1102.3" cy="1008.7" r="1.1"/><circle cx="1128.1" cy="998.8" r="1.1"/><circle cx="1164.4" cy="1001.5" r="1.1"/><circle cx="1192.9" cy="999.9" r="1.1"/><circle cx="1222.3" cy="1008.1" r="1.1"/><circle cx="1252.7" cy="1002.3" r="1.1"/><circle cx="1282.7" cy="999.7" r="1.1"/><circle cx="1307.8" cy="1003" r="1.1"/><circle cx="1344.5" cy="999.8" r="1.1"/><circle cx="1044.6" cy="1041.6" r="1.1"/><circle cx="1075.7" cy="1036.4" r="1.1"/><circle cx="1096.5" cy="1034.9" r="1.1"/><circle cx="1133.9" cy="1043.6" r="1.1"/><circle cx="1162.4" cy="1037.8" r="1.1"/><circle cx="1187.4" cy="1042" r="1.1"/><circle cx="1224.5" cy="1033.1" r="1.1"/><circle cx="1246.6" cy="1042" r="1.1"/><circle cx="1284.2" cy="1035.8" r="1.1"/><circle cx="1307.4" cy="1037.2" r="1.1"/><circle cx="1340.5" cy="1033.1" r="1.1"/><circle cx="1044" cy="1072.4" r="1.1"/><circle cx="1073.3" cy="1068.8" r="1.1"/><circle cx="1105.6" cy="1075" r="1.1"/><circle cx="1128.1" cy="1077.4" r="1.1"/><circle cx="1162.4" cy="1076.1" r="1.1"/><circle cx="1184.5" cy="1066.7" r="1.1"/><circle cx="1222.9" cy="1069.7" r="1.1"/><circle cx="1250.2" cy="1067.9" r="1.1"/><circle cx="1285.7" cy="1072" r="1.1"/><circle cx="1313.9" cy="1066.9" r="1.1"/><circle cx="1339.7" cy="1066.7" r="1.1"/><circle cx="1044.6" cy="1105.3" r="1.1"/><circle cx="1064.8" cy="1100.9" r="1.1"/><circle cx="1100.5" cy="1100.9" r="1.1"/><circle cx="1126.2" cy="1105.2" r="1.1"/><circle cx="1160" cy="1107" r="1.1"/><circle cx="1191.4" cy="1104.5" r="1.1"/><circle cx="1221.4" cy="1101.9" r="1.1"/><circle cx="1247.3" cy="1109.6" r="1.1"/><circle cx="1275.8" cy="1102.7" r="1.1"/><circle cx="1306.9" cy="1105.8" r="1.1"/><circle cx="1334" cy="1100.4" r="1.1"/><circle cx="1039.5" cy="1136" r="1.1"/><circle cx="1072.2" cy="1143.5" r="1.1"/><circle cx="1100.9" cy="1142.3" r="1.1"/><circle cx="1128.7" cy="1134.6" r="1.1"/><circle cx="1159.3" cy="1138.5" r="1.1"/><circle cx="1191.2" cy="1135.6" r="1.1"/><circle cx="1216.7" cy="1143.8" r="1.1"/><circle cx="1247.2" cy="1138.9" r="1.1"/><circle cx="1285.2" cy="1137.3" r="1.1"/><circle cx="1305.7" cy="1142.4" r="1.1"/><circle cx="1340.8" cy="1141.3" r="1.1"/><circle cx="1034.5" cy="1173" r="1.1"/><circle cx="1064.1" cy="1171" r="1.1"/><circle cx="1102.5" cy="1168.7" r="1.1"/><circle cx="1127.5" cy="1179.9" r="1.1"/><circle cx="1165.7" cy="1173.8" r="1.1"/><circle cx="1192.8" cy="1175.6" r="1.1"/><circle cx="1219.6" cy="1178.3" r="1.1"/><circle cx="1246.1" cy="1177.9" r="1.1"/><circle cx="1274.5" cy="1178.4" r="1.1"/><circle cx="1312.1" cy="1173.4" r="1.1"/><circle cx="1342.1" cy="1173.5" r="1.1"/><circle cx="1043.4" cy="1203.4" r="1.1"/><circle cx="1070.1" cy="1212.5" r="1.1"/><circle cx="1105.1" cy="1204.6" r="1.1"/><circle cx="1127" cy="1212.8" r="1.1"/><circle cx="1158.1" cy="1202.7" r="1.1"/><circle cx="1192.6" cy="1207" r="1.1"/><circle cx="1222.8" cy="1207.7" r="1.1"/><circle cx="1250" cy="1207" r="1.1"/><circle cx="1277.5" cy="1212.8" r="1.1"/><circle cx="1312" cy="1211.5" r="1.1"/><circle cx="1344.7" cy="1205" r="1.1"/><circle cx="1045" cy="1246.4" r="1.1"/><circle cx="1070.1" cy="1242.8" r="1.1"/><circle cx="1095.4" cy="1245.1" r="1.1"/><circle cx="1126.1" cy="1242.4" r="1.1"/><circle cx="1155.5" cy="1236.9" r="1.1"/><circle cx="1191.3" cy="1241.9" r="1.1"/><circle cx="1222.1" cy="1245.5" r="1.1"/><circle cx="1255.8" cy="1237" r="1.1"/><circle cx="1281.6" cy="1242.9" r="1.1"/><circle cx="1311.8" cy="1242.5" r="1.1"/><circle cx="1340.7" cy="1246.4" r="1.1"/><circle cx="1039.4" cy="1276.4" r="1.1"/><circle cx="1072.3" cy="1271.1" r="1.1"/><circle cx="1099.2" cy="1271.2" r="1.1"/><circle cx="1125.7" cy="1270" r="1.1"/><circle cx="1156.5" cy="1272.6" r="1.1"/><circle cx="1190.2" cy="1276.8" r="1.1"/><circle cx="1223.9" cy="1275.8" r="1.1"/><circle cx="1254.7" cy="1274.7" r="1.1"/><circle cx="1282.9" cy="1276.6" r="1.1"/><circle cx="1311.5" cy="1273.2" r="1.1"/><circle cx="1345.3" cy="1279.2" r="1.1"/><circle cx="1035.7" cy="1310.4" r="1.1"/><circle cx="1075.9" cy="1304.6" r="1.1"/><circle cx="1097.6" cy="1312.9" r="1.1"/><circle cx="1124.5" cy="1313" r="1.1"/><circle cx="1160.9" cy="1312.8" r="1.1"/><circle cx="1190.6" cy="1315.3" r="1.1"/><circle cx="1218.2" cy="1310.9" r="1.1"/><circle cx="1244.6" cy="1310.6" r="1.1"/><circle cx="1279" cy="1315.8" r="1.1"/><circle cx="1315.3" cy="1305.7" r="1.1"/><circle cx="1334.5" cy="1305.4" r="1.1"/><circle cx="1036.3" cy="1346.7" r="1.1"/><circle cx="1070.5" cy="1344.4" r="1.1"/><circle cx="1099.6" cy="1338.1" r="1.1"/><circle cx="1128.7" cy="1350" r="1.1"/><circle cx="1163.8" cy="1344.9" r="1.1"/><circle cx="1186.4" cy="1349" r="1.1"/><circle cx="1219.1" cy="1345.4" r="1.1"/><circle cx="1246.4" cy="1341.9" r="1.1"/><circle cx="1278.1" cy="1342.7" r="1.1"/><circle cx="1304.3" cy="1345.9" r="1.1"/><circle cx="1336" cy="1345.2" r="1.1"/><circle cx="1041.4" cy="1380.4" r="1.1"/><circle cx="1067.5" cy="1375.5" r="1.1"/><circle cx="1103.1" cy="1376.7" r="1.1"/><circle cx="1125.8" cy="1382.9" r="1.1"/><circle cx="1154.2" cy="1382.6" r="1.1"/><circle cx="1187.5" cy="1376.6" r="1.1"/><circle cx="1225.7" cy="1377.2" r="1.1"/><circle cx="1252.6" cy="1376.9" r="1.1"/><circle cx="1285" cy="1380.6" r="1.1"/><circle cx="1309.8" cy="1373" r="1.1"/><circle cx="1338.4" cy="1377.9" r="1.1"/><circle cx="1037.4" cy="1412.4" r="1.1"/><circle cx="1066.5" cy="1411.9" r="1.1"/><circle cx="1100.3" cy="1414.1" r="1.1"/><circle cx="1132.9" cy="1414.8" r="1.1"/><circle cx="1159.1" cy="1411.5" r="1.1"/><circle cx="1194.5" cy="1410.4" r="1.1"/><circle cx="1222.9" cy="1417.9" r="1.1"/><circle cx="1255.1" cy="1412.6" r="1.1"/><circle cx="1277.7" cy="1413.5" r="1.1"/><circle cx="1312.2" cy="1412.3" r="1.1"/><circle cx="1338.1" cy="1411.5" r="1.1"/><circle cx="1035" cy="1443.5" r="1.1"/><circle cx="1065.7" cy="1448" r="1.1"/><circle cx="1105.5" cy="1441.9" r="1.1"/><circle cx="1124.3" cy="1448.9" r="1.1"/><circle cx="1158.2" cy="1446.1" r="1.1"/><circle cx="1184.7" cy="1442.1" r="1.1"/><circle cx="1222.3" cy="1447.3" r="1.1"/><circle cx="1254.2" cy="1451.6" r="1.1"/><circle cx="1278.3" cy="1447.4" r="1.1"/><circle cx="1309.4" cy="1446.1" r="1.1"/><circle cx="1338.7" cy="1451.7" r="1.1"/></g>
</g>
<g filter="url(#soft)">
<rect x="1389.5" y="777.2" width="22.4" height="70.5" fill="#f84408"/>
<rect x="1389.5" y="847.2" width="22.4" height="70.5" fill="#fda40e"/>
<rect x="1389.5" y="917.2" width="22.4" height="70.5" fill="#fffc10"/>
<rect x="1389.5" y="987.2" width="22.4" height="70.5" fill="#b2f80e"/>
<rect x="1389.5" y="1057.2" width="22.4" height="70.5" fill="#44f60e"/>
<rect x="1389.5" y="1127.2" width="22.4" height="70.5" fill="#0cf05c"/>
<rect x="1389.5" y="1197.3" width="22.4" height="70.5" fill="#0cf2b6"/>
<rect x="1389.5" y="1267.3" width="22.4" height="70.5" fill="#0cf6fc"/>
<rect x="1389.5" y="1337.3" width="22.4" height="70.5" fill="#14a0f2"/>
<rect x="1389.5" y="1407.3" width="22.4" height="70.5" fill="#0640f4"/>
<path d="M1410.9,777.2 h4" stroke="#222" stroke-width="1.2"/>
<path d="M1410.9,847.2 h4" stroke="#222" stroke-width="1.2"/>
<path d="M1410.9,917.2 h4" stroke="#222" stroke-width="1.2"/>
<path d="M1410.9,987.2 h4" stroke="#222" stroke-width="1.2"/>
<path d="M1410.9,1057.2 h4" stroke="#222" stroke-width="1.2"/>
<path d="M1410.9,1127.2 h4" stroke="#222" stroke-width="1.2"/>
<path d="M1410.9,1197.3 h4" stroke="#222" stroke-width="1.2"/>
<path d="M1410.9,1267.3 h4" stroke="#222" stroke-width="1.2"/>
<path d="M1410.9,1337.3 h4" stroke="#222" stroke-width="1.2"/>
<path d="M1410.9,1407.3 h4" stroke="#222" stroke-width="1.2"/>
<path d="M1410.9,1477.3 h4" stroke="#222" stroke-width="1.2"/>
<g font-family="'Liberation Serif', 'DejaVu Serif', serif" font-size="40.5" fill="#111">
<text x="1420" y="793.8" transform="translate(1420 0) scale(1.02 1) translate(-1420 0)">1.78</text>
<text x="1420" y="863.8" transform="translate(1420 0) scale(1.02 1) translate(-1420 0)">1.60</text>
<text x="1420" y="933.8" transform="translate(1420 0) scale(1.02 1) translate(-1420 0)">1.43</text>
<text x="1420" y="1003.8" transform="translate(1420 0) scale(1.02 1) translate(-1420 0)">1.25</text>
<text x="1420" y="1073.8" transform="translate(1420 0) scale(1.02 1) translate(-1420 0)">1.07</text>
<text x="1420" y="1143.8" transform="translate(1420 0) scale(1.02 1) translate(-1420 0)">0.89</text>
<text x="1420" y="1213.9" transform="translate(1420 0) scale(1.02 1) translate(-1420 0)">0.71</text>
<text x="1420" y="1283.9" transform="translate(1420 0) scale(1.02 1) translate(-1420 0)">0.53</text>
<text x="1420" y="1353.9" transform="translate(1420 0) scale(1.02 1) translate(-1420 0)">0.36</text>
<text x="1420" y="1423.9" transform="translate(1420 0) scale(1.02 1) translate(-1420 0)">0.18</text>
<text x="1420" y="1493.9" transform="translate(1420 0) scale(1.02 1) translate(-1420 0)">0.00</text>
</g></g>
<g font-family="'Liberation Serif', 'DejaVu Serif', serif" font-weight="bold" fill="#000">
<text x="471.6" y="32" font-size="44.8">Present Study</text>
<text x="1023" y="48" font-size="44.8">Feng et al. [18]</text>
<text x="1.7" y="430.4" font-size="45.25">Temperture Contour</text>
<text x="89" y="1195.4" font-size="45.5">Velocity Contour</text>
</g>
</svg>
</body>
</html>
